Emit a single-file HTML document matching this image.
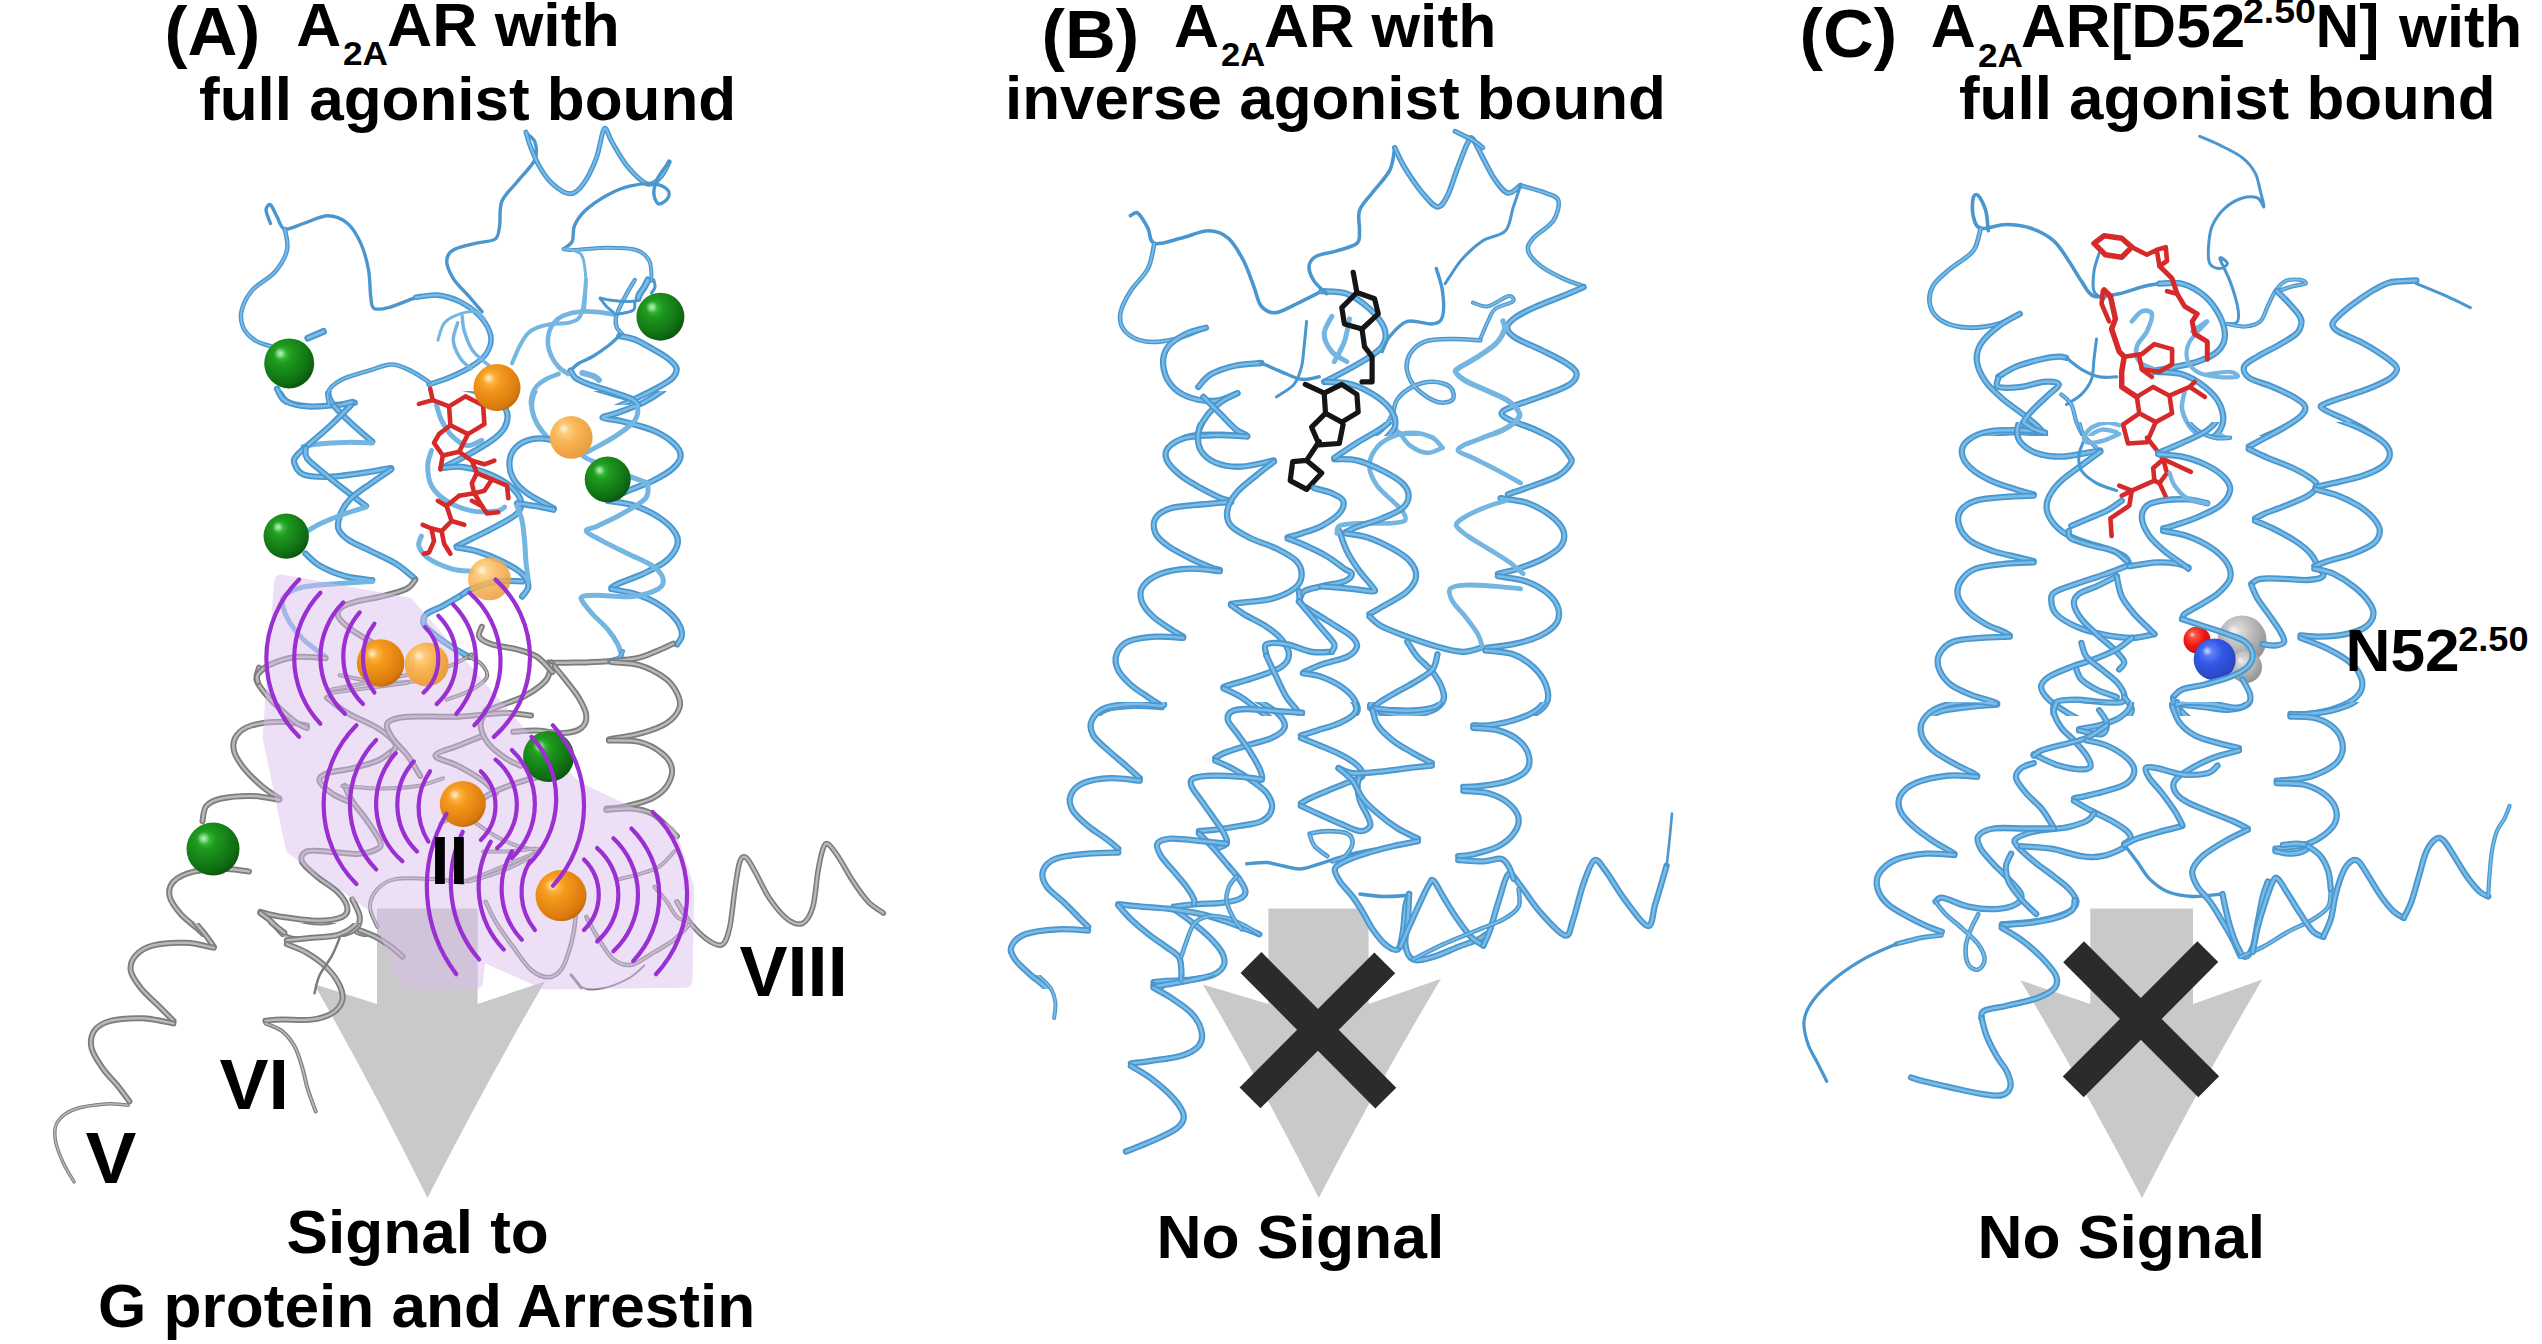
<!DOCTYPE html><html><head><meta charset="utf-8"><title>A2AAR signaling</title><style>html,body{margin:0;padding:0;background:#fff}svg{display:block}text{font-family:"Liberation Sans",sans-serif;font-weight:bold;fill:#000}.b{fill:none;stroke:#4a96cf;stroke-linecap:round;stroke-linejoin:round}.bl{fill:none;stroke:#74b5e1;stroke-linecap:round;stroke-linejoin:round}.bh{fill:none;stroke:#7abce6;stroke-linecap:round;stroke-linejoin:round}.g{fill:none;stroke:#7c7c7c;stroke-linecap:round;stroke-linejoin:round}.gh{fill:none;stroke:#b9b9b9;stroke-linecap:round;stroke-linejoin:round}.p{fill:none;stroke:#9a2fd2;stroke-width:4.2;stroke-linecap:round}.r{fill:none;stroke:#d62a2a;stroke-linecap:round;stroke-linejoin:round}.k{fill:none;stroke:#151515;stroke-linecap:round;stroke-linejoin:round}</style></head><body>
<svg width="2542" height="1344" viewBox="0 0 2542 1344">
<defs>
<radialGradient id="gg" cx="0.36" cy="0.32" r="0.75"><stop offset="0" stop-color="#3fd23f"/><stop offset="0.25" stop-color="#1f9a1f"/><stop offset="0.8" stop-color="#0e6b12"/><stop offset="1" stop-color="#0a4f0d"/></radialGradient>
<radialGradient id="og" cx="0.36" cy="0.32" r="0.75"><stop offset="0" stop-color="#ffc65c"/><stop offset="0.3" stop-color="#f59a1d"/><stop offset="0.85" stop-color="#d9780c"/><stop offset="1" stop-color="#b6600a"/></radialGradient>
<radialGradient id="ol" cx="0.36" cy="0.32" r="0.75"><stop offset="0" stop-color="#ffd98e"/><stop offset="0.4" stop-color="#f9b454"/><stop offset="1" stop-color="#e79a3c"/></radialGradient>
<radialGradient id="gy" cx="0.4" cy="0.32" r="0.75"><stop offset="0" stop-color="#e4e4e4"/><stop offset="0.5" stop-color="#b4b4b4"/><stop offset="1" stop-color="#8a8a8a"/></radialGradient>
<radialGradient id="bl" cx="0.38" cy="0.32" r="0.75"><stop offset="0" stop-color="#6b8cff"/><stop offset="0.4" stop-color="#3358e6"/><stop offset="1" stop-color="#2740b8"/></radialGradient>
<radialGradient id="rd" cx="0.38" cy="0.32" r="0.75"><stop offset="0" stop-color="#ff6a5a"/><stop offset="0.5" stop-color="#f01a10"/><stop offset="1" stop-color="#c40d08"/></radialGradient>
<radialGradient id="sp" cx="0.5" cy="0.5" r="0.5"><stop offset="0" stop-color="#fff" stop-opacity="0.7"/><stop offset="0.5" stop-color="#fff" stop-opacity="0.35"/><stop offset="1" stop-color="#fff" stop-opacity="0"/></radialGradient>
<clipPath id="ca1"><rect x="0" y="0" width="900" height="405"/></clipPath>
<clipPath id="ca2"><rect x="0" y="391" width="900" height="306"/></clipPath>
<clipPath id="ca3"><rect x="0" y="600" width="900" height="337"/></clipPath>
<clipPath id="ca5"><rect x="0" y="923" width="900" height="421"/></clipPath>
<clipPath id="cb1"><rect x="900" y="0" width="900" height="436"/></clipPath>
<clipPath id="cb2"><rect x="900" y="422" width="900" height="294"/></clipPath>
<clipPath id="cb3"><rect x="900" y="702" width="900" height="287"/></clipPath>
<clipPath id="cb4"><rect x="900" y="975" width="900" height="369"/></clipPath>
<clipPath id="cc1"><rect x="1750" y="0" width="800" height="436"/></clipPath>
<clipPath id="cc2"><rect x="1750" y="422" width="800" height="294"/></clipPath>
<clipPath id="cc3"><rect x="1750" y="702" width="800" height="642"/></clipPath>
</defs>
<rect width="2542" height="1344" fill="#fff"/>
<path d="M377 908.5L477.6 908.5L477.6 1004L545 981.5Q483.1 1088 427.5 1198Q373.9 1089.2 314 984L377 1004Z" fill="#c9c9c9"/>
<path d="M1268.4 908.5L1356.6 908.5Q1368.6 908.5 1368.6 927.7L1368.6 1004L1441 978.7Q1376.6 1086.5 1318.7 1198Q1264 1089.4 1202.8 984.4L1268.4 1004Z" fill="#c9c9c9"/>
<path d="M2090.3 908.5L2193 908.5L2193 1004L2262.3 979.5Q2199 1087 2142 1198Q2084.3 1087.3 2020.3 980.2L2090.3 1004Z" fill="#c9c9c9"/>
<circle cx="2242" cy="640" r="24.5" fill="url(#gy)" opacity="1"/>
<circle cx="2233.2" cy="630.2" r="5.9" fill="url(#sp)"/>
<circle cx="2246" cy="667" r="16" fill="url(#gy)" opacity="1"/>
<circle cx="2240.2" cy="660.6" r="3.8" fill="url(#sp)"/>
<circle cx="2197" cy="640" r="13.5" fill="url(#rd)" opacity="1"/>
<circle cx="2192.1" cy="634.6" r="3.2" fill="url(#sp)"/>
<circle cx="2214.7" cy="659.4" r="21" fill="url(#bl)" opacity="1"/>
<circle cx="2207.1" cy="651" r="5" fill="url(#sp)"/>
<path class="b" stroke-width="6.3" d="M276.6 386.3C278.3 388.8 281.5 398 286.7 401.4C292 404.8 300.4 405.8 308.1 406.4C315.9 407.1 325.5 405.8 333.3 405.2C341.1 404.5 351.1 403.1 354.7 402.7" clip-path="url(#ca2)"/>
<path class="bh" stroke-width="2.6" d="M276.6 386.3C278.3 388.8 281.5 398 286.7 401.4C292 404.8 300.4 405.8 308.1 406.4C315.9 407.1 325.5 405.8 333.3 405.2C341.1 404.5 351.1 403.1 354.7 402.7" clip-path="url(#ca2)"/>
<path class="b" stroke-width="6.3" d="M332 383.8C331.4 385.5 327.8 390.1 328.3 393.8C328.7 397.6 330.4 401.2 334.6 406.4C338.8 411.7 347.1 419.4 353.4 425.3C359.7 431.2 369.2 439 372.3 441.7" clip-path="url(#ca2)"/>
<path class="bh" stroke-width="2.6" d="M332 383.8C331.4 385.5 327.8 390.1 328.3 393.8C328.7 397.6 330.4 401.2 334.6 406.4C338.8 411.7 347.1 419.4 353.4 425.3C359.7 431.2 369.2 439 372.3 441.7" clip-path="url(#ca2)"/>
<path class="bl" stroke-width="5" d="M372.3 442.9C367.9 442.9 355.3 442.2 345.9 442.4C336.4 442.6 322.8 443.5 315.7 444.2C308.5 444.9 305.2 446.3 303.1 446.7" clip-path="url(#ca2)"/>
<path class="b" stroke-width="6.3" d="M350.9 405.2C347.6 408.5 337.5 419 330.8 425.3C324.1 431.6 316.3 437.9 310.6 442.9C305 448 299.5 452.2 296.8 455.5C294.1 458.9 293.2 459.9 294.3 463.1C295.3 466.2 297.4 472.1 303.1 474.4C308.7 476.7 318.6 477.1 328.3 476.9C337.9 476.7 350.5 474.6 361 473.2C371.5 471.7 386.2 469 391.2 468.1" clip-path="url(#ca2)"/>
<path class="bh" stroke-width="2.6" d="M350.9 405.2C347.6 408.5 337.5 419 330.8 425.3C324.1 431.6 316.3 437.9 310.6 442.9C305 448 299.5 452.2 296.8 455.5C294.1 458.9 293.2 459.9 294.3 463.1C295.3 466.2 297.4 472.1 303.1 474.4C308.7 476.7 318.6 477.1 328.3 476.9C337.9 476.7 350.5 474.6 361 473.2C371.5 471.7 386.2 469 391.2 468.1" clip-path="url(#ca2)"/>
<path class="b" stroke-width="6.3" d="M305.6 448C305.8 449.7 304.3 454.3 306.9 458C309.4 461.8 314.2 465.2 320.7 470.6C327.2 476.1 338.3 484.9 345.9 490.8C353.4 496.7 362.7 503.4 366 505.9" clip-path="url(#ca2)"/>
<path class="bh" stroke-width="2.6" d="M305.6 448C305.8 449.7 304.3 454.3 306.9 458C309.4 461.8 314.2 465.2 320.7 470.6C327.2 476.1 338.3 484.9 345.9 490.8C353.4 496.7 362.7 503.4 366 505.9" clip-path="url(#ca2)"/>
<path class="b" stroke-width="6.3" d="M391.2 469.4C387.8 471.7 377.8 478.4 371.1 483.2C364.3 488.1 356 493.3 350.9 498.3C345.9 503.4 342.9 508.4 340.8 513.4C338.8 518.5 337.1 524.1 338.3 528.5C339.6 533 342.9 536.1 348.4 539.9C353.9 543.7 363.1 547.2 371.1 551.2C379 555.2 388.9 559.2 396.2 563.8C403.6 568.4 412 576.4 415.1 578.9" clip-path="url(#ca2)"/>
<path class="bh" stroke-width="2.6" d="M391.2 469.4C387.8 471.7 377.8 478.4 371.1 483.2C364.3 488.1 356 493.3 350.9 498.3C345.9 503.4 342.9 508.4 340.8 513.4C338.8 518.5 337.1 524.1 338.3 528.5C339.6 533 342.9 536.1 348.4 539.9C353.9 543.7 363.1 547.2 371.1 551.2C379 555.2 388.9 559.2 396.2 563.8C403.6 568.4 412 576.4 415.1 578.9" clip-path="url(#ca2)"/>
<path class="bl" stroke-width="5" d="M366 507.1C362.7 508.2 353.4 510.7 345.9 513.4C338.3 516.2 327.4 520.4 320.7 523.5C314 526.7 308.1 530.9 305.6 532.3" clip-path="url(#ca2)"/>
<path class="b" stroke-width="6.3" d="M305.6 553.7C308.1 555.8 314 562.5 320.7 566.3C327.4 570.1 337.3 574.1 345.9 576.4C354.5 578.7 367.9 579.5 372.3 580.2" clip-path="url(#ca2)"/>
<path class="bh" stroke-width="2.6" d="M305.6 553.7C308.1 555.8 314 562.5 320.7 566.3C327.4 570.1 337.3 574.1 345.9 576.4C354.5 578.7 367.9 579.5 372.3 580.2" clip-path="url(#ca2)"/>
<path class="bl" stroke-width="5" d="M372.3 581.4C365.8 581.8 345.3 582.9 333.3 583.9C321.3 585 308.7 585.6 300.6 587.7C292.4 589.8 287.1 593.4 284.2 596.5C281.3 599.7 282.1 602.4 282.9 606.6C283.8 610.8 285.9 616.2 289.2 621.7C292.6 627.2 297 633.4 303.1 639.3C309.2 645.2 322 654 325.7 656.9" clip-path="url(#ca2)"/>
<path class="g" stroke-width="6" d="M415.1 580.2C413.7 581.6 412 586.2 406.3 589C400.6 591.7 389.5 594.4 381.1 596.5C372.7 598.6 362.7 599.7 356 601.6C349.2 603.4 343.8 605.3 340.8 607.9C337.9 610.4 336.7 613.1 338.3 616.7C340 620.2 345.5 625.1 350.9 629.3C356.4 633.4 367.7 639.7 371.1 641.8" clip-path="url(#ca2)"/>
<path class="gh" stroke-width="2.5" d="M415.1 580.2C413.7 581.6 412 586.2 406.3 589C400.6 591.7 389.5 594.4 381.1 596.5C372.7 598.6 362.7 599.7 356 601.6C349.2 603.4 343.8 605.3 340.8 607.9C337.9 610.4 336.7 613.1 338.3 616.7C340 620.2 345.5 625.1 350.9 629.3C356.4 633.4 367.7 639.7 371.1 641.8" clip-path="url(#ca2)"/>
<path class="b" stroke-width="6.3" d="M429 380C431.9 380.8 439.5 383.4 446.6 385C453.7 386.7 463.4 387.6 471.8 390.1C480.2 392.6 491.1 396.4 496.9 400.1C502.8 403.9 505.8 408.1 507 412.7C508.3 417.3 507 423.2 504.5 427.8C502 432.5 498.2 435.8 491.9 440.4C485.6 445 474.7 451.1 466.7 455.5C458.8 459.9 447.9 465 444.1 466.9" clip-path="url(#ca2)"/>
<path class="bh" stroke-width="2.6" d="M429 380C431.9 380.8 439.5 383.4 446.6 385C453.7 386.7 463.4 387.6 471.8 390.1C480.2 392.6 491.1 396.4 496.9 400.1C502.8 403.9 505.8 408.1 507 412.7C508.3 417.3 507 423.2 504.5 427.8C502 432.5 498.2 435.8 491.9 440.4C485.6 445 474.7 451.1 466.7 455.5C458.8 459.9 447.9 465 444.1 466.9" clip-path="url(#ca2)"/>
<path class="b" stroke-width="6.3" d="M441.6 468.1C444.9 467.9 454.1 466 461.7 466.9C469.3 467.7 478.9 470 486.9 473.2C494.8 476.3 503.9 481.1 509.5 485.7C515.2 490.4 519.6 496.2 520.9 500.8C522.1 505.5 521.1 509.2 517.1 513.4C513.1 517.6 504.5 521.8 496.9 526C489.4 530.2 478.5 535.3 471.8 538.6C465.1 542 459.2 544.9 456.7 546.2" clip-path="url(#ca2)"/>
<path class="bh" stroke-width="2.6" d="M441.6 468.1C444.9 467.9 454.1 466 461.7 466.9C469.3 467.7 478.9 470 486.9 473.2C494.8 476.3 503.9 481.1 509.5 485.7C515.2 490.4 519.6 496.2 520.9 500.8C522.1 505.5 521.1 509.2 517.1 513.4C513.1 517.6 504.5 521.8 496.9 526C489.4 530.2 478.5 535.3 471.8 538.6C465.1 542 459.2 544.9 456.7 546.2" clip-path="url(#ca2)"/>
<path class="b" stroke-width="6.3" d="M456.7 547.4C460 548.1 469.3 548.9 476.8 551.2C484.4 553.5 494.4 557.5 502 561.3C509.5 565.1 517.7 569.7 522.1 573.9C526.5 578.1 528.4 582.7 528.4 586.5C528.4 590.2 523.2 594.8 522.1 596.5" clip-path="url(#ca2)"/>
<path class="bh" stroke-width="2.6" d="M456.7 547.4C460 548.1 469.3 548.9 476.8 551.2C484.4 553.5 494.4 557.5 502 561.3C509.5 565.1 517.7 569.7 522.1 573.9C526.5 578.1 528.4 582.7 528.4 586.5C528.4 590.2 523.2 594.8 522.1 596.5" clip-path="url(#ca2)"/>
<path class="b" stroke-width="6.3" d="M522.1 581.4C517.9 581.4 505.3 580.2 496.9 581.4C488.6 582.7 478.1 586.5 471.8 589C465.5 591.5 461.3 595.3 459.2 596.5" clip-path="url(#ca2)"/>
<path class="bh" stroke-width="2.6" d="M522.1 581.4C517.9 581.4 505.3 580.2 496.9 581.4C488.6 582.7 478.1 586.5 471.8 589C465.5 591.5 461.3 595.3 459.2 596.5" clip-path="url(#ca2)"/>
<path class="b" stroke-width="6.3" d="M459.2 596.5C456.2 598.2 447 603.7 441.6 606.6C436.1 609.5 429.4 611.2 426.5 614.1C423.5 617.1 422.7 620.9 423.9 624.2C425.2 627.6 429.4 630.5 434 634.3C438.6 638.1 445.8 643.1 451.6 646.9C457.5 650.7 466.3 655.3 469.3 656.9" clip-path="url(#ca2)"/>
<path class="bh" stroke-width="2.6" d="M459.2 596.5C456.2 598.2 447 603.7 441.6 606.6C436.1 609.5 429.4 611.2 426.5 614.1C423.5 617.1 422.7 620.9 423.9 624.2C425.2 627.6 429.4 630.5 434 634.3C438.6 638.1 445.8 643.1 451.6 646.9C457.5 650.7 466.3 655.3 469.3 656.9" clip-path="url(#ca2)"/>
<path class="bl" stroke-width="5" d="M436.5 405.2C437.4 407.7 439 415.2 441.6 420.3C444.1 425.3 447.4 431.2 451.6 435.4C455.8 439.6 461.7 444.6 466.7 445.5C471.8 446.3 479.3 441.3 481.8 440.4" clip-path="url(#ca2)"/>
<path class="bl" stroke-width="5" d="M431.5 450.5C430.9 453 427.7 459.7 427.7 465.6C427.7 471.5 428.3 479.9 431.5 485.7C434.6 491.6 439.9 496.7 446.6 500.8C453.3 505 463.4 509.2 471.8 510.9C480.2 512.6 491.5 511.5 496.9 510.9C502.4 510.3 503.2 507.8 504.5 507.1" clip-path="url(#ca2)"/>
<path class="bl" stroke-width="5" d="M421.4 536.1C421 537.8 417.6 542.4 418.9 546.2C420.2 549.9 423.5 555 429 558.8C434.4 562.5 444.5 566.7 451.6 568.8C458.8 570.9 468.4 570.9 471.8 571.3" clip-path="url(#ca2)"/>
<path class="bl" stroke-width="5" d="M542.3 380C540.8 382.5 535.1 390.1 533.5 395.1C531.8 400.1 531.1 404.8 532.2 410.2C533.2 415.7 536 422.4 539.7 427.8C543.5 433.3 548.6 439.4 554.9 442.9C561.1 446.5 573.7 448.2 577.5 449.2" clip-path="url(#ca2)"/>
<path class="b" stroke-width="6.3" d="M577.5 449.2C572.5 447.6 555.7 440.6 547.3 439.2C538.9 437.7 532.8 438.5 527.2 440.4C521.5 442.3 516.2 446.3 513.3 450.5C510.4 454.7 509.3 460.6 509.5 465.6C509.7 470.6 511.6 476.1 514.6 480.7C517.5 485.3 522.1 489.5 527.2 493.3C532.2 497.1 540.4 500.8 544.8 503.4C549.2 505.9 552.1 507.6 553.6 508.4" clip-path="url(#ca2)"/>
<path class="bh" stroke-width="2.6" d="M577.5 449.2C572.5 447.6 555.7 440.6 547.3 439.2C538.9 437.7 532.8 438.5 527.2 440.4C521.5 442.3 516.2 446.3 513.3 450.5C510.4 454.7 509.3 460.6 509.5 465.6C509.7 470.6 511.6 476.1 514.6 480.7C517.5 485.3 522.1 489.5 527.2 493.3C532.2 497.1 540.4 500.8 544.8 503.4C549.2 505.9 552.1 507.6 553.6 508.4" clip-path="url(#ca2)"/>
<path class="b" stroke-width="6.3" d="M553.6 509.7C550.4 509 540.8 506.9 534.7 505.9C528.6 504.8 520 503.8 517.1 503.4" clip-path="url(#ca2)"/>
<path class="bh" stroke-width="2.6" d="M553.6 509.7C550.4 509 540.8 506.9 534.7 505.9C528.6 504.8 520 503.8 517.1 503.4" clip-path="url(#ca2)"/>
<path class="bl" stroke-width="5" d="M517.1 505.9C517.9 508.4 520.9 515.1 522.1 521C523.4 526.9 524 534.4 524.6 541.1C525.3 547.8 525.3 554.6 525.9 561.3C526.5 568 528 578.1 528.4 581.4" clip-path="url(#ca2)"/>
<path class="b" stroke-width="6.3" d="M572.5 380C575.8 381.3 585.1 385 592.6 387.6C600.2 390.1 611.1 393.2 617.8 395.1C624.5 397 630.4 398.3 632.9 398.9" clip-path="url(#ca2)"/>
<path class="bh" stroke-width="2.6" d="M572.5 380C575.8 381.3 585.1 385 592.6 387.6C600.2 390.1 611.1 393.2 617.8 395.1C624.5 397 630.4 398.3 632.9 398.9" clip-path="url(#ca2)"/>
<path class="b" stroke-width="6.3" d="M673.2 380C671.5 381.7 668.2 386.3 663.1 390.1C658.1 393.8 650.5 398.9 643 402.7C635.4 406.4 624.5 410.2 617.8 412.7C611.1 415.2 601.9 416.3 602.7 417.8C603.5 419.2 614.4 419.4 622.8 421.5C631.2 423.6 644.7 426.8 653 430.4C661.4 433.9 668.6 438.7 673.2 442.9C677.8 447.1 680.7 451.3 680.7 455.5C680.7 459.7 677.8 463.9 673.2 468.1C668.6 472.3 660.6 476.9 653 480.7C645.5 484.5 635.4 487.6 627.9 490.8C620.3 493.9 611.1 498.1 607.7 499.6" clip-path="url(#ca2)"/>
<path class="bh" stroke-width="2.6" d="M673.2 380C671.5 381.7 668.2 386.3 663.1 390.1C658.1 393.8 650.5 398.9 643 402.7C635.4 406.4 624.5 410.2 617.8 412.7C611.1 415.2 601.9 416.3 602.7 417.8C603.5 419.2 614.4 419.4 622.8 421.5C631.2 423.6 644.7 426.8 653 430.4C661.4 433.9 668.6 438.7 673.2 442.9C677.8 447.1 680.7 451.3 680.7 455.5C680.7 459.7 677.8 463.9 673.2 468.1C668.6 472.3 660.6 476.9 653 480.7C645.5 484.5 635.4 487.6 627.9 490.8C620.3 493.9 611.1 498.1 607.7 499.6" clip-path="url(#ca2)"/>
<path class="b" stroke-width="6.3" d="M607.7 500.8C612.3 501.7 626.6 502.9 635.4 505.9C644.2 508.8 653.9 513.9 660.6 518.5C667.3 523.1 673 529 675.7 533.6C678.4 538.2 678.6 541.6 677 546.2C675.3 550.8 671.3 556.7 665.6 561.3C660 565.9 650.9 570.1 643 573.9C635 577.6 623 581.6 617.8 583.9C612.6 586.2 612.6 587.1 611.5 587.7" clip-path="url(#ca2)"/>
<path class="bh" stroke-width="2.6" d="M607.7 500.8C612.3 501.7 626.6 502.9 635.4 505.9C644.2 508.8 653.9 513.9 660.6 518.5C667.3 523.1 673 529 675.7 533.6C678.4 538.2 678.6 541.6 677 546.2C675.3 550.8 671.3 556.7 665.6 561.3C660 565.9 650.9 570.1 643 573.9C635 577.6 623 581.6 617.8 583.9C612.6 586.2 612.6 587.1 611.5 587.7" clip-path="url(#ca2)"/>
<path class="b" stroke-width="6.3" d="M611.5 589C615.5 589.8 627.7 591.5 635.4 594C643.2 596.5 651.4 599.9 658.1 604.1C664.8 608.3 671.7 614.1 675.7 619.2C679.7 624.2 681.8 630.1 682 634.3C682.2 638.5 677.8 642.7 677 644.4" clip-path="url(#ca2)"/>
<path class="bh" stroke-width="2.6" d="M611.5 589C615.5 589.8 627.7 591.5 635.4 594C643.2 596.5 651.4 599.9 658.1 604.1C664.8 608.3 671.7 614.1 675.7 619.2C679.7 624.2 681.8 630.1 682 634.3C682.2 638.5 677.8 642.7 677 644.4" clip-path="url(#ca2)"/>
<path class="bl" stroke-width="5" d="M632.9 400.1C633.7 401.8 637.9 406.4 637.9 410.2C637.9 414 637.1 418.2 632.9 422.8C628.7 427.4 619.9 433.3 612.8 437.9C605.6 442.5 595.1 447.6 590.1 450.5C585.1 453.4 580.5 453 582.5 455.5C584.6 458 595.1 462.2 602.7 465.6C610.2 469 620.3 472.7 627.9 475.7C635.4 478.6 644.7 482 648 483.2" clip-path="url(#ca2)"/>
<path class="bl" stroke-width="5" d="M648 484.5C647.6 486.8 649.7 493.5 645.5 498.3C641.3 503.2 630.8 508.8 622.8 513.4C614.9 518.1 603.7 523.1 597.7 526C591.6 529 585.5 528.5 586.3 531.1C587.2 533.6 595.8 537.4 602.7 541.1C609.6 544.9 619.5 549.5 627.9 553.7C636.3 557.9 647.2 562.1 653 566.3C658.9 570.5 662.3 575.1 663.1 578.9C664 582.7 663.1 586 658.1 589C653 591.9 643 595.5 632.9 596.5C622.8 597.6 606 595.3 597.7 595.3C589.3 595.3 585.1 595.5 582.5 596.5C580 597.6 580.9 598.6 582.5 601.6C584.2 604.5 588.4 609.5 592.6 614.1C596.8 618.8 603.5 624.2 607.7 629.3C611.9 634.3 615.3 639.3 617.8 644.4C620.3 649.4 622 656.9 622.8 659.5" clip-path="url(#ca2)"/>
<path class="b" stroke-width="3.4" d="M270.5 223.5C269.8 221.3 266.1 213.4 266.1 210.3C266.1 207.2 268.7 203.7 270.5 204.8C272.3 205.9 274.7 212.9 277.1 216.9C279.5 221 280.4 227.9 284.8 229C289.2 230.1 296.4 225.7 303.5 223.5C310.7 221.3 320.4 215.8 327.8 215.8C335.1 215.8 342.1 219 347.6 223.5C353.1 228.1 357.3 235.7 360.8 243.4C364.3 251.1 366.9 261 368.5 269.8C370.2 278.6 369.8 289.8 370.7 296.2C371.6 302.7 370.9 306.5 374 308.4C377.2 310.2 382.5 309.1 389.5 307.3C396.4 305.4 411.5 299 415.9 297.3" clip-path="url(#ca1)"/>
<path class="b" stroke-width="5.6" d="M415.9 297.3C419.6 297 430.6 294.4 437.9 295.1C445.3 295.9 453 298.3 460 301.7C466.9 305.2 474.6 310.4 479.8 316.1C484.9 321.8 489.7 329.7 490.8 335.9C491.9 342.1 489.7 348.4 486.4 353.5C483.1 358.7 477.2 362.7 471 366.7C464.7 370.8 455.9 374.8 448.9 377.7C442 380.7 432.4 383.3 429.1 384.4" clip-path="url(#ca1)"/>
<path class="bh" stroke-width="2.4" d="M415.9 297.3C419.6 297 430.6 294.4 437.9 295.1C445.3 295.9 453 298.3 460 301.7C466.9 305.2 474.6 310.4 479.8 316.1C484.9 321.8 489.7 329.7 490.8 335.9C491.9 342.1 489.7 348.4 486.4 353.5C483.1 358.7 477.2 362.7 471 366.7C464.7 370.8 455.9 374.8 448.9 377.7C442 380.7 432.4 383.3 429.1 384.4" clip-path="url(#ca1)"/>
<path class="b" stroke-width="4.5" d="M284.8 229C285.2 232.5 288.7 242.8 287 250C285.4 257.1 280.6 265.4 274.9 272C269.2 278.6 258.4 283.4 252.9 289.6C247.4 295.9 243.5 303.2 241.9 309.5C240.2 315.7 240.8 321.9 243 327.1C245.2 332.2 250.1 337 255.1 340.3C260 343.6 269.8 345.8 272.7 346.9" clip-path="url(#ca1)"/>
<path class="bh" stroke-width="1.9" d="M284.8 229C285.2 232.5 288.7 242.8 287 250C285.4 257.1 280.6 265.4 274.9 272C269.2 278.6 258.4 283.4 252.9 289.6C247.4 295.9 243.5 303.2 241.9 309.5C240.2 315.7 240.8 321.9 243 327.1C245.2 332.2 250.1 337 255.1 340.3C260 343.6 269.8 345.8 272.7 346.9" clip-path="url(#ca1)"/>
<path class="b" stroke-width="7" d="M307.9 338.1L323.4 331.5" clip-path="url(#ca1)"/>
<path class="bh" stroke-width="2.9" d="M307.9 338.1L323.4 331.5" clip-path="url(#ca1)"/>
<path class="b" stroke-width="6.3" d="M277.1 388.8C278.2 390.6 280 396.8 283.7 399.8C287.4 402.7 292.5 404.9 299.1 406.4C305.7 407.9 314.6 409.3 323.4 408.6C332.2 407.9 347.2 403.1 352 402" clip-path="url(#ca1)"/>
<path class="bh" stroke-width="2.6" d="M277.1 388.8C278.2 390.6 280 396.8 283.7 399.8C287.4 402.7 292.5 404.9 299.1 406.4C305.7 407.9 314.6 409.3 323.4 408.6C332.2 407.9 347.2 403.1 352 402" clip-path="url(#ca1)"/>
<path class="b" stroke-width="4.5" d="M332.2 415.2C331.4 411.5 326.3 399 327.8 393.2C329.2 387.3 334.4 383.6 341 380C347.6 376.3 359 373.7 367.4 371.1C375.9 368.6 384.3 364.5 391.7 364.5C399 364.5 405.2 368.2 411.5 371.1C417.7 374.1 426.2 380.3 429.1 382.2" clip-path="url(#ca1)"/>
<path class="bh" stroke-width="1.9" d="M332.2 415.2C331.4 411.5 326.3 399 327.8 393.2C329.2 387.3 334.4 383.6 341 380C347.6 376.3 359 373.7 367.4 371.1C375.9 368.6 384.3 364.5 391.7 364.5C399 364.5 405.2 368.2 411.5 371.1C417.7 374.1 426.2 380.3 429.1 382.2" clip-path="url(#ca1)"/>
<path class="bl" stroke-width="3" d="M437.9 340.3C439 337.4 440.9 327.1 444.5 322.7C448.2 318.3 454.8 315.7 460 313.9C465.1 312 471.3 310.9 475.4 311.7C479.4 312.4 482.7 317.2 484.2 318.3" clip-path="url(#ca1)"/>
<path class="bl" stroke-width="3.5" d="M457.7 322.7C457 325.6 453 334.4 453.3 340.3C453.7 346.2 457 353.1 460 357.9C462.9 362.7 469.1 367.1 471 368.9" clip-path="url(#ca1)"/>
<path class="b" stroke-width="3.4" d="M526 133.2C527.5 134.7 533.4 137.6 534.9 142C536.3 146.4 537.8 153 534.9 159.7C531.9 166.3 522.7 174.7 517.2 181.7C511.7 188.7 504.7 194.2 501.8 201.5C498.9 208.9 500.7 219.5 499.6 225.7C498.5 232 499.2 236 495.2 239C491.2 241.9 482.3 241.5 475.4 243.4C468.4 245.2 458.1 247 453.3 250C448.6 252.9 446.7 256.2 446.7 261C446.7 265.8 449.7 272.7 453.3 278.6C457 284.5 464 290.7 468.8 296.2C473.5 301.7 479.8 309.1 482 311.7" clip-path="url(#ca1)"/>
<path class="b" stroke-width="5" d="M526 132.1C526.8 134.5 528.2 140.7 530.4 146.4C532.7 152.1 535.6 160 539.3 166.3C542.9 172.5 547.3 179.3 552.5 183.9C557.6 188.5 565 193.8 570.1 193.8C575.2 193.8 578.9 189.9 583.3 183.9C587.7 177.8 593.1 166.6 596.5 157.5C600 148.3 601.7 131.4 604.2 128.8C606.8 126.2 608.1 135.8 612 142C615.8 148.3 621.5 159.3 627.4 166.3C633.3 173.2 641.7 182.1 647.2 183.9C652.7 185.7 656.8 180.9 660.4 177.3C664.1 173.6 667.8 164.4 669.2 161.9" clip-path="url(#ca1)"/>
<path class="bh" stroke-width="2.1" d="M526 132.1C526.8 134.5 528.2 140.7 530.4 146.4C532.7 152.1 535.6 160 539.3 166.3C542.9 172.5 547.3 179.3 552.5 183.9C557.6 188.5 565 193.8 570.1 193.8C575.2 193.8 578.9 189.9 583.3 183.9C587.7 177.8 593.1 166.6 596.5 157.5C600 148.3 601.7 131.4 604.2 128.8C606.8 126.2 608.1 135.8 612 142C615.8 148.3 621.5 159.3 627.4 166.3C633.3 173.2 641.7 182.1 647.2 183.9C652.7 185.7 656.8 180.9 660.4 177.3C664.1 173.6 667.8 164.4 669.2 161.9" clip-path="url(#ca1)"/>
<path class="b" stroke-width="3.4" d="M669.2 161.9C667.4 164.4 660.8 172.1 658.2 177.3C655.7 182.4 653.8 188.3 653.8 192.7C653.8 197.1 656 202.6 658.2 203.7C660.4 204.8 665.4 201.5 667 199.3C668.7 197.1 670.3 193.1 668.1 190.5C665.9 187.9 660.2 184.6 653.8 183.9C647.4 183.2 637.3 184.3 629.6 186.1C621.9 187.9 614.9 190.9 607.6 194.9C600.2 198.9 591 205.2 585.5 210.3C580 215.5 576.7 220.6 574.5 225.7C572.3 230.9 574.1 237.3 572.3 241.2C570.5 245 565 247.6 563.5 248.9" clip-path="url(#ca1)"/>
<path class="b" stroke-width="4" d="M563.5 248.9C565.3 249.1 567.2 250.2 574.5 250C581.9 249.8 597.3 247.8 607.6 247.8C617.8 247.8 629.2 247.8 636.2 250C643.2 252.2 646.8 255.9 649.4 261C652 266.1 651.2 277.5 651.6 280.8" clip-path="url(#ca1)"/>
<path class="bh" stroke-width="1.7" d="M563.5 248.9C565.3 249.1 567.2 250.2 574.5 250C581.9 249.8 597.3 247.8 607.6 247.8C617.8 247.8 629.2 247.8 636.2 250C643.2 252.2 646.8 255.9 649.4 261C652 266.1 651.2 277.5 651.6 280.8" clip-path="url(#ca1)"/>
<path class="b" stroke-width="4.4" d="M634.8 280C633.4 282.4 629.2 289.1 626.4 294.3C623.7 299.4 619.9 306.8 618.1 311C616.3 315.1 615.9 316.5 615.7 319.3C615.5 322.1 615.7 325 616.9 327.6C618.1 330.2 621.9 333.6 622.9 334.8" clip-path="url(#ca1)"/>
<path class="bh" stroke-width="1.8" d="M634.8 280C633.4 282.4 629.2 289.1 626.4 294.3C623.7 299.4 619.9 306.8 618.1 311C616.3 315.1 615.9 316.5 615.7 319.3C615.5 322.1 615.7 325 616.9 327.6C618.1 330.2 621.9 333.6 622.9 334.8" clip-path="url(#ca1)"/>
<path class="b" stroke-width="6.3" d="M619.3 336C621.9 336.5 629.2 337.3 634.8 339.5C640.3 341.7 647.1 345.9 652.6 349C658.2 352.2 664.1 355.4 668.1 358.6C672.1 361.7 675.6 364.9 676.4 368.1C677.2 371.3 675.8 374.4 672.9 377.6C669.9 380.8 664.9 383.6 658.6 387.1C652.2 390.7 642.7 395.3 634.8 399C626.8 402.8 616.2 407 611 409.8C605.7 412.5 603.2 414.3 603.2 415.7C603.2 417.1 605.7 416.9 611 418.1C616.2 419.3 627.8 420.9 634.8 422.9C641.7 424.8 647.5 427.1 652.6 430C657.8 432.9 663.5 438.3 665.7 440" clip-path="url(#ca1)"/>
<path class="bh" stroke-width="2.6" d="M619.3 336C621.9 336.5 629.2 337.3 634.8 339.5C640.3 341.7 647.1 345.9 652.6 349C658.2 352.2 664.1 355.4 668.1 358.6C672.1 361.7 675.6 364.9 676.4 368.1C677.2 371.3 675.8 374.4 672.9 377.6C669.9 380.8 664.9 383.6 658.6 387.1C652.2 390.7 642.7 395.3 634.8 399C626.8 402.8 616.2 407 611 409.8C605.7 412.5 603.2 414.3 603.2 415.7C603.2 417.1 605.7 416.9 611 418.1C616.2 419.3 627.8 420.9 634.8 422.9C641.7 424.8 647.5 427.1 652.6 430C657.8 432.9 663.5 438.3 665.7 440" clip-path="url(#ca1)"/>
<path class="b" stroke-width="3.4" d="M620.5 334.8C618.5 336.5 613.1 341.9 608.6 345.5C604 349 598.1 353.2 593.1 356.2C588.1 359.2 582.4 361.2 578.8 363.3C575.2 365.5 572.9 368.3 571.7 369.3" clip-path="url(#ca1)"/>
<path class="b" stroke-width="6.3" d="M570.5 370.5C571.3 371.7 572.5 375.4 575.2 377.6C578 379.8 582.2 381.6 587.1 383.6C592.1 385.6 599 387.5 605 389.5C611 391.5 618.1 393.7 622.9 395.5C627.6 397.3 630.8 398.3 633.6 400.2C636.3 402.2 638.7 405 639.5 407.4C640.3 409.8 639.3 411.9 638.3 414.5C637.3 417.1 636.2 420.1 633.6 422.9C631 425.6 626.6 428.8 622.9 431.2C619.1 433.6 614.1 435.7 611 437.1C607.8 438.6 605 439.5 603.8 440" clip-path="url(#ca1)"/>
<path class="bh" stroke-width="2.6" d="M570.5 370.5C571.3 371.7 572.5 375.4 575.2 377.6C578 379.8 582.2 381.6 587.1 383.6C592.1 385.6 599 387.5 605 389.5C611 391.5 618.1 393.7 622.9 395.5C627.6 397.3 630.8 398.3 633.6 400.2C636.3 402.2 638.7 405 639.5 407.4C640.3 409.8 639.3 411.9 638.3 414.5C637.3 417.1 636.2 420.1 633.6 422.9C631 425.6 626.6 428.8 622.9 431.2C619.1 433.6 614.1 435.7 611 437.1C607.8 438.6 605 439.5 603.8 440" clip-path="url(#ca1)"/>
<path class="bl" stroke-width="6" d="M582.4 372.9C584.4 373.5 591.5 375.2 594.3 376.4C597.1 377.6 598.3 379.4 599 380" clip-path="url(#ca1)"/>
<path class="bl" stroke-width="4.6" d="M613.3 314.5C611 314.1 604.4 312.6 599 312.1C593.7 311.6 587.1 311 581.2 311.5C575.2 312.1 567.9 313.8 563.3 315.7C558.8 317.6 556.2 320.1 553.8 322.9C551.4 325.6 550 328.8 549 332.4C548.1 336 547.5 340.3 547.9 344.3C548.3 348.3 549.6 352.4 551.4 356.2C553.2 360 555.8 363.9 558.6 366.9C561.3 369.9 566.5 372.9 568.1 374" clip-path="url(#ca1)"/>
<path class="bl" stroke-width="4" d="M512.1 363.3C513.3 360.6 516.7 351.6 519.3 346.7C521.9 341.7 524.6 336.7 527.6 333.6C530.6 330.4 533.2 329.2 537.1 327.6C541.1 326 546.3 324.8 551.4 324C556.6 323.3 563.7 323.7 568.1 322.9C572.5 322.1 575.2 321.3 577.6 319.3C580 317.3 581.2 315.1 582.4 311C583.6 306.8 584.2 299.4 584.8 294.3C585.4 289.1 585.8 282.4 586 280" clip-path="url(#ca1)"/>
<path class="bl" stroke-width="4.6" d="M558.6 374C556.6 374.8 550.4 376.6 546.7 378.8C542.9 381 538.5 383.8 536 387.1C533.4 390.5 531.8 395.1 531.2 399C530.6 403 531 407 532.4 411C533.8 414.9 536.7 419.1 539.5 422.9C542.3 426.6 546.7 430.7 549 433.6C551.4 436.4 553 438.9 553.8 440" clip-path="url(#ca1)"/>
<path class="b" stroke-width="3" d="M600.2 297.9C602 298.3 606.2 299.6 611 300.2C615.7 300.8 624 301.4 628.8 301.4C633.6 301.4 637.7 300.4 639.5 300.2" clip-path="url(#ca1)"/>
<path class="b" stroke-width="3" d="M600.2 298.5C601.2 299.7 604 303.9 606.2 306.2C608.4 308.5 612.1 311.2 613.3 312.1" clip-path="url(#ca1)"/>
<path class="b" stroke-width="3" d="M634.8 301.4C634.6 302.8 635.6 307.8 633.6 309.8C631.6 311.7 626 312.5 622.9 313.3C619.7 314.1 615.9 314.3 614.5 314.5" clip-path="url(#ca1)"/>
<path class="b" stroke-width="3" d="M653.8 280C654 281.2 655.4 285 655 287.1C654.6 289.3 652 292.1 651.4 293.1" clip-path="url(#ca1)"/>
<path class="b" stroke-width="7" d="M647.9 280C647.3 281.2 645.7 284.8 644.3 287.1C642.9 289.5 640.5 292.5 639.5 294.3C638.5 296.1 638.5 297.3 638.3 297.9" clip-path="url(#ca1)"/>
<path class="bh" stroke-width="2.9" d="M647.9 280C647.3 281.2 645.7 284.8 644.3 287.1C642.9 289.5 640.5 292.5 639.5 294.3C638.5 296.1 638.5 297.3 638.3 297.9" clip-path="url(#ca1)"/>
<path class="bl" stroke-width="3" d="M565.7 248.9C568.3 249.8 577.8 250.2 581.1 254.4C584.4 258.6 584.8 267.2 585.5 274.2C586.3 281.2 585.7 290.2 585.5 296.2C585.3 302.3 584.6 308.2 584.4 310.6" clip-path="url(#ca1)"/>
<path class="bl" stroke-width="3.5" d="M462.2 316.1C462.5 318.6 462.5 325.6 464.4 331.5C466.2 337.4 468.4 345.1 473.2 351.3C477.9 357.6 489.7 366 493 368.9" clip-path="url(#ca1)"/>
<path class="g" stroke-width="6" d="M306.9 725.5C302.8 724.9 291 721.8 281.8 721.8C272.5 721.8 259.1 723.2 251.6 725.5C244 727.8 239.4 731.4 236.5 735.6C233.5 739.8 232.7 745.3 233.9 750.7C235.2 756.2 239.4 762.5 244 768.3C248.6 774.2 255.8 780.9 261.6 786C267.5 791 276.3 796.4 279.3 798.5" clip-path="url(#ca3)"/>
<path class="gh" stroke-width="2.5" d="M306.9 725.5C302.8 724.9 291 721.8 281.8 721.8C272.5 721.8 259.1 723.2 251.6 725.5C244 727.8 239.4 731.4 236.5 735.6C233.5 739.8 232.7 745.3 233.9 750.7C235.2 756.2 239.4 762.5 244 768.3C248.6 774.2 255.8 780.9 261.6 786C267.5 791 276.3 796.4 279.3 798.5" clip-path="url(#ca3)"/>
<path class="g" stroke-width="6" d="M279.3 799.8C274.6 799.2 261.2 796.2 251.6 796C241.9 795.8 228.9 796.9 221.3 798.5C213.8 800.2 209.4 802.3 206.2 806.1C203.1 809.9 203.1 818.7 202.5 821.2" clip-path="url(#ca3)"/>
<path class="gh" stroke-width="2.5" d="M279.3 799.8C274.6 799.2 261.2 796.2 251.6 796C241.9 795.8 228.9 796.9 221.3 798.5C213.8 800.2 209.4 802.3 206.2 806.1C203.1 809.9 203.1 818.7 202.5 821.2" clip-path="url(#ca3)"/>
<path class="g" stroke-width="6" d="M249 871.6C245.3 871.1 235.6 869 226.4 869C217.1 869 202.5 869.5 193.7 871.6C184.8 873.7 177.5 877.4 173.5 881.6C169.5 885.8 168.5 891.3 169.7 896.7C171 902.2 175.8 908.5 181.1 914.4C186.3 920.2 195.5 926.5 201.2 932C206.9 937.4 212.7 944.6 215.1 947.1" clip-path="url(#ca3)"/>
<path class="gh" stroke-width="2.5" d="M249 871.6C245.3 871.1 235.6 869 226.4 869C217.1 869 202.5 869.5 193.7 871.6C184.8 873.7 177.5 877.4 173.5 881.6C169.5 885.8 168.5 891.3 169.7 896.7C171 902.2 175.8 908.5 181.1 914.4C186.3 920.2 195.5 926.5 201.2 932C206.9 937.4 212.7 944.6 215.1 947.1" clip-path="url(#ca3)"/>
<path class="g" stroke-width="6" d="M215.1 948.3C210.2 947.7 196.8 944.6 186.1 944.6C175.4 944.6 159.7 945.8 150.8 948.3C142 950.9 136.6 955.3 133.2 959.7C129.9 964.1 129.9 970.1 130.7 974.8C131.5 979.5 137 985.7 138.3 987.9" clip-path="url(#ca3)"/>
<path class="gh" stroke-width="2.5" d="M215.1 948.3C210.2 947.7 196.8 944.6 186.1 944.6C175.4 944.6 159.7 945.8 150.8 948.3C142 950.9 136.6 955.3 133.2 959.7C129.9 964.1 129.9 970.1 130.7 974.8C131.5 979.5 137 985.7 138.3 987.9" clip-path="url(#ca3)"/>
<path class="g" stroke-width="6" d="M259.1 667.6C258.7 669.7 255.3 675.6 256.6 680.2C257.9 684.8 262.5 690.3 266.7 695.3C270.9 700.4 276.7 705.8 281.8 710.4C286.8 715 292.7 720.1 296.9 723C301.1 726 305.3 727.2 306.9 728" clip-path="url(#ca3)"/>
<path class="gh" stroke-width="2.5" d="M259.1 667.6C258.7 669.7 255.3 675.6 256.6 680.2C257.9 684.8 262.5 690.3 266.7 695.3C270.9 700.4 276.7 705.8 281.8 710.4C286.8 715 292.7 720.1 296.9 723C301.1 726 305.3 727.2 306.9 728" clip-path="url(#ca3)"/>
<path class="g" stroke-width="6" d="M392.5 750.7C390 752.4 384.2 757.8 377.4 760.8C370.7 763.7 360.7 766.2 352.3 768.3C343.9 770.4 332.5 771.3 327.1 773.4C321.6 775.5 318.7 777.6 319.5 780.9C320.4 784.3 327.5 790.2 332.1 793.5C336.7 796.9 344.7 799.8 347.2 801.1" clip-path="url(#ca3)"/>
<path class="gh" stroke-width="2.5" d="M392.5 750.7C390 752.4 384.2 757.8 377.4 760.8C370.7 763.7 360.7 766.2 352.3 768.3C343.9 770.4 332.5 771.3 327.1 773.4C321.6 775.5 318.7 777.6 319.5 780.9C320.4 784.3 327.5 790.2 332.1 793.5C336.7 796.9 344.7 799.8 347.2 801.1" clip-path="url(#ca3)"/>
<path class="g" stroke-width="6" d="M344.7 786C346 788.5 348.5 795.2 352.3 801.1C356 806.9 362.8 814.5 367.4 821.2C372 827.9 378.3 836.7 380 841.3C381.6 846 381.2 846.8 377.4 848.9C373.7 851 365.7 853.5 357.3 853.9C348.9 854.4 335.5 851.8 327.1 851.4C318.7 851 311.1 849.7 306.9 851.4C302.8 853.1 300.2 857.3 301.9 861.5C303.6 865.7 311.1 871.6 317 876.6C322.9 881.6 332.1 886.7 337.2 891.7C342.2 896.7 346.4 902.6 347.2 906.8C348.1 911 347.2 914.6 342.2 916.9C337.2 919.2 327.1 920.7 317 920.7C306.9 920.7 291.2 918.3 281.8 916.9C272.3 915.4 263.9 912.7 260.4 911.8" clip-path="url(#ca3)"/>
<path class="gh" stroke-width="2.5" d="M344.7 786C346 788.5 348.5 795.2 352.3 801.1C356 806.9 362.8 814.5 367.4 821.2C372 827.9 378.3 836.7 380 841.3C381.6 846 381.2 846.8 377.4 848.9C373.7 851 365.7 853.5 357.3 853.9C348.9 854.4 335.5 851.8 327.1 851.4C318.7 851 311.1 849.7 306.9 851.4C302.8 853.1 300.2 857.3 301.9 861.5C303.6 865.7 311.1 871.6 317 876.6C322.9 881.6 332.1 886.7 337.2 891.7C342.2 896.7 346.4 902.6 347.2 906.8C348.1 911 347.2 914.6 342.2 916.9C337.2 919.2 327.1 920.7 317 920.7C306.9 920.7 291.2 918.3 281.8 916.9C272.3 915.4 263.9 912.7 260.4 911.8" clip-path="url(#ca3)"/>
<path class="g" stroke-width="6" d="M260.4 913.1C262.3 914.6 267.3 917.9 271.7 921.9C276.1 925.9 280.9 934.1 286.8 937C292.7 940 299.4 939.5 306.9 939.5C314.5 939.5 324.2 938.7 332.1 937C340.1 935.3 350.2 932.8 354.8 929.5C359.4 926.1 360.2 921.9 359.8 916.9C359.4 911.8 353.5 902.2 352.3 899.3" clip-path="url(#ca3)"/>
<path class="gh" stroke-width="2.5" d="M260.4 913.1C262.3 914.6 267.3 917.9 271.7 921.9C276.1 925.9 280.9 934.1 286.8 937C292.7 940 299.4 939.5 306.9 939.5C314.5 939.5 324.2 938.7 332.1 937C340.1 935.3 350.2 932.8 354.8 929.5C359.4 926.1 360.2 921.9 359.8 916.9C359.4 911.8 353.5 902.2 352.3 899.3" clip-path="url(#ca3)"/>
<path class="g" stroke-width="6" d="M286.8 944.6C290.2 945.8 300.2 948.3 306.9 952.1C313.7 955.9 321.6 961.3 327.1 967.2C332.5 973.2 337.6 984.4 339.7 987.9" clip-path="url(#ca3)"/>
<path class="gh" stroke-width="2.5" d="M286.8 944.6C290.2 945.8 300.2 948.3 306.9 952.1C313.7 955.9 321.6 961.3 327.1 967.2C332.5 973.2 337.6 984.4 339.7 987.9" clip-path="url(#ca3)"/>
<path class="g" stroke-width="6" d="M357.3 932C360.7 933.2 370.3 935.5 377.4 939.5C384.6 943.5 396.3 953.2 400.1 955.9" clip-path="url(#ca3)"/>
<path class="gh" stroke-width="2.5" d="M357.3 932C360.7 933.2 370.3 935.5 377.4 939.5C384.6 943.5 396.3 953.2 400.1 955.9" clip-path="url(#ca3)"/>
<path class="g" stroke-width="3" d="M339.7 942.1C338.4 945.4 335.5 954.6 332.1 962.2C328.8 969.8 321.6 983.6 319.5 987.9" clip-path="url(#ca3)"/>
<path class="g" stroke-width="6" d="M327.1 697.8C330.4 700.4 338.8 707.9 347.2 712.9C355.6 718 369.5 723 377.4 728C385.4 733.1 392.5 739 395.1 743.2C397.6 747.4 393 751.5 392.5 753.2" clip-path="url(#ca3)"/>
<path class="gh" stroke-width="2.5" d="M327.1 697.8C330.4 700.4 338.8 707.9 347.2 712.9C355.6 718 369.5 723 377.4 728C385.4 733.1 392.5 739 395.1 743.2C397.6 747.4 393 751.5 392.5 753.2" clip-path="url(#ca3)"/>
<path class="g" stroke-width="6" d="M531 715.5C526.4 715 515.5 712.7 503.3 712.9C491.2 713.2 474 716.1 458 716.7C442.1 717.3 419.4 715.7 407.7 716.7C395.9 717.8 390 719.4 387.5 723C385 726.6 389.2 732.7 392.5 738.1C395.9 743.6 403 749.4 407.7 755.7C412.3 762 418.1 772.5 420.2 775.9" clip-path="url(#ca3)"/>
<path class="gh" stroke-width="2.5" d="M531 715.5C526.4 715 515.5 712.7 503.3 712.9C491.2 713.2 474 716.1 458 716.7C442.1 717.3 419.4 715.7 407.7 716.7C395.9 717.8 390 719.4 387.5 723C385 726.6 389.2 732.7 392.5 738.1C395.9 743.6 403 749.4 407.7 755.7C412.3 762 418.1 772.5 420.2 775.9" clip-path="url(#ca3)"/>
<path class="g" stroke-width="4" d="M342.2 786C348.9 786.4 369.9 788.5 382.5 788.5C395.1 788.5 407.7 787.6 417.7 786C427.8 784.3 438.7 779.7 442.9 778.4" clip-path="url(#ca3)"/>
<path class="gh" stroke-width="1.7" d="M342.2 786C348.9 786.4 369.9 788.5 382.5 788.5C395.1 788.5 407.7 787.6 417.7 786C427.8 784.3 438.7 779.7 442.9 778.4" clip-path="url(#ca3)"/>
<path class="g" stroke-width="6" d="M483.2 735.6C479 737.3 466 742.3 458 745.7C450 749 435.4 752.4 435.4 755.7C435.4 759.1 450 761.6 458 765.8C466 770 476.9 776.3 483.2 780.9C489.5 785.5 493.7 791.4 495.8 793.5" clip-path="url(#ca3)"/>
<path class="gh" stroke-width="2.5" d="M483.2 735.6C479 737.3 466 742.3 458 745.7C450 749 435.4 752.4 435.4 755.7C435.4 759.1 450 761.6 458 765.8C466 770 476.9 776.3 483.2 780.9C489.5 785.5 493.7 791.4 495.8 793.5" clip-path="url(#ca3)"/>
<path class="g" stroke-width="6" d="M470.6 806.1C474.8 803.6 487 795.2 495.8 791C504.6 786.8 515.5 783.4 523.5 780.9C531.4 778.4 540.3 776.7 543.6 775.9" clip-path="url(#ca3)"/>
<path class="gh" stroke-width="2.5" d="M470.6 806.1C474.8 803.6 487 795.2 495.8 791C504.6 786.8 515.5 783.4 523.5 780.9C531.4 778.4 540.3 776.7 543.6 775.9" clip-path="url(#ca3)"/>
<path class="g" stroke-width="4" d="M440.4 823.7C444.2 821.6 456.3 815.3 463 811.1C469.8 806.9 477.7 800.6 480.7 798.5" clip-path="url(#ca3)"/>
<path class="gh" stroke-width="1.7" d="M440.4 823.7C444.2 821.6 456.3 815.3 463 811.1C469.8 806.9 477.7 800.6 480.7 798.5" clip-path="url(#ca3)"/>
<path class="g" stroke-width="4" d="M473.1 821.2C476.9 823.7 488.2 832.1 495.8 836.3C503.3 840.5 511.7 843.9 518.4 846.4C525.1 848.9 537.7 848.5 536.1 851.4C534.4 854.4 518 859.8 508.4 864C498.7 868.2 485.7 873.7 478.2 876.6C470.6 879.5 465.6 880.8 463 881.6" clip-path="url(#ca3)"/>
<path class="gh" stroke-width="1.7" d="M473.1 821.2C476.9 823.7 488.2 832.1 495.8 836.3C503.3 840.5 511.7 843.9 518.4 846.4C525.1 848.9 537.7 848.5 536.1 851.4C534.4 854.4 518 859.8 508.4 864C498.7 868.2 485.7 873.7 478.2 876.6C470.6 879.5 465.6 880.8 463 881.6" clip-path="url(#ca3)"/>
<path class="g" stroke-width="4" d="M463 882.9C458 882.3 444.2 879.7 432.8 879.1C421.5 878.5 404.3 877.4 395.1 879.1C385.8 880.8 381.6 884.6 377.4 889.2C373.2 893.8 369.9 900.5 369.9 906.8C369.9 913.1 376.2 923.6 377.4 926.9" clip-path="url(#ca3)"/>
<path class="gh" stroke-width="1.7" d="M463 882.9C458 882.3 444.2 879.7 432.8 879.1C421.5 878.5 404.3 877.4 395.1 879.1C385.8 880.8 381.6 884.6 377.4 889.2C373.2 893.8 369.9 900.5 369.9 906.8C369.9 913.1 376.2 923.6 377.4 926.9" clip-path="url(#ca3)"/>
<path class="g" stroke-width="4" d="M339.7 675.2C346.8 676.4 368.6 681.9 382.5 682.7C396.3 683.6 412.7 681.5 422.8 680.2C432.8 679 439.5 676 442.9 675.2" clip-path="url(#ca3)"/>
<path class="gh" stroke-width="1.7" d="M339.7 675.2C346.8 676.4 368.6 681.9 382.5 682.7C396.3 683.6 412.7 681.5 422.8 680.2C432.8 679 439.5 676 442.9 675.2" clip-path="url(#ca3)"/>
<path class="g" stroke-width="4" d="M332.1 692.8C338.4 692 357.3 689.4 369.9 687.8C382.5 686.1 401.4 683.6 407.7 682.7" clip-path="url(#ca3)"/>
<path class="gh" stroke-width="1.7" d="M332.1 692.8C338.4 692 357.3 689.4 369.9 687.8C382.5 686.1 401.4 683.6 407.7 682.7" clip-path="url(#ca3)"/>
<path class="g" stroke-width="6" d="M548.5 662.6C553.2 662.6 566.2 662.8 576.2 662.6C586.3 662.4 603.5 661.5 609 661.3"/>
<path class="gh" stroke-width="2.5" d="M548.5 662.6C553.2 662.6 566.2 662.8 576.2 662.6C586.3 662.4 603.5 661.5 609 661.3"/>
<path class="b" stroke-width="4.5" d="M609 660.6C610.6 660.1 616.7 659.1 619 657.6C621.3 656 622.2 652.3 622.8 651.3"/>
<path class="bh" stroke-width="1.9" d="M609 660.6C610.6 660.1 616.7 659.1 619 657.6C621.3 656 622.2 652.3 622.8 651.3"/>
<path class="g" stroke-width="6" d="M611.5 661.3C616.1 660.7 631.2 659.4 639.2 657.6C647.2 655.7 653.7 652.3 659.3 650C665 647.7 670.9 644.8 673.2 643.7"/>
<path class="gh" stroke-width="2.5" d="M611.5 661.3C616.1 660.7 631.2 659.4 639.2 657.6C647.2 655.7 653.7 652.3 659.3 650C665 647.7 670.9 644.8 673.2 643.7"/>
<path class="g" stroke-width="6" d="M611.5 662.1C616.1 662.6 630.4 662.5 639.2 665.1C648 667.7 658.1 673.1 664.4 677.7C670.7 682.3 674.4 687.8 676.9 692.8C679.5 697.8 681.1 702.9 679.5 707.9C677.8 712.9 673.2 718.8 666.9 723C660.6 727.2 651.4 730.4 641.7 733.1C632 735.8 614.4 738.3 609 739.4"/>
<path class="gh" stroke-width="2.5" d="M611.5 662.1C616.1 662.6 630.4 662.5 639.2 665.1C648 667.7 658.1 673.1 664.4 677.7C670.7 682.3 674.4 687.8 676.9 692.8C679.5 697.8 681.1 702.9 679.5 707.9C677.8 712.9 673.2 718.8 666.9 723C660.6 727.2 651.4 730.4 641.7 733.1C632 735.8 614.4 738.3 609 739.4"/>
<path class="g" stroke-width="6" d="M609 740.6C614 740.8 630.4 739.8 639.2 741.9C648 744 656.4 748.8 661.8 753.2C667.3 757.6 671.1 762.9 671.9 768.3C672.8 773.8 670.2 780.9 666.9 786C663.5 791 658.5 795.2 651.8 798.5C645.1 801.9 634.1 804.4 626.6 806.1C619 807.8 609.8 808.2 606.5 808.6"/>
<path class="gh" stroke-width="2.5" d="M609 740.6C614 740.8 630.4 739.8 639.2 741.9C648 744 656.4 748.8 661.8 753.2C667.3 757.6 671.1 762.9 671.9 768.3C672.8 773.8 670.2 780.9 666.9 786C663.5 791 658.5 795.2 651.8 798.5C645.1 801.9 634.1 804.4 626.6 806.1C619 807.8 609.8 808.2 606.5 808.6"/>
<path class="g" stroke-width="6" d="M606.5 809.9C610.6 809.7 624.1 808 631.6 808.6C639.2 809.2 645.9 810.7 651.8 813.7C657.6 816.6 662.7 822.5 666.9 826.2C671.1 830 675.3 834.6 676.9 836.3"/>
<path class="gh" stroke-width="2.5" d="M606.5 809.9C610.6 809.7 624.1 808 631.6 808.6C639.2 809.2 645.9 810.7 651.8 813.7C657.6 816.6 662.7 822.5 666.9 826.2C671.1 830 675.3 834.6 676.9 836.3"/>
<path class="g" stroke-width="6" d="M551.1 662.6C553.2 665.1 559 671.8 563.7 677.7C568.3 683.6 575 691.5 578.8 697.8C582.5 704.1 585.9 710.4 586.3 715.5C586.7 720.5 585.1 725.1 581.3 728C577.5 731 571.2 732.7 563.7 733.1C556.1 733.5 544.3 730.8 536 730.6C527.6 730.4 517.1 731.6 513.3 731.8"/>
<path class="gh" stroke-width="2.5" d="M551.1 662.6C553.2 665.1 559 671.8 563.7 677.7C568.3 683.6 575 691.5 578.8 697.8C582.5 704.1 585.9 710.4 586.3 715.5C586.7 720.5 585.1 725.1 581.3 728C577.5 731 571.2 732.7 563.7 733.1C556.1 733.5 544.3 730.8 536 730.6C527.6 730.4 517.1 731.6 513.3 731.8"/>
<path class="g" stroke-width="6" d="M551.1 665.1C550.2 667.6 550.2 675.2 546 680.2C541.8 685.2 533.4 691.1 525.9 695.3C518.3 699.5 507 702.9 500.7 705.4C494.4 707.9 490.2 709.6 488.1 710.4"/>
<path class="gh" stroke-width="2.5" d="M551.1 665.1C550.2 667.6 550.2 675.2 546 680.2C541.8 685.2 533.4 691.1 525.9 695.3C518.3 699.5 507 702.9 500.7 705.4C494.4 707.9 490.2 709.6 488.1 710.4"/>
<path class="g" stroke-width="6" d="M485.6 710.4C484.8 712.9 480.1 720.1 480.6 725.5C481 731 483.9 737.7 488.1 743.2C492.3 748.6 500.3 754.5 505.7 758.3C511.2 762 518.3 764.6 520.8 765.8"/>
<path class="gh" stroke-width="2.5" d="M485.6 710.4C484.8 712.9 480.1 720.1 480.6 725.5C481 731 483.9 737.7 488.1 743.2C492.3 748.6 500.3 754.5 505.7 758.3C511.2 762 518.3 764.6 520.8 765.8"/>
<path class="g" stroke-width="5.5" d="M676.9 901.8C679 905.1 684.5 915.6 689.5 921.9C694.6 928.2 701.7 935.8 707.2 939.5C712.6 943.3 718.5 946.7 722.3 944.6C726 942.5 727.7 936.2 729.8 926.9C731.9 917.7 733.2 900.1 734.9 889.2C736.5 878.3 738 866.7 739.9 861.5C741.8 856.2 743.7 856 746.2 857.7C748.7 859.4 751 864.6 755 871.6C759 878.5 764.6 891.3 770.1 899.3C775.6 907.2 782.3 915.4 787.7 919.4C793.2 923.4 798.6 925.3 802.8 923.2C807 921.1 810.4 915.4 812.9 906.8C815.4 898.2 816.3 881.2 817.9 871.6C819.6 861.9 821.3 853.5 823 848.9C824.7 844.3 825.5 842.6 828 843.9C830.5 845.1 833.9 850.2 838.1 856.5C842.3 862.7 848.2 874.1 853.2 881.6C858.2 889.2 863.3 896.5 868.3 901.8C873.3 907 880.9 911.2 883.4 913.1"/>
<path class="gh" stroke-width="2.3" d="M676.9 901.8C679 905.1 684.5 915.6 689.5 921.9C694.6 928.2 701.7 935.8 707.2 939.5C712.6 943.3 718.5 946.7 722.3 944.6C726 942.5 727.7 936.2 729.8 926.9C731.9 917.7 733.2 900.1 734.9 889.2C736.5 878.3 738 866.7 739.9 861.5C741.8 856.2 743.7 856 746.2 857.7C748.7 859.4 751 864.6 755 871.6C759 878.5 764.6 891.3 770.1 899.3C775.6 907.2 782.3 915.4 787.7 919.4C793.2 923.4 798.6 925.3 802.8 923.2C807 921.1 810.4 915.4 812.9 906.8C815.4 898.2 816.3 881.2 817.9 871.6C819.6 861.9 821.3 853.5 823 848.9C824.7 844.3 825.5 842.6 828 843.9C830.5 845.1 833.9 850.2 838.1 856.5C842.3 862.7 848.2 874.1 853.2 881.6C858.2 889.2 863.3 896.5 868.3 901.8C873.3 907 880.9 911.2 883.4 913.1"/>
<path class="g" stroke-width="4" d="M619 879.1C622.4 878.3 632.5 876.2 639.2 874.1C645.9 872 653.4 870.3 659.3 866.5C665.2 862.7 671.9 853.9 674.4 851.4"/>
<path class="gh" stroke-width="1.7" d="M619 879.1C622.4 878.3 632.5 876.2 639.2 874.1C645.9 872 653.4 870.3 659.3 866.5C665.2 862.7 671.9 853.9 674.4 851.4"/>
<path class="g" stroke-width="4" d="M654.3 886.7C656.4 889.2 663.1 896.7 666.9 901.8C670.7 906.8 673.2 913.5 676.9 916.9C680.7 920.2 687.4 921.1 689.5 921.9"/>
<path class="gh" stroke-width="1.7" d="M654.3 886.7C656.4 889.2 663.1 896.7 666.9 901.8C670.7 906.8 673.2 913.5 676.9 916.9C680.7 920.2 687.4 921.1 689.5 921.9"/>
<path class="g" stroke-width="4.5" d="M576.2 911.8C575.8 915.2 575 925.3 573.7 932C572.5 938.7 570.8 945.8 568.7 952.1C566.6 958.4 564.5 965.6 561.1 969.7C557.8 973.9 553.6 977.3 548.5 977.3C543.5 977.3 536.8 974.8 530.9 969.7C525 964.7 519.2 955.1 513.3 947.1C507.4 939.1 500.3 929.5 495.7 921.9C491.1 914.4 487.3 905.1 485.6 901.8"/>
<path class="gh" stroke-width="1.9" d="M576.2 911.8C575.8 915.2 575 925.3 573.7 932C572.5 938.7 570.8 945.8 568.7 952.1C566.6 958.4 564.5 965.6 561.1 969.7C557.8 973.9 553.6 977.3 548.5 977.3C543.5 977.3 536.8 974.8 530.9 969.7C525 964.7 519.2 955.1 513.3 947.1C507.4 939.1 500.3 929.5 495.7 921.9C491.1 914.4 487.3 905.1 485.6 901.8"/>
<path class="g" stroke-width="4.5" d="M586.3 916.9C588.4 920.7 594.3 932.4 598.9 939.5C603.5 946.7 608.5 955.5 614 959.7C619.5 963.9 624.9 966 631.6 964.7C638.3 963.5 647.2 956.3 654.3 952.1C661.4 947.9 668.6 944.2 674.4 939.5C680.3 934.9 687 926.9 689.5 924.4"/>
<path class="gh" stroke-width="1.9" d="M586.3 916.9C588.4 920.7 594.3 932.4 598.9 939.5C603.5 946.7 608.5 955.5 614 959.7C619.5 963.9 624.9 966 631.6 964.7C638.3 963.5 647.2 956.3 654.3 952.1C661.4 947.9 668.6 944.2 674.4 939.5C680.3 934.9 687 926.9 689.5 924.4"/>
<path class="g" stroke-width="4" d="M468 881.6C473.4 880 489.4 876.2 500.7 871.6C512 866.9 530.1 857.7 536 853.9C541.8 850.2 540.6 849.3 536 848.9C531.3 848.5 517.1 851 508.3 851.4C499.4 851.8 487.3 851.4 483.1 851.4"/>
<path class="gh" stroke-width="1.7" d="M468 881.6C473.4 880 489.4 876.2 500.7 871.6C512 866.9 530.1 857.7 536 853.9C541.8 850.2 540.6 849.3 536 848.9C531.3 848.5 517.1 851 508.3 851.4C499.4 851.8 487.3 851.4 483.1 851.4"/>
<path class="g" stroke-width="3" d="M571.2 974.8L581.3 987.9"/>
<path class="g" stroke-width="6" d="M171 900C173.5 902.1 180.6 907.1 186.1 912.6C191.6 918 199.1 927.1 203.7 932.7C208.3 938.4 212.1 944.3 213.8 946.6" clip-path="url(#ca5)"/>
<path class="gh" stroke-width="2.5" d="M171 900C173.5 902.1 180.6 907.1 186.1 912.6C191.6 918 199.1 927.1 203.7 932.7C208.3 938.4 212.1 944.3 213.8 946.6" clip-path="url(#ca5)"/>
<path class="g" stroke-width="6" d="M213.8 947.8C209.2 947 196.2 943.2 186.1 942.8C176 942.4 161.8 943.2 153.4 945.3C145 947.4 139.5 951.2 135.7 955.4C132 959.6 129.9 965 130.7 970.5C131.5 976 136.2 982.2 140.8 988.1C145.4 994 152.9 1000.3 158.4 1005.7C163.9 1011.2 171 1018.3 173.5 1020.8" clip-path="url(#ca5)"/>
<path class="gh" stroke-width="2.5" d="M213.8 947.8C209.2 947 196.2 943.2 186.1 942.8C176 942.4 161.8 943.2 153.4 945.3C145 947.4 139.5 951.2 135.7 955.4C132 959.6 129.9 965 130.7 970.5C131.5 976 136.2 982.2 140.8 988.1C145.4 994 152.9 1000.3 158.4 1005.7C163.9 1011.2 171 1018.3 173.5 1020.8" clip-path="url(#ca5)"/>
<path class="g" stroke-width="6" d="M173.5 1023.4C168.5 1022.5 153.8 1018.8 143.3 1018.3C132.8 1017.9 118.7 1018.8 110.6 1020.8C102.4 1022.9 97.3 1026.3 94.2 1030.9C91.1 1035.5 90.2 1042.3 91.7 1048.5C93.2 1054.8 98.6 1062.4 103 1068.7C107.4 1075 113.7 1080.9 118.1 1086.3C122.5 1091.8 127.6 1098.9 129.4 1101.4" clip-path="url(#ca5)"/>
<path class="gh" stroke-width="2.5" d="M173.5 1023.4C168.5 1022.5 153.8 1018.8 143.3 1018.3C132.8 1017.9 118.7 1018.8 110.6 1020.8C102.4 1022.9 97.3 1026.3 94.2 1030.9C91.1 1035.5 90.2 1042.3 91.7 1048.5C93.2 1054.8 98.6 1062.4 103 1068.7C107.4 1075 113.7 1080.9 118.1 1086.3C122.5 1091.8 127.6 1098.9 129.4 1101.4" clip-path="url(#ca5)"/>
<path class="g" stroke-width="3.5" d="M128.2 1105.2C124.4 1105 114.3 1103.3 105.5 1103.9C96.7 1104.6 83.3 1106 75.3 1109C67.3 1111.9 61.1 1116.5 57.7 1121.6C54.3 1126.6 54.3 1132.5 55.2 1139.2C56 1145.9 59.6 1154.7 62.7 1161.8C65.9 1169 72.2 1178.6 74.1 1182" clip-path="url(#ca5)"/>
<path class="gh" stroke-width="1.5" d="M128.2 1105.2C124.4 1105 114.3 1103.3 105.5 1103.9C96.7 1104.6 83.3 1106 75.3 1109C67.3 1111.9 61.1 1116.5 57.7 1121.6C54.3 1126.6 54.3 1132.5 55.2 1139.2C56 1145.9 59.6 1154.7 62.7 1161.8C65.9 1169 72.2 1178.6 74.1 1182" clip-path="url(#ca5)"/>
<path class="g" stroke-width="6" d="M260.4 910.1C263.9 910.7 274 912 281.8 913.8C289.5 915.7 298.6 920.1 306.9 921.4C315.3 922.7 325.4 922.9 332.1 921.4C338.8 919.9 343.9 916.2 347.2 912.6C350.6 909 351.4 902.1 352.3 900" clip-path="url(#ca5)"/>
<path class="gh" stroke-width="2.5" d="M260.4 910.1C263.9 910.7 274 912 281.8 913.8C289.5 915.7 298.6 920.1 306.9 921.4C315.3 922.7 325.4 922.9 332.1 921.4C338.8 919.9 343.9 916.2 347.2 912.6C350.6 909 351.4 902.1 352.3 900" clip-path="url(#ca5)"/>
<path class="g" stroke-width="6" d="M261.6 911.3C263.3 913.2 267.9 919.1 271.7 922.7C275.5 926.2 282.2 931.1 284.3 932.7" clip-path="url(#ca5)"/>
<path class="gh" stroke-width="2.5" d="M261.6 911.3C263.3 913.2 267.9 919.1 271.7 922.7C275.5 926.2 282.2 931.1 284.3 932.7" clip-path="url(#ca5)"/>
<path class="g" stroke-width="6" d="M357.3 900C357.7 902.1 360.2 908.4 359.8 912.6C359.4 916.8 358.6 921.4 354.8 925.2C351 929 344.3 933.1 337.2 935.2C330 937.3 320.4 936.9 312 937.8C303.6 938.6 291 939.9 286.8 940.3" clip-path="url(#ca5)"/>
<path class="gh" stroke-width="2.5" d="M357.3 900C357.7 902.1 360.2 908.4 359.8 912.6C359.4 916.8 358.6 921.4 354.8 925.2C351 929 344.3 933.1 337.2 935.2C330 937.3 320.4 936.9 312 937.8C303.6 938.6 291 939.9 286.8 940.3" clip-path="url(#ca5)"/>
<path class="g" stroke-width="6" d="M286.8 944.1C290.2 945.5 300.2 948.9 306.9 952.9C313.7 956.9 321.6 962.5 327.1 968C332.5 973.4 337.2 980.1 339.7 985.6C342.2 991.1 343.5 996.1 342.2 1000.7C340.9 1005.3 337.2 1010.1 332.1 1013.3C327.1 1016.4 320.4 1018.5 312 1019.6C303.6 1020.6 289.5 1019.4 281.8 1019.6C274 1019.8 268.1 1020.6 265.4 1020.8" clip-path="url(#ca5)"/>
<path class="gh" stroke-width="2.5" d="M286.8 944.1C290.2 945.5 300.2 948.9 306.9 952.9C313.7 956.9 321.6 962.5 327.1 968C332.5 973.4 337.2 980.1 339.7 985.6C342.2 991.1 343.5 996.1 342.2 1000.7C340.9 1005.3 337.2 1010.1 332.1 1013.3C327.1 1016.4 320.4 1018.5 312 1019.6C303.6 1020.6 289.5 1019.4 281.8 1019.6C274 1019.8 268.1 1020.6 265.4 1020.8" clip-path="url(#ca5)"/>
<path class="g" stroke-width="4" d="M265.4 1023.4C268.1 1024.6 276.9 1027.1 281.8 1030.9C286.6 1034.7 291 1040.2 294.4 1046C297.7 1051.9 299.8 1059.5 301.9 1066.2C304 1072.9 305.3 1080.4 306.9 1086.3C308.6 1092.2 310.5 1097.2 312 1101.4C313.5 1105.6 315.1 1109.8 315.8 1111.5" clip-path="url(#ca5)"/>
<path class="gh" stroke-width="1.7" d="M265.4 1023.4C268.1 1024.6 276.9 1027.1 281.8 1030.9C286.6 1034.7 291 1040.2 294.4 1046C297.7 1051.9 299.8 1059.5 301.9 1066.2C304 1072.9 305.3 1080.4 306.9 1086.3C308.6 1092.2 310.5 1097.2 312 1101.4C313.5 1105.6 315.1 1109.8 315.8 1111.5" clip-path="url(#ca5)"/>
<path class="g" stroke-width="2.5" d="M339.7 937.8C338.4 940.7 335.5 949.1 332.1 955.4C328.8 961.7 322.5 969.2 319.5 975.5C316.6 981.8 315.3 990.2 314.5 993.2" clip-path="url(#ca5)"/>
<path class="g" stroke-width="6" d="M359.8 930.2C362.8 931.5 372 934.8 377.4 937.8C382.9 940.7 388.4 944.7 392.5 947.8C396.7 951 400.9 955.2 402.6 956.6" clip-path="url(#ca5)"/>
<path class="gh" stroke-width="2.5" d="M359.8 930.2C362.8 931.5 372 934.8 377.4 937.8C382.9 940.7 388.4 944.7 392.5 947.8C396.7 951 400.9 955.2 402.6 956.6" clip-path="url(#ca5)"/>
<path class="g" stroke-width="2" d="M571.3 975.5C573.4 977.6 578.4 986 583.9 988.1C589.3 990.2 596.5 989.8 604 988.1C611.6 986.4 622.5 981.8 629.2 978C635.9 974.3 641.8 967.6 644.3 965.5" clip-path="url(#ca5)"/>
<path class="b" stroke-width="3.6" d="M1130.4 215.7C1131.6 215.3 1135 211.1 1137.9 213.2C1140.8 215.3 1145.3 223.2 1148 228.3C1150.7 233.3 1148.8 241.7 1154.3 243.4C1159.7 245 1171.7 240.4 1180.7 238.3C1189.7 236.2 1200.4 230.8 1208.4 230.8C1216.4 230.8 1222.7 233.3 1228.5 238.3C1234.4 243.4 1239.5 253 1243.7 261C1247.8 269 1250.8 278.6 1253.7 286.2C1256.7 293.7 1257.5 301.9 1261.3 306.3C1265.1 310.7 1269.7 313.4 1276.4 312.6C1283.1 311.8 1294 304.8 1301.6 301.3C1309.1 297.7 1318.3 292.9 1321.7 291.2" clip-path="url(#cb1)"/>
<path class="b" stroke-width="6.3" d="M1321.7 291.2C1325.9 291.6 1338.9 290.8 1346.9 293.7C1354.8 296.7 1363.2 303 1369.5 308.8C1375.8 314.7 1382.5 322.7 1384.6 329C1386.7 335.3 1385.9 341.1 1382.1 346.6C1378.3 352 1370 356.7 1362 361.7C1354 366.7 1340.6 373.4 1334.3 376.8C1328 380.2 1325.9 381 1324.2 381.8" clip-path="url(#cb1)"/>
<path class="bh" stroke-width="2.6" d="M1321.7 291.2C1325.9 291.6 1338.9 290.8 1346.9 293.7C1354.8 296.7 1363.2 303 1369.5 308.8C1375.8 314.7 1382.5 322.7 1384.6 329C1386.7 335.3 1385.9 341.1 1382.1 346.6C1378.3 352 1370 356.7 1362 361.7C1354 366.7 1340.6 373.4 1334.3 376.8C1328 380.2 1325.9 381 1324.2 381.8" clip-path="url(#cb1)"/>
<path class="b" stroke-width="4.6" d="M1154.3 243.4C1153.2 247.6 1152 260.6 1148 268.5C1144 276.5 1135 283.7 1130.4 291.2C1125.7 298.8 1121.1 307.1 1120.3 313.9C1119.4 320.6 1121.1 326.9 1125.3 331.5C1129.5 336.1 1137.1 340.3 1145.5 341.6C1153.9 342.8 1165.6 341.3 1175.7 339C1185.7 336.7 1200.8 329.6 1205.9 327.7" clip-path="url(#cb1)"/>
<path class="bh" stroke-width="1.9" d="M1154.3 243.4C1153.2 247.6 1152 260.6 1148 268.5C1144 276.5 1135 283.7 1130.4 291.2C1125.7 298.8 1121.1 307.1 1120.3 313.9C1119.4 320.6 1121.1 326.9 1125.3 331.5C1129.5 336.1 1137.1 340.3 1145.5 341.6C1153.9 342.8 1165.6 341.3 1175.7 339C1185.7 336.7 1200.8 329.6 1205.9 327.7" clip-path="url(#cb1)"/>
<path class="b" stroke-width="6.3" d="M1205.9 327.7C1202.5 328.8 1192 330.9 1185.7 334C1179.4 337.2 1171.9 341.6 1168.1 346.6C1164.3 351.6 1162.7 357.9 1163.1 364.2C1163.5 370.5 1166.4 378.9 1170.6 384.4C1174.8 389.8 1180.7 394.2 1188.3 396.9C1195.8 399.7 1207.8 401.4 1216 400.7C1224.1 400.1 1233.8 394.4 1237.4 393.2" clip-path="url(#cb1)"/>
<path class="bh" stroke-width="2.6" d="M1205.9 327.7C1202.5 328.8 1192 330.9 1185.7 334C1179.4 337.2 1171.9 341.6 1168.1 346.6C1164.3 351.6 1162.7 357.9 1163.1 364.2C1163.5 370.5 1166.4 378.9 1170.6 384.4C1174.8 389.8 1180.7 394.2 1188.3 396.9C1195.8 399.7 1207.8 401.4 1216 400.7C1224.1 400.1 1233.8 394.4 1237.4 393.2" clip-path="url(#cb1)"/>
<path class="b" stroke-width="6.3" d="M1237.4 393.2C1234.6 394.6 1226.2 398 1221 402C1215.7 406 1209.7 411.6 1205.9 417.1C1202.1 422.5 1198.3 428.8 1198.3 434.7C1198.3 440.6 1203.8 448.5 1205.9 452.3C1208 456.2 1210.1 457 1210.9 457.9" clip-path="url(#cb1)"/>
<path class="bh" stroke-width="2.6" d="M1237.4 393.2C1234.6 394.6 1226.2 398 1221 402C1215.7 406 1209.7 411.6 1205.9 417.1C1202.1 422.5 1198.3 428.8 1198.3 434.7C1198.3 440.6 1203.8 448.5 1205.9 452.3C1208 456.2 1210.1 457 1210.9 457.9" clip-path="url(#cb1)"/>
<path class="b" stroke-width="6.3" d="M1198.3 386.9C1200.4 384.8 1204.6 377.9 1210.9 374.3C1217.2 370.7 1227.7 367.4 1236.1 365.5C1244.5 363.6 1257.1 363.4 1261.3 363" clip-path="url(#cb1)"/>
<path class="bh" stroke-width="2.6" d="M1198.3 386.9C1200.4 384.8 1204.6 377.9 1210.9 374.3C1217.2 370.7 1227.7 367.4 1236.1 365.5C1244.5 363.6 1257.1 363.4 1261.3 363" clip-path="url(#cb1)"/>
<path class="b" stroke-width="3.5" d="M1261.3 363C1264.6 364.4 1274.7 369 1281.4 371.8C1288.1 374.5 1295.3 378.5 1301.6 379.3C1307.9 380.2 1316.2 377.2 1319.2 376.8" clip-path="url(#cb1)"/>
<path class="b" stroke-width="6.3" d="M1203.4 396.9C1206.3 399.9 1215.5 409.1 1221 414.6C1226.4 420 1231.9 426.1 1236.1 429.7C1240.3 433.2 1248.7 435.1 1246.2 436C1243.7 436.8 1230.2 434.7 1221 434.7C1211.8 434.7 1198.8 434.3 1190.8 436C1182.8 437.7 1176.9 441.1 1173.2 444.8C1169.4 448.4 1169 455.7 1168.1 457.9" clip-path="url(#cb1)"/>
<path class="bh" stroke-width="2.6" d="M1203.4 396.9C1206.3 399.9 1215.5 409.1 1221 414.6C1226.4 420 1231.9 426.1 1236.1 429.7C1240.3 433.2 1248.7 435.1 1246.2 436C1243.7 436.8 1230.2 434.7 1221 434.7C1211.8 434.7 1198.8 434.3 1190.8 436C1182.8 437.7 1176.9 441.1 1173.2 444.8C1169.4 448.4 1169 455.7 1168.1 457.9" clip-path="url(#cb1)"/>
<path class="b" stroke-width="3.6" d="M1394.7 147.7C1393.9 151.5 1393.5 162.8 1389.7 170.4C1385.9 177.9 1377.1 186.3 1372.1 193C1367 199.7 1361.6 204.3 1359.5 210.6C1357.4 216.9 1359.9 225.3 1359.5 230.8C1359 236.2 1360.7 240 1356.9 243.4C1353.2 246.7 1343.5 248.8 1336.8 250.9C1330.1 253 1321.3 253.4 1316.7 256C1312 258.5 1309.5 261.8 1309.1 266C1308.7 270.2 1311.2 276.5 1314.1 281.1C1317.1 285.7 1324.6 291.6 1326.7 293.7" clip-path="url(#cb1)"/>
<path class="b" stroke-width="5.5" d="M1394.7 147.7C1396.4 151.1 1400.2 160.3 1404.8 167.8C1409.4 175.4 1417 186.5 1422.4 193C1427.9 199.5 1433.3 206.4 1437.5 206.9C1441.7 207.3 1444.2 202 1447.6 195.5C1450.9 189 1454.3 176.6 1457.7 167.8C1461 159 1465.2 147.5 1467.7 142.7C1470.2 137.8 1470.2 136.4 1472.8 138.9C1475.3 141.4 1479.1 150.8 1482.8 157.8C1486.6 164.7 1491.2 174.6 1495.4 180.4C1499.6 186.3 1503.8 192.2 1508 193C1512.2 193.9 1518.5 186.7 1520.6 185.5" clip-path="url(#cb1)"/>
<path class="bh" stroke-width="2.3" d="M1394.7 147.7C1396.4 151.1 1400.2 160.3 1404.8 167.8C1409.4 175.4 1417 186.5 1422.4 193C1427.9 199.5 1433.3 206.4 1437.5 206.9C1441.7 207.3 1444.2 202 1447.6 195.5C1450.9 189 1454.3 176.6 1457.7 167.8C1461 159 1465.2 147.5 1467.7 142.7C1470.2 137.8 1470.2 136.4 1472.8 138.9C1475.3 141.4 1479.1 150.8 1482.8 157.8C1486.6 164.7 1491.2 174.6 1495.4 180.4C1499.6 186.3 1503.8 192.2 1508 193C1512.2 193.9 1518.5 186.7 1520.6 185.5" clip-path="url(#cb1)"/>
<path class="b" stroke-width="5" d="M1455.1 131.3C1458.1 132.8 1468.1 137.4 1472.8 140.1C1477.4 142.9 1481.2 146.4 1482.8 147.7" clip-path="url(#cb1)"/>
<path class="bh" stroke-width="2.1" d="M1455.1 131.3C1458.1 132.8 1468.1 137.4 1472.8 140.1C1477.4 142.9 1481.2 146.4 1482.8 147.7" clip-path="url(#cb1)"/>
<path class="b" stroke-width="4.6" d="M1520.6 185.5C1524.8 186.7 1539.5 190.5 1545.8 193C1552.1 195.5 1557.1 196 1558.4 200.6C1559.6 205.2 1557.5 214.4 1553.3 220.7C1549.1 227 1537.4 233.3 1533.2 238.3C1529 243.4 1526.9 246.3 1528.2 250.9C1529.4 255.5 1534.9 261.4 1540.7 266C1546.6 270.6 1556.3 275.3 1563.4 278.6C1570.5 282 1580.2 284.9 1583.5 286.2" clip-path="url(#cb1)"/>
<path class="bh" stroke-width="1.9" d="M1520.6 185.5C1524.8 186.7 1539.5 190.5 1545.8 193C1552.1 195.5 1557.1 196 1558.4 200.6C1559.6 205.2 1557.5 214.4 1553.3 220.7C1549.1 227 1537.4 233.3 1533.2 238.3C1529 243.4 1526.9 246.3 1528.2 250.9C1529.4 255.5 1534.9 261.4 1540.7 266C1546.6 270.6 1556.3 275.3 1563.4 278.6C1570.5 282 1580.2 284.9 1583.5 286.2" clip-path="url(#cb1)"/>
<path class="b" stroke-width="6.3" d="M1583.6 287.1C1580.3 288.5 1571.8 292.3 1563.8 295.6C1555.8 298.8 1543.8 303.1 1535.5 306.9C1527.3 310.6 1519 314.6 1514.3 318.2C1509.6 321.7 1507 324.8 1507.2 328.1C1507.5 331.4 1509.8 334.2 1515.7 338C1521.6 341.7 1534.1 346.4 1542.6 350.7C1551.1 354.9 1561 359.6 1566.6 363.4C1572.3 367.2 1576 369.8 1576.5 373.3C1577 376.8 1575.1 380.8 1569.4 384.6C1563.8 388.4 1551.8 392.4 1542.6 395.9C1533.4 399.5 1521.1 403 1514.3 405.8C1507.5 408.6 1502.3 410.5 1501.6 412.9C1500.9 415.2 1504.4 417.1 1510.1 420C1515.7 422.8 1527.5 426.1 1535.5 429.9C1543.5 433.6 1552.2 437.9 1558.1 442.6C1564 447.3 1568.7 453.6 1570.9 458.1C1573 462.7 1570.9 468 1570.9 470" clip-path="url(#cb1)"/>
<path class="bh" stroke-width="2.6" d="M1583.6 287.1C1580.3 288.5 1571.8 292.3 1563.8 295.6C1555.8 298.8 1543.8 303.1 1535.5 306.9C1527.3 310.6 1519 314.6 1514.3 318.2C1509.6 321.7 1507 324.8 1507.2 328.1C1507.5 331.4 1509.8 334.2 1515.7 338C1521.6 341.7 1534.1 346.4 1542.6 350.7C1551.1 354.9 1561 359.6 1566.6 363.4C1572.3 367.2 1576 369.8 1576.5 373.3C1577 376.8 1575.1 380.8 1569.4 384.6C1563.8 388.4 1551.8 392.4 1542.6 395.9C1533.4 399.5 1521.1 403 1514.3 405.8C1507.5 408.6 1502.3 410.5 1501.6 412.9C1500.9 415.2 1504.4 417.1 1510.1 420C1515.7 422.8 1527.5 426.1 1535.5 429.9C1543.5 433.6 1552.2 437.9 1558.1 442.6C1564 447.3 1568.7 453.6 1570.9 458.1C1573 462.7 1570.9 468 1570.9 470" clip-path="url(#cb1)"/>
<path class="bl" stroke-width="5.4" d="M1503 321C1503.2 322.4 1505.6 325.7 1504.4 329.5C1503.2 333.3 1500.6 338.9 1495.9 343.6C1491.2 348.3 1482.3 353.7 1476.1 357.8C1470 361.8 1462.6 365.3 1459.2 367.7C1455.8 370 1454.7 369.8 1455.6 371.9C1456.6 374 1459.8 377.3 1464.8 380.4C1469.9 383.4 1479 387 1486 390.3C1493.1 393.6 1501.7 396.4 1507.2 400.2C1512.8 403.9 1517.8 409.4 1519.3 412.9C1520.7 416.4 1518.4 418.5 1515.7 421.4C1513 424.2 1508.6 427 1503 429.9C1497.3 432.7 1488.4 435.7 1481.8 438.3C1475.2 440.9 1467.3 443.3 1463.4 445.4C1459.5 447.5 1457.8 448.9 1458.5 451.1C1459.2 453.2 1461.9 455.8 1467.7 458.1C1473.4 460.5 1486.5 463.2 1493.1 465.2C1499.7 467.2 1504.9 469.2 1507.2 470" clip-path="url(#cb1)"/>
<path class="bl" stroke-width="4.6" d="M1442.2 445.4C1442 446.8 1443.4 452.2 1440.8 453.9C1438.2 455.5 1431.6 456 1426.7 455.3C1421.7 454.6 1415.1 452.2 1411.1 449.6C1407.1 447.1 1405.2 443.3 1402.6 439.8C1400 436.2 1396.7 430.3 1395.6 428.4" clip-path="url(#cb1)"/>
<path class="b" stroke-width="3" d="M1520.6 185.5C1519.3 189.2 1515.6 200.6 1513 208.1C1510.5 215.7 1510.5 225.3 1505.5 230.8C1500.5 236.2 1490 236.2 1482.8 240.8C1475.7 245.5 1468.1 252.6 1462.7 258.5C1457.2 264.3 1453 271.9 1450.1 276.1C1447.2 280.3 1445.9 282.4 1445.1 283.7" clip-path="url(#cb1)"/>
<path class="b" stroke-width="3.4" d="M1436.3 268.5C1437.3 272.3 1441.5 283.2 1442.5 291.2C1443.6 299.2 1444.2 310.9 1442.5 316.4C1440.9 321.8 1438.4 323.1 1432.5 323.9C1426.6 324.8 1414.4 319.3 1407.3 321.4C1400.2 323.5 1393.9 331.5 1389.7 336.5C1385.5 341.6 1383.4 349.1 1382.1 351.6" clip-path="url(#cb1)"/>
<path class="b" stroke-width="4" d="M1472.8 302.5C1475.3 303.2 1482 307.4 1487.9 306.3C1493.7 305.3 1503.8 297.1 1508 296.2C1512.2 295.4 1515.1 299.2 1513 301.3C1510.9 303.4 1499.6 305.5 1495.4 308.8C1491.2 312.2 1490.4 316.4 1487.9 321.4C1485.4 326.5 1481.6 336.1 1480.3 339" clip-path="url(#cb1)"/>
<path class="bh" stroke-width="1.7" d="M1472.8 302.5C1475.3 303.2 1482 307.4 1487.9 306.3C1493.7 305.3 1503.8 297.1 1508 296.2C1512.2 295.4 1515.1 299.2 1513 301.3C1510.9 303.4 1499.6 305.5 1495.4 308.8C1491.2 312.2 1490.4 316.4 1487.9 321.4C1485.4 326.5 1481.6 336.1 1480.3 339" clip-path="url(#cb1)"/>
<path class="b" stroke-width="4.6" d="M1480.3 340.3C1475.7 340.1 1461.9 338.8 1452.6 339C1443.4 339.2 1432.1 339 1424.9 341.6C1417.8 344.1 1412.8 349.1 1409.8 354.1C1406.9 359.2 1406 365.9 1407.3 371.8C1408.6 377.6 1412.3 384.4 1417.4 389.4C1422.4 394.4 1431.6 400.3 1437.5 402C1443.4 403.7 1450.5 402 1452.6 399.5C1454.7 396.9 1453.5 389.8 1450.1 386.9C1446.7 383.9 1438.8 381.8 1432.5 381.8C1426.2 381.8 1418.2 383.9 1412.3 386.9C1406.5 389.8 1400.6 394.8 1397.2 399.5C1393.9 404.1 1394.7 409.5 1392.2 414.6C1389.7 419.6 1387.2 425.1 1382.1 429.7C1377.1 434.3 1370 438.1 1362 442.3C1354 446.5 1338.9 452.8 1334.3 454.9" clip-path="url(#cb1)"/>
<path class="bh" stroke-width="1.9" d="M1480.3 340.3C1475.7 340.1 1461.9 338.8 1452.6 339C1443.4 339.2 1432.1 339 1424.9 341.6C1417.8 344.1 1412.8 349.1 1409.8 354.1C1406.9 359.2 1406 365.9 1407.3 371.8C1408.6 377.6 1412.3 384.4 1417.4 389.4C1422.4 394.4 1431.6 400.3 1437.5 402C1443.4 403.7 1450.5 402 1452.6 399.5C1454.7 396.9 1453.5 389.8 1450.1 386.9C1446.7 383.9 1438.8 381.8 1432.5 381.8C1426.2 381.8 1418.2 383.9 1412.3 386.9C1406.5 389.8 1400.6 394.8 1397.2 399.5C1393.9 404.1 1394.7 409.5 1392.2 414.6C1389.7 419.6 1387.2 425.1 1382.1 429.7C1377.1 434.3 1370 438.1 1362 442.3C1354 446.5 1338.9 452.8 1334.3 454.9" clip-path="url(#cb1)"/>
<path class="b" stroke-width="6.3" d="M1325.5 381.8C1329.9 382.3 1343.3 381.8 1351.9 384.4C1360.5 386.9 1370.4 392.3 1377.1 396.9C1383.8 401.6 1389.3 407 1392.2 412.1C1395.1 417.1 1396.4 422.1 1394.7 427.2C1393 432.2 1384.2 439.7 1382.1 442.3" clip-path="url(#cb1)"/>
<path class="bh" stroke-width="2.6" d="M1325.5 381.8C1329.9 382.3 1343.3 381.8 1351.9 384.4C1360.5 386.9 1370.4 392.3 1377.1 396.9C1383.8 401.6 1389.3 407 1392.2 412.1C1395.1 417.1 1396.4 422.1 1394.7 427.2C1393 432.2 1384.2 439.7 1382.1 442.3" clip-path="url(#cb1)"/>
<path class="bl" stroke-width="5" d="M1331.8 316.4C1330.5 319.3 1324.2 328.1 1324.2 334C1324.2 339.9 1328 347 1331.8 351.6C1335.5 356.2 1344.4 360 1346.9 361.7" clip-path="url(#cb1)"/>
<path class="bl" stroke-width="5" d="M1349.4 318.9C1348.6 322.7 1346.9 334.4 1344.4 341.6C1341.8 348.7 1336 358.3 1334.3 361.7" clip-path="url(#cb1)"/>
<path class="b" stroke-width="3" d="M1306.6 321.4C1306.2 325.6 1304.9 339 1304.1 346.6C1303.2 354.1 1303.2 360.4 1301.6 366.7C1299.9 373 1298.2 379.3 1294 384.4C1289.8 389.4 1279.3 394.8 1276.4 396.9" clip-path="url(#cb1)"/>
<path class="bl" stroke-width="5" d="M1394.7 439.7C1398.1 438.9 1407.7 434.7 1414.9 434.7C1422 434.7 1432.5 436.8 1437.5 439.7C1442.5 442.7 1443.8 450.2 1445.1 452.3" clip-path="url(#cb1)"/>
<path class="k" stroke-width="5.2" d="M1353.2 272.3L1356.9 292.5L1374.6 298.8L1378.3 313.9L1362 329L1344.4 323.9L1341.8 307.6L1356.9 292.5"/>
<path class="k" stroke-width="5.2" d="M1362 329L1364.5 346.6L1372.1 356.7L1372.1 381.8L1362 381.8"/>
<path class="k" stroke-width="5.2" d="M1305.3 384.4L1324.2 393.2L1341.8 384.4L1356.9 394.4L1358.2 412.1L1341.8 422.1L1325.5 413.3L1324.2 393.2"/>
<path class="k" stroke-width="5.2" d="M1325.5 413.3L1311.6 427.2L1319.2 444.8L1339.3 443.5L1343.1 424.6L1341.8 422.1"/>
<path class="k" stroke-width="5.2" d="M1319.2 441.5L1306.6 460.4L1321.7 473L1306.6 489.4L1290.2 480.6L1292.7 461.7L1306.6 460.4"/>
<path class="b" stroke-width="6.3" d="M1247.4 436.5C1242.2 436.3 1226.2 435 1216 435.2C1205.7 435.5 1193.7 435.7 1185.7 437.8C1177.8 439.9 1171.3 444.1 1168.1 447.8C1165 451.6 1164.8 455.8 1166.9 460.4C1169 465 1175 470.9 1180.7 475.5C1186.4 480.1 1194.1 484.3 1200.8 488.1C1207.6 491.9 1216 496.1 1221 498.2C1226 500.3 1229.4 500.3 1231.1 500.7" clip-path="url(#cb2)"/>
<path class="bh" stroke-width="2.6" d="M1247.4 436.5C1242.2 436.3 1226.2 435 1216 435.2C1205.7 435.5 1193.7 435.7 1185.7 437.8C1177.8 439.9 1171.3 444.1 1168.1 447.8C1165 451.6 1164.8 455.8 1166.9 460.4C1169 465 1175 470.9 1180.7 475.5C1186.4 480.1 1194.1 484.3 1200.8 488.1C1207.6 491.9 1216 496.1 1221 498.2C1226 500.3 1229.4 500.3 1231.1 500.7" clip-path="url(#cb2)"/>
<path class="b" stroke-width="6.3" d="M1231.1 502C1226 502.4 1210.9 503.4 1200.8 504.5C1190.8 505.5 1178.2 506 1170.6 508.3C1163.1 510.6 1158 514.1 1155.5 518.3C1153 522.5 1153.4 528.8 1155.5 533.4C1157.6 538.1 1162.2 541.8 1168.1 546C1174 550.2 1183.6 555 1190.8 558.6C1197.9 562.2 1206.1 565.5 1210.9 567.4C1215.7 569.3 1218.3 569.5 1219.7 569.9" clip-path="url(#cb2)"/>
<path class="bh" stroke-width="2.6" d="M1231.1 502C1226 502.4 1210.9 503.4 1200.8 504.5C1190.8 505.5 1178.2 506 1170.6 508.3C1163.1 510.6 1158 514.1 1155.5 518.3C1153 522.5 1153.4 528.8 1155.5 533.4C1157.6 538.1 1162.2 541.8 1168.1 546C1174 550.2 1183.6 555 1190.8 558.6C1197.9 562.2 1206.1 565.5 1210.9 567.4C1215.7 569.3 1218.3 569.5 1219.7 569.9" clip-path="url(#cb2)"/>
<path class="b" stroke-width="6.3" d="M1219.7 571.2C1214.9 570.8 1200.6 568.3 1190.8 568.7C1180.9 569.1 1168.5 570.8 1160.6 573.7C1152.6 576.7 1146.1 581.7 1142.9 586.3C1139.8 590.9 1140 596.4 1141.7 601.4C1143.4 606.5 1148.2 611.9 1153 616.5C1157.8 621.1 1165.6 625.8 1170.6 629.1C1175.7 632.5 1181.1 635.4 1183.2 636.7" clip-path="url(#cb2)"/>
<path class="bh" stroke-width="2.6" d="M1219.7 571.2C1214.9 570.8 1200.6 568.3 1190.8 568.7C1180.9 569.1 1168.5 570.8 1160.6 573.7C1152.6 576.7 1146.1 581.7 1142.9 586.3C1139.8 590.9 1140 596.4 1141.7 601.4C1143.4 606.5 1148.2 611.9 1153 616.5C1157.8 621.1 1165.6 625.8 1170.6 629.1C1175.7 632.5 1181.1 635.4 1183.2 636.7" clip-path="url(#cb2)"/>
<path class="b" stroke-width="6.3" d="M1183.2 637.9C1178.6 637.7 1164.8 636 1155.5 636.7C1146.3 637.3 1134.3 638.8 1127.8 641.7C1121.3 644.6 1118.2 649.7 1116.5 654.3C1114.8 658.9 1115.5 664.4 1117.8 669.4C1120.1 674.4 1125.3 679.9 1130.4 684.5C1135.4 689.1 1142.7 693.5 1148 697.1C1153.2 700.7 1159.5 704.4 1161.8 705.9" clip-path="url(#cb2)"/>
<path class="bh" stroke-width="2.6" d="M1183.2 637.9C1178.6 637.7 1164.8 636 1155.5 636.7C1146.3 637.3 1134.3 638.8 1127.8 641.7C1121.3 644.6 1118.2 649.7 1116.5 654.3C1114.8 658.9 1115.5 664.4 1117.8 669.4C1120.1 674.4 1125.3 679.9 1130.4 684.5C1135.4 689.1 1142.7 693.5 1148 697.1C1153.2 700.7 1159.5 704.4 1161.8 705.9" clip-path="url(#cb2)"/>
<path class="b" stroke-width="6.3" d="M1161.8 707.2C1157.4 706.9 1144.8 705.5 1135.4 705.9C1125.9 706.3 1112.3 706.9 1105.2 709.7C1098 712.4 1095.1 717.6 1092.6 722.3C1090.1 727 1090.5 735.3 1090.1 737.9" clip-path="url(#cb2)"/>
<path class="bh" stroke-width="2.6" d="M1161.8 707.2C1157.4 706.9 1144.8 705.5 1135.4 705.9C1125.9 706.3 1112.3 706.9 1105.2 709.7C1098 712.4 1095.1 717.6 1092.6 722.3C1090.1 727 1090.5 735.3 1090.1 737.9" clip-path="url(#cb2)"/>
<path class="b" stroke-width="6.3" d="M1221 400C1218.5 402.5 1209.7 409.7 1205.9 415.1C1202.1 420.6 1199.2 426.9 1198.3 432.7C1197.5 438.6 1197.9 445.3 1200.8 450.4C1203.8 455.4 1209.2 460.2 1216 462.9C1222.7 465.7 1231.5 467.1 1241.1 466.7C1250.8 466.3 1268.4 461.5 1273.9 460.4" clip-path="url(#cb2)"/>
<path class="bh" stroke-width="2.6" d="M1221 400C1218.5 402.5 1209.7 409.7 1205.9 415.1C1202.1 420.6 1199.2 426.9 1198.3 432.7C1197.5 438.6 1197.9 445.3 1200.8 450.4C1203.8 455.4 1209.2 460.2 1216 462.9C1222.7 465.7 1231.5 467.1 1241.1 466.7C1250.8 466.3 1268.4 461.5 1273.9 460.4" clip-path="url(#cb2)"/>
<path class="b" stroke-width="6.3" d="M1273.9 461.7C1270.9 464 1262.5 470.3 1256.2 475.5C1249.9 480.8 1240.9 487.3 1236.1 493.2C1231.3 499 1228.1 505.3 1227.3 510.8C1226.4 516.2 1227.1 521.3 1231.1 525.9C1235 530.5 1243.7 534.7 1251.2 538.5C1258.8 542.3 1268.8 544.8 1276.4 548.5C1283.9 552.3 1292.3 556.5 1296.5 561.1C1300.7 565.7 1302 571.6 1301.6 576.2C1301.1 580.9 1299 585.1 1294 588.8C1289 592.6 1280.2 596.6 1271.3 598.9C1262.5 601.2 1247.8 601.8 1241.1 602.7C1234.4 603.5 1232.7 603.7 1231.1 603.9" clip-path="url(#cb2)"/>
<path class="bh" stroke-width="2.6" d="M1273.9 461.7C1270.9 464 1262.5 470.3 1256.2 475.5C1249.9 480.8 1240.9 487.3 1236.1 493.2C1231.3 499 1228.1 505.3 1227.3 510.8C1226.4 516.2 1227.1 521.3 1231.1 525.9C1235 530.5 1243.7 534.7 1251.2 538.5C1258.8 542.3 1268.8 544.8 1276.4 548.5C1283.9 552.3 1292.3 556.5 1296.5 561.1C1300.7 565.7 1302 571.6 1301.6 576.2C1301.1 580.9 1299 585.1 1294 588.8C1289 592.6 1280.2 596.6 1271.3 598.9C1262.5 601.2 1247.8 601.8 1241.1 602.7C1234.4 603.5 1232.7 603.7 1231.1 603.9" clip-path="url(#cb2)"/>
<path class="b" stroke-width="6.3" d="M1231.1 605.2C1233.2 606.7 1237.8 610.4 1243.7 614C1249.5 617.6 1260 622.4 1266.3 626.6C1272.6 630.8 1277.6 634.6 1281.4 639.2C1285.2 643.8 1289 649.7 1289 654.3C1289 658.9 1286.9 663.1 1281.4 666.9C1276 670.7 1264.6 674 1256.2 676.9C1247.8 679.9 1236.5 682.8 1231.1 684.5C1225.6 686.2 1224.8 686.6 1223.5 687" clip-path="url(#cb2)"/>
<path class="bh" stroke-width="2.6" d="M1231.1 605.2C1233.2 606.7 1237.8 610.4 1243.7 614C1249.5 617.6 1260 622.4 1266.3 626.6C1272.6 630.8 1277.6 634.6 1281.4 639.2C1285.2 643.8 1289 649.7 1289 654.3C1289 658.9 1286.9 663.1 1281.4 666.9C1276 670.7 1264.6 674 1256.2 676.9C1247.8 679.9 1236.5 682.8 1231.1 684.5C1225.6 686.2 1224.8 686.6 1223.5 687" clip-path="url(#cb2)"/>
<path class="b" stroke-width="6.3" d="M1223.5 688.3C1226.4 689.7 1234.8 693.1 1241.1 697.1C1247.4 701.1 1255 707.6 1261.3 712.2C1267.6 716.8 1275.1 720.5 1278.9 724.8C1282.7 729.1 1283.1 735.7 1283.9 737.9" clip-path="url(#cb2)"/>
<path class="bh" stroke-width="2.6" d="M1223.5 688.3C1226.4 689.7 1234.8 693.1 1241.1 697.1C1247.4 701.1 1255 707.6 1261.3 712.2C1267.6 716.8 1275.1 720.5 1278.9 724.8C1282.7 729.1 1283.1 735.7 1283.9 737.9" clip-path="url(#cb2)"/>
<path class="b" stroke-width="6.3" d="M1266.3 654.3C1266.3 652.6 1263 645.9 1266.3 644.2C1269.7 642.5 1278.9 643 1286.5 644.2C1294 645.5 1304.1 650.5 1311.6 651.8C1319.2 653 1328.4 651.8 1331.8 651.8" clip-path="url(#cb2)"/>
<path class="bh" stroke-width="2.6" d="M1266.3 654.3C1266.3 652.6 1263 645.9 1266.3 644.2C1269.7 642.5 1278.9 643 1286.5 644.2C1294 645.5 1304.1 650.5 1311.6 651.8C1319.2 653 1328.4 651.8 1331.8 651.8" clip-path="url(#cb2)"/>
<path class="b" stroke-width="6.3" d="M1266.3 655.5C1268 659.1 1273 670 1276.4 676.9C1279.7 683.9 1283.1 691.6 1286.5 697.1C1289.8 702.5 1294 705.9 1296.5 709.7C1299 713.5 1304.1 717.7 1301.6 719.7C1299 721.8 1289.4 722.3 1281.4 722.3C1273.4 722.3 1261.7 719.7 1253.7 719.7C1245.7 719.7 1237.8 720.2 1233.6 722.3C1229.4 724.4 1229.4 730.7 1228.5 732.3" clip-path="url(#cb2)"/>
<path class="bh" stroke-width="2.6" d="M1266.3 655.5C1268 659.1 1273 670 1276.4 676.9C1279.7 683.9 1283.1 691.6 1286.5 697.1C1289.8 702.5 1294 705.9 1296.5 709.7C1299 713.5 1304.1 717.7 1301.6 719.7C1299 721.8 1289.4 722.3 1281.4 722.3C1273.4 722.3 1261.7 719.7 1253.7 719.7C1245.7 719.7 1237.8 720.2 1233.6 722.3C1229.4 724.4 1229.4 730.7 1228.5 732.3" clip-path="url(#cb2)"/>
<path class="b" stroke-width="6.3" d="M1314.1 488.1C1317.1 489 1326.9 491.1 1331.8 493.2C1336.6 495.3 1341.8 497.4 1343.1 500.7C1344.4 504.1 1342.9 509.1 1339.3 513.3C1335.8 517.5 1328 522.5 1321.7 525.9C1315.4 529.2 1307.2 531.5 1301.6 533.4C1295.9 535.3 1290 536.6 1287.7 537.2" clip-path="url(#cb2)"/>
<path class="bh" stroke-width="2.6" d="M1314.1 488.1C1317.1 489 1326.9 491.1 1331.8 493.2C1336.6 495.3 1341.8 497.4 1343.1 500.7C1344.4 504.1 1342.9 509.1 1339.3 513.3C1335.8 517.5 1328 522.5 1321.7 525.9C1315.4 529.2 1307.2 531.5 1301.6 533.4C1295.9 535.3 1290 536.6 1287.7 537.2" clip-path="url(#cb2)"/>
<path class="b" stroke-width="6.3" d="M1287.7 538.5C1290.9 539.7 1300.1 543.1 1306.6 546C1313.1 549 1320.4 552.3 1326.7 556.1C1333 559.9 1340.2 565.7 1344.4 568.7C1348.6 571.6 1351.9 571.6 1351.9 573.7C1351.9 575.8 1349.4 579.2 1344.4 581.3C1339.3 583.4 1328.4 584.6 1321.7 586.3C1315 588 1307.9 588.8 1304.1 591.3C1300.3 593.9 1299.9 599.7 1299 601.4" clip-path="url(#cb2)"/>
<path class="bh" stroke-width="2.6" d="M1287.7 538.5C1290.9 539.7 1300.1 543.1 1306.6 546C1313.1 549 1320.4 552.3 1326.7 556.1C1333 559.9 1340.2 565.7 1344.4 568.7C1348.6 571.6 1351.9 571.6 1351.9 573.7C1351.9 575.8 1349.4 579.2 1344.4 581.3C1339.3 583.4 1328.4 584.6 1321.7 586.3C1315 588 1307.9 588.8 1304.1 591.3C1300.3 593.9 1299.9 599.7 1299 601.4" clip-path="url(#cb2)"/>
<path class="b" stroke-width="6.3" d="M1339.3 530.9C1340.6 534.3 1343.5 544.3 1346.9 551.1C1350.2 557.8 1355.3 565.3 1359.5 571.2C1363.7 577.1 1369.7 583 1372.1 586.3C1374.4 589.7 1376.7 590.9 1373.3 591.3C1370 591.8 1360.5 589.7 1351.9 588.8C1343.3 588 1326.7 586.7 1321.7 586.3" clip-path="url(#cb2)"/>
<path class="bh" stroke-width="2.6" d="M1339.3 530.9C1340.6 534.3 1343.5 544.3 1346.9 551.1C1350.2 557.8 1355.3 565.3 1359.5 571.2C1363.7 577.1 1369.7 583 1372.1 586.3C1374.4 589.7 1376.7 590.9 1373.3 591.3C1370 591.8 1360.5 589.7 1351.9 588.8C1343.3 588 1326.7 586.7 1321.7 586.3" clip-path="url(#cb2)"/>
<path class="b" stroke-width="6.3" d="M1299 591.3C1299.5 593.4 1298.6 600.2 1301.6 603.9C1304.5 607.7 1310.8 610.2 1316.7 614C1322.5 617.8 1330.9 622.8 1336.8 626.6C1342.7 630.4 1348.6 633.3 1351.9 636.7C1355.3 640 1357.8 643.4 1356.9 646.7C1356.1 650.1 1352.8 653.9 1346.9 656.8C1341 659.7 1328.8 661.8 1321.7 664.4C1314.6 666.9 1307 670.7 1304.1 671.9" clip-path="url(#cb2)"/>
<path class="bh" stroke-width="2.6" d="M1299 591.3C1299.5 593.4 1298.6 600.2 1301.6 603.9C1304.5 607.7 1310.8 610.2 1316.7 614C1322.5 617.8 1330.9 622.8 1336.8 626.6C1342.7 630.4 1348.6 633.3 1351.9 636.7C1355.3 640 1357.8 643.4 1356.9 646.7C1356.1 650.1 1352.8 653.9 1346.9 656.8C1341 659.7 1328.8 661.8 1321.7 664.4C1314.6 666.9 1307 670.7 1304.1 671.9" clip-path="url(#cb2)"/>
<path class="b" stroke-width="6.3" d="M1299 601.4C1301.1 603.9 1307.4 611.5 1311.6 616.5C1315.8 621.6 1320.4 627 1324.2 631.6C1328 636.2 1333 640.9 1334.3 644.2C1335.5 647.6 1332.2 650.5 1331.8 651.8" clip-path="url(#cb2)"/>
<path class="bh" stroke-width="2.6" d="M1299 601.4C1301.1 603.9 1307.4 611.5 1311.6 616.5C1315.8 621.6 1320.4 627 1324.2 631.6C1328 636.2 1333 640.9 1334.3 644.2C1335.5 647.6 1332.2 650.5 1331.8 651.8" clip-path="url(#cb2)"/>
<path class="b" stroke-width="6.3" d="M1302.8 673.2C1306 673.8 1315.2 674.6 1321.7 676.9C1328.2 679.3 1336.4 683.2 1341.8 687C1347.3 690.8 1351.9 695.4 1354.4 699.6C1356.9 703.8 1359 708.4 1356.9 712.2C1354.8 716 1348.6 719.3 1341.8 722.3C1335.1 725.2 1323.4 727.3 1316.7 729.8C1310 732.3 1304.1 736.1 1301.6 737.4" clip-path="url(#cb2)"/>
<path class="bh" stroke-width="2.6" d="M1302.8 673.2C1306 673.8 1315.2 674.6 1321.7 676.9C1328.2 679.3 1336.4 683.2 1341.8 687C1347.3 690.8 1351.9 695.4 1354.4 699.6C1356.9 703.8 1359 708.4 1356.9 712.2C1354.8 716 1348.6 719.3 1341.8 722.3C1335.1 725.2 1323.4 727.3 1316.7 729.8C1310 732.3 1304.1 736.1 1301.6 737.4" clip-path="url(#cb2)"/>
<path class="bl" stroke-width="4.6" d="M1442.5 447.8C1440.9 446.2 1437.5 440.3 1432.5 437.8C1427.4 435.2 1419.5 432.7 1412.3 432.7C1405.2 432.7 1396 434.8 1389.7 437.8C1383.4 440.7 1377.9 445.3 1374.6 450.4C1371.2 455.4 1369.1 462.1 1369.5 468C1370 473.9 1373.3 480.1 1377.1 485.6C1380.9 491.1 1388 496.5 1392.2 500.7C1396.4 504.9 1400.2 507.4 1402.3 510.8C1404.4 514.1 1407.3 518.8 1404.8 520.8C1402.3 522.9 1395.1 522.9 1387.2 523.4C1379.2 523.8 1364.9 522.9 1356.9 523.4C1349 523.8 1342.7 524.2 1339.3 525.9C1336 527.6 1337.2 532.2 1336.8 533.4" clip-path="url(#cb2)"/>
<path class="b" stroke-width="6.3" d="M1334.3 459.2C1338.1 459.4 1349 458.5 1356.9 460.4C1364.9 462.3 1374.6 466.7 1382.1 470.5C1389.7 474.3 1397.9 478.9 1402.3 483.1C1406.7 487.3 1408.6 491.5 1408.6 495.7C1408.6 499.9 1406.7 504.5 1402.3 508.3C1397.9 512 1389.3 515.4 1382.1 518.3C1375 521.3 1365.5 523.6 1359.5 525.9C1353.4 528.2 1347.9 531.1 1345.6 532.2" clip-path="url(#cb2)"/>
<path class="bh" stroke-width="2.6" d="M1334.3 459.2C1338.1 459.4 1349 458.5 1356.9 460.4C1364.9 462.3 1374.6 466.7 1382.1 470.5C1389.7 474.3 1397.9 478.9 1402.3 483.1C1406.7 487.3 1408.6 491.5 1408.6 495.7C1408.6 499.9 1406.7 504.5 1402.3 508.3C1397.9 512 1389.3 515.4 1382.1 518.3C1375 521.3 1365.5 523.6 1359.5 525.9C1353.4 528.2 1347.9 531.1 1345.6 532.2" clip-path="url(#cb2)"/>
<path class="b" stroke-width="6.3" d="M1345.6 533.4C1349.2 534.1 1359.3 534.7 1367 537.2C1374.8 539.7 1385.1 544.6 1392.2 548.5C1399.3 552.5 1405.8 556.5 1409.8 561.1C1413.8 565.7 1416.5 571.2 1416.1 576.2C1415.7 581.3 1412.1 586.7 1407.3 591.3C1402.5 596 1393.5 600.2 1387.2 603.9C1380.9 607.7 1372.5 612.3 1369.5 614" clip-path="url(#cb2)"/>
<path class="bh" stroke-width="2.6" d="M1345.6 533.4C1349.2 534.1 1359.3 534.7 1367 537.2C1374.8 539.7 1385.1 544.6 1392.2 548.5C1399.3 552.5 1405.8 556.5 1409.8 561.1C1413.8 565.7 1416.5 571.2 1416.1 576.2C1415.7 581.3 1412.1 586.7 1407.3 591.3C1402.5 596 1393.5 600.2 1387.2 603.9C1380.9 607.7 1372.5 612.3 1369.5 614" clip-path="url(#cb2)"/>
<path class="b" stroke-width="6.3" d="M1369.5 616.5C1371.6 618.2 1375.8 623.2 1382.1 626.6C1388.4 630 1398.1 633.3 1407.3 636.7C1416.5 640 1428.3 644.2 1437.5 646.7C1446.7 649.3 1455.6 651.6 1462.7 651.8C1469.8 652 1477.4 648.6 1480.3 648" clip-path="url(#cb2)"/>
<path class="bh" stroke-width="2.6" d="M1369.5 616.5C1371.6 618.2 1375.8 623.2 1382.1 626.6C1388.4 630 1398.1 633.3 1407.3 636.7C1416.5 640 1428.3 644.2 1437.5 646.7C1446.7 649.3 1455.6 651.6 1462.7 651.8C1469.8 652 1477.4 648.6 1480.3 648" clip-path="url(#cb2)"/>
<path class="b" stroke-width="6.3" d="M1407.3 641.7C1409 644.2 1413.2 651.8 1417.4 656.8C1421.6 661.8 1428.3 666.5 1432.5 671.9C1436.7 677.4 1440.9 684.5 1442.5 689.5C1444.2 694.6 1445.1 698.3 1442.5 702.1C1440 705.9 1435 710.1 1427.4 712.2C1419.9 714.3 1406.5 715.1 1397.2 714.7C1388 714.3 1376.2 710.5 1372.1 709.7" clip-path="url(#cb2)"/>
<path class="bh" stroke-width="2.6" d="M1407.3 641.7C1409 644.2 1413.2 651.8 1417.4 656.8C1421.6 661.8 1428.3 666.5 1432.5 671.9C1436.7 677.4 1440.9 684.5 1442.5 689.5C1444.2 694.6 1445.1 698.3 1442.5 702.1C1440 705.9 1435 710.1 1427.4 712.2C1419.9 714.3 1406.5 715.1 1397.2 714.7C1388 714.3 1376.2 710.5 1372.1 709.7" clip-path="url(#cb2)"/>
<path class="b" stroke-width="6.3" d="M1437.5 654.3C1436.7 656.8 1436.3 664.8 1432.5 669.4C1428.7 674 1421.6 677.8 1414.9 682C1408.1 686.2 1398.9 690.4 1392.2 694.6C1385.5 698.8 1376.2 703 1374.6 707.2C1372.9 711.4 1379.2 715.6 1382.1 719.7C1385.1 723.9 1390.1 729.3 1392.2 732.3C1394.3 735.4 1394.3 737 1394.7 737.9" clip-path="url(#cb2)"/>
<path class="bh" stroke-width="2.6" d="M1437.5 654.3C1436.7 656.8 1436.3 664.8 1432.5 669.4C1428.7 674 1421.6 677.8 1414.9 682C1408.1 686.2 1398.9 690.4 1392.2 694.6C1385.5 698.8 1376.2 703 1374.6 707.2C1372.9 711.4 1379.2 715.6 1382.1 719.7C1385.1 723.9 1390.1 729.3 1392.2 732.3C1394.3 735.4 1394.3 737 1394.7 737.9" clip-path="url(#cb2)"/>
<path class="b" stroke-width="6.3" d="M1392.2 400C1392.6 402.5 1396.4 410.5 1394.7 415.1C1393 419.7 1388.4 423.1 1382.1 427.7C1375.8 432.3 1364.9 437.8 1356.9 442.8C1349 447.8 1338.1 455.4 1334.3 457.9" clip-path="url(#cb2)"/>
<path class="bh" stroke-width="2.6" d="M1392.2 400C1392.6 402.5 1396.4 410.5 1394.7 415.1C1393 419.7 1388.4 423.1 1382.1 427.7C1375.8 432.3 1364.9 437.8 1356.9 442.8C1349 447.8 1338.1 455.4 1334.3 457.9" clip-path="url(#cb2)"/>
<path class="bl" stroke-width="4.6" d="M1442.5 447.8C1440 448.7 1432.9 453.3 1427.4 452.9C1422 452.5 1414.4 448.7 1409.8 445.3C1405.2 442 1401.4 434.8 1399.7 432.7" clip-path="url(#cb2)"/>
<path class="b" stroke-width="6.3" d="M1528.2 401.3C1525.8 402 1518.7 403.9 1514.3 405.8C1509.9 407.7 1502.4 410.5 1501.7 412.8C1501 415.2 1504.4 417 1510 419.9C1515.6 422.7 1527.4 426.2 1535.5 430C1543.5 433.7 1552.4 438.1 1558.1 442.5C1563.8 447 1567.6 453.2 1569.7 456.6C1571.8 460 1572.8 459.8 1571 462.9C1569.1 466.1 1564.7 471.8 1558.4 475.5C1552.1 479.3 1541.6 482.5 1533.2 485.6C1524.8 488.7 1512.2 492.9 1508 494.4" clip-path="url(#cb2)"/>
<path class="bh" stroke-width="2.6" d="M1528.2 401.3C1525.8 402 1518.7 403.9 1514.3 405.8C1509.9 407.7 1502.4 410.5 1501.7 412.8C1501 415.2 1504.4 417 1510 419.9C1515.6 422.7 1527.4 426.2 1535.5 430C1543.5 433.7 1552.4 438.1 1558.1 442.5C1563.8 447 1567.6 453.2 1569.7 456.6C1571.8 460 1572.8 459.8 1571 462.9C1569.1 466.1 1564.7 471.8 1558.4 475.5C1552.1 479.3 1541.6 482.5 1533.2 485.6C1524.8 488.7 1512.2 492.9 1508 494.4" clip-path="url(#cb2)"/>
<path class="bl" stroke-width="4.8" d="M1519.1 412.8C1518.5 414.3 1518.2 418.5 1515.6 421.4C1512.9 424.3 1508.6 427.1 1503 430C1497.4 432.8 1488.4 435.7 1481.8 438.3C1475.2 440.8 1467.3 443.2 1463.4 445.3C1459.5 447.5 1456.9 449 1458.4 451.1C1460 453.2 1466.2 454.7 1472.8 457.9C1479.3 461.1 1490 466.3 1497.9 470.5C1505.9 474.7 1516.8 481 1520.6 483.1" clip-path="url(#cb2)"/>
<path class="b" stroke-width="6.3" d="M1500.5 498.2C1505.1 499 1519.8 500.3 1528.2 503.2C1536.5 506.2 1544.9 511.2 1550.8 515.8C1556.7 520.4 1561.7 525.9 1563.4 530.9C1565.1 536 1564.2 541.4 1560.9 546C1557.5 550.6 1550.4 554.8 1543.3 558.6C1536.1 562.4 1525.6 566.2 1518.1 568.7C1510.5 571.2 1501.3 572.9 1497.9 573.7" clip-path="url(#cb2)"/>
<path class="bh" stroke-width="2.6" d="M1500.5 498.2C1505.1 499 1519.8 500.3 1528.2 503.2C1536.5 506.2 1544.9 511.2 1550.8 515.8C1556.7 520.4 1561.7 525.9 1563.4 530.9C1565.1 536 1564.2 541.4 1560.9 546C1557.5 550.6 1550.4 554.8 1543.3 558.6C1536.1 562.4 1525.6 566.2 1518.1 568.7C1510.5 571.2 1501.3 572.9 1497.9 573.7" clip-path="url(#cb2)"/>
<path class="bl" stroke-width="4.8" d="M1505.5 500.7C1501.7 502 1490 505.3 1482.8 508.3C1475.7 511.2 1467.1 515.4 1462.7 518.3C1458.3 521.3 1455.6 522.9 1456.4 525.9C1457.2 528.8 1462.5 532.2 1467.7 536C1473 539.7 1481.2 544.3 1487.9 548.5C1494.6 552.7 1502.1 556.9 1508 561.1C1513.9 565.3 1520.6 571.6 1523.1 573.7" clip-path="url(#cb2)"/>
<path class="b" stroke-width="6.3" d="M1497.9 576.2C1502.6 577.1 1517.2 578.3 1525.6 581.3C1534 584.2 1542.8 589.2 1548.3 593.9C1553.7 598.5 1557.1 603.9 1558.4 609C1559.6 614 1559.2 619.5 1555.8 624.1C1552.5 628.7 1545.4 633.3 1538.2 636.7C1531.1 640 1521.9 642.3 1513 644.2C1504.2 646.1 1490 647.4 1485.4 648" clip-path="url(#cb2)"/>
<path class="bh" stroke-width="2.6" d="M1497.9 576.2C1502.6 577.1 1517.2 578.3 1525.6 581.3C1534 584.2 1542.8 589.2 1548.3 593.9C1553.7 598.5 1557.1 603.9 1558.4 609C1559.6 614 1559.2 619.5 1555.8 624.1C1552.5 628.7 1545.4 633.3 1538.2 636.7C1531.1 640 1521.9 642.3 1513 644.2C1504.2 646.1 1490 647.4 1485.4 648" clip-path="url(#cb2)"/>
<path class="bl" stroke-width="4.8" d="M1520.6 588.8C1516.4 588.4 1504.7 586.9 1495.4 586.3C1486.2 585.7 1472.8 584.6 1465.2 585.1C1457.7 585.5 1452.2 586.1 1450.1 588.8C1448 591.6 1450.1 596.8 1452.6 601.4C1455.1 606 1461 611.1 1465.2 616.5C1469.4 622 1474.9 628.9 1477.8 634.1C1480.7 639.4 1482 645.7 1482.8 648" clip-path="url(#cb2)"/>
<path class="b" stroke-width="6.3" d="M1485.4 650.5C1490 651.1 1505.1 651.6 1513 654.3C1521 657 1527.7 661.8 1533.2 666.9C1538.6 671.9 1543.5 678.6 1545.8 684.5C1548.1 690.4 1549.1 697.1 1547 702.1C1544.9 707.2 1539.7 711.4 1533.2 714.7C1526.7 718.1 1517.7 720.6 1508 722.3C1498.4 723.9 1480.7 724.4 1475.3 724.8" clip-path="url(#cb2)"/>
<path class="bh" stroke-width="2.6" d="M1485.4 650.5C1490 651.1 1505.1 651.6 1513 654.3C1521 657 1527.7 661.8 1533.2 666.9C1538.6 671.9 1543.5 678.6 1545.8 684.5C1548.1 690.4 1549.1 697.1 1547 702.1C1544.9 707.2 1539.7 711.4 1533.2 714.7C1526.7 718.1 1517.7 720.6 1508 722.3C1498.4 723.9 1480.7 724.4 1475.3 724.8" clip-path="url(#cb2)"/>
<path class="b" stroke-width="6.3" d="M1475.3 727.3C1478.2 728.1 1487.4 730.6 1492.9 732.3C1498.4 734.1 1505.5 737 1508 737.9" clip-path="url(#cb2)"/>
<path class="bh" stroke-width="2.6" d="M1475.3 727.3C1478.2 728.1 1487.4 730.6 1492.9 732.3C1498.4 734.1 1505.5 737 1508 737.9" clip-path="url(#cb2)"/>
<path class="b" stroke-width="6.3" d="M1136 680C1138.5 682.1 1146.4 688.4 1151.1 692.6C1155.7 696.8 1166.2 703.3 1163.7 705.2C1161.1 707.1 1145.6 703.5 1136 703.9C1126.3 704.3 1113.1 705 1105.7 707.7C1098.4 710.4 1094 715.7 1091.9 720.3C1089.8 724.9 1090.4 730.4 1093.2 735.4C1095.9 740.4 1102.8 745.5 1108.3 750.5C1113.7 755.5 1120.6 761 1125.9 765.6C1131.1 770.2 1137.4 776.1 1139.7 778.2" clip-path="url(#cb3)"/>
<path class="bh" stroke-width="2.6" d="M1136 680C1138.5 682.1 1146.4 688.4 1151.1 692.6C1155.7 696.8 1166.2 703.3 1163.7 705.2C1161.1 707.1 1145.6 703.5 1136 703.9C1126.3 704.3 1113.1 705 1105.7 707.7C1098.4 710.4 1094 715.7 1091.9 720.3C1089.8 724.9 1090.4 730.4 1093.2 735.4C1095.9 740.4 1102.8 745.5 1108.3 750.5C1113.7 755.5 1120.6 761 1125.9 765.6C1131.1 770.2 1137.4 776.1 1139.7 778.2" clip-path="url(#cb3)"/>
<path class="b" stroke-width="6.3" d="M1139.7 780.7C1134.9 780.3 1120.2 777.8 1110.8 778.2C1101.3 778.6 1089.8 780.3 1083.1 783.2C1076.4 786.2 1072.2 791.2 1070.5 795.8C1068.8 800.4 1070.1 805.9 1073 810.9C1076 816 1082.7 821.4 1088.1 826C1093.6 830.6 1100.7 834.8 1105.7 838.6C1110.8 842.4 1116.2 847 1118.3 848.7" clip-path="url(#cb3)"/>
<path class="bh" stroke-width="2.6" d="M1139.7 780.7C1134.9 780.3 1120.2 777.8 1110.8 778.2C1101.3 778.6 1089.8 780.3 1083.1 783.2C1076.4 786.2 1072.2 791.2 1070.5 795.8C1068.8 800.4 1070.1 805.9 1073 810.9C1076 816 1082.7 821.4 1088.1 826C1093.6 830.6 1100.7 834.8 1105.7 838.6C1110.8 842.4 1116.2 847 1118.3 848.7" clip-path="url(#cb3)"/>
<path class="b" stroke-width="6.3" d="M1118.3 852.5C1113.3 852.7 1098.6 852.7 1088.1 853.7C1077.6 854.8 1062.9 855.8 1055.4 858.8C1047.8 861.7 1044.3 866.7 1042.8 871.3C1041.3 876 1043.2 881.4 1046.6 886.5C1049.9 891.5 1057.7 896.5 1062.9 901.6C1068.2 906.6 1073.9 912.5 1078 916.7C1082.2 920.9 1086.4 925.1 1088.1 926.7" clip-path="url(#cb3)"/>
<path class="bh" stroke-width="2.6" d="M1118.3 852.5C1113.3 852.7 1098.6 852.7 1088.1 853.7C1077.6 854.8 1062.9 855.8 1055.4 858.8C1047.8 861.7 1044.3 866.7 1042.8 871.3C1041.3 876 1043.2 881.4 1046.6 886.5C1049.9 891.5 1057.7 896.5 1062.9 901.6C1068.2 906.6 1073.9 912.5 1078 916.7C1082.2 920.9 1086.4 925.1 1088.1 926.7" clip-path="url(#cb3)"/>
<path class="b" stroke-width="6.3" d="M1088.1 930.5C1083.1 930.3 1068.4 928.6 1057.9 929.3C1047.4 929.9 1032.9 931.4 1025.2 934.3C1017.4 937.2 1013 942.7 1011.3 946.9C1009.7 951.1 1012 954.8 1015.1 959.5C1018.3 964.1 1024.8 969.5 1030.2 974.6C1035.7 979.6 1043.6 984.6 1047.8 989.7C1052 994.7 1054.3 1000.1 1055.4 1004.8C1056.4 1009.5 1054.3 1015.7 1054.1 1017.9" clip-path="url(#cb3)"/>
<path class="bh" stroke-width="2.6" d="M1088.1 930.5C1083.1 930.3 1068.4 928.6 1057.9 929.3C1047.4 929.9 1032.9 931.4 1025.2 934.3C1017.4 937.2 1013 942.7 1011.3 946.9C1009.7 951.1 1012 954.8 1015.1 959.5C1018.3 964.1 1024.8 969.5 1030.2 974.6C1035.7 979.6 1043.6 984.6 1047.8 989.7C1052 994.7 1054.3 1000.1 1055.4 1004.8C1056.4 1009.5 1054.3 1015.7 1054.1 1017.9" clip-path="url(#cb3)"/>
<path class="b" stroke-width="6.3" d="M1236.7 690.1C1240.9 692.2 1254.7 698.5 1261.8 702.7C1269 706.9 1275.7 711.1 1279.5 715.2C1283.2 719.4 1285.8 724.1 1284.5 727.8C1283.2 731.6 1278.2 735 1271.9 737.9C1265.6 740.8 1254.7 742.9 1246.7 745.5C1238.8 748 1229.3 750.9 1224.1 753C1218.8 755.1 1216.7 757.2 1215.3 758" clip-path="url(#cb3)"/>
<path class="bh" stroke-width="2.6" d="M1236.7 690.1C1240.9 692.2 1254.7 698.5 1261.8 702.7C1269 706.9 1275.7 711.1 1279.5 715.2C1283.2 719.4 1285.8 724.1 1284.5 727.8C1283.2 731.6 1278.2 735 1271.9 737.9C1265.6 740.8 1254.7 742.9 1246.7 745.5C1238.8 748 1229.3 750.9 1224.1 753C1218.8 755.1 1216.7 757.2 1215.3 758" clip-path="url(#cb3)"/>
<path class="b" stroke-width="6.3" d="M1302.1 712.7C1298.8 712.5 1291.2 712.1 1282 711.5C1272.8 710.8 1255.1 709 1246.7 709C1238.3 709 1234.8 709.6 1231.6 711.5C1228.5 713.4 1227 716.7 1227.9 720.3C1228.7 723.8 1233.1 727.8 1236.7 732.9C1240.2 737.9 1245.5 744.6 1249.3 750.5C1253 756.4 1257.2 763.3 1259.3 768.1C1261.4 772.9 1263.1 777.4 1261.8 779.4C1260.6 781.5 1253.4 780.5 1251.8 780.7" clip-path="url(#cb3)"/>
<path class="bh" stroke-width="2.6" d="M1302.1 712.7C1298.8 712.5 1291.2 712.1 1282 711.5C1272.8 710.8 1255.1 709 1246.7 709C1238.3 709 1234.8 709.6 1231.6 711.5C1228.5 713.4 1227 716.7 1227.9 720.3C1228.7 723.8 1233.1 727.8 1236.7 732.9C1240.2 737.9 1245.5 744.6 1249.3 750.5C1253 756.4 1257.2 763.3 1259.3 768.1C1261.4 772.9 1263.1 777.4 1261.8 779.4C1260.6 781.5 1253.4 780.5 1251.8 780.7" clip-path="url(#cb3)"/>
<path class="b" stroke-width="6.3" d="M1215.3 760.6C1218 761.8 1225.5 764.8 1231.6 768.1C1237.7 771.5 1245.9 776.5 1251.8 780.7C1257.6 784.9 1263.5 788.7 1266.9 793.3C1270.2 797.9 1272.8 803.8 1271.9 808.4C1271.1 813 1267.3 818.1 1261.8 821C1256.4 823.9 1247.2 824.6 1239.2 826C1231.2 827.5 1220.7 829 1214 829.8C1207.3 830.6 1201.4 830.9 1198.9 831.1" clip-path="url(#cb3)"/>
<path class="bh" stroke-width="2.6" d="M1215.3 760.6C1218 761.8 1225.5 764.8 1231.6 768.1C1237.7 771.5 1245.9 776.5 1251.8 780.7C1257.6 784.9 1263.5 788.7 1266.9 793.3C1270.2 797.9 1272.8 803.8 1271.9 808.4C1271.1 813 1267.3 818.1 1261.8 821C1256.4 823.9 1247.2 824.6 1239.2 826C1231.2 827.5 1220.7 829 1214 829.8C1207.3 830.6 1201.4 830.9 1198.9 831.1" clip-path="url(#cb3)"/>
<path class="b" stroke-width="6.3" d="M1261.8 779.4C1258.5 779 1249.7 777.6 1241.7 776.9C1233.7 776.3 1222 775.5 1214 775.7C1206 775.9 1197.6 776.5 1193.9 778.2C1190.1 779.9 1190.1 782 1191.3 785.7C1192.6 789.5 1197.6 795.4 1201.4 800.8C1205.2 806.3 1210.2 813 1214 818.5C1217.8 823.9 1222 829.4 1224.1 833.6C1226.2 837.8 1227.9 841.1 1226.6 843.7C1225.3 846.2 1218.2 847.8 1216.5 848.7" clip-path="url(#cb3)"/>
<path class="bh" stroke-width="2.6" d="M1261.8 779.4C1258.5 779 1249.7 777.6 1241.7 776.9C1233.7 776.3 1222 775.5 1214 775.7C1206 775.9 1197.6 776.5 1193.9 778.2C1190.1 779.9 1190.1 782 1191.3 785.7C1192.6 789.5 1197.6 795.4 1201.4 800.8C1205.2 806.3 1210.2 813 1214 818.5C1217.8 823.9 1222 829.4 1224.1 833.6C1226.2 837.8 1227.9 841.1 1226.6 843.7C1225.3 846.2 1218.2 847.8 1216.5 848.7" clip-path="url(#cb3)"/>
<path class="b" stroke-width="6.3" d="M1198.9 833.6C1201 835.7 1206.9 841.1 1211.5 846.2C1216.1 851.2 1222 858.3 1226.6 863.8C1231.2 869.2 1236 874.3 1239.2 878.9C1242.3 883.5 1245.5 888.1 1245.5 891.5C1245.5 894.8 1243.2 897.2 1239.2 899C1235.2 900.9 1228.7 902 1221.6 902.8C1214.4 903.7 1204.4 903.4 1196.4 904.1C1188.4 904.7 1177.5 906.2 1173.7 906.6" clip-path="url(#cb3)"/>
<path class="bh" stroke-width="2.6" d="M1198.9 833.6C1201 835.7 1206.9 841.1 1211.5 846.2C1216.1 851.2 1222 858.3 1226.6 863.8C1231.2 869.2 1236 874.3 1239.2 878.9C1242.3 883.5 1245.5 888.1 1245.5 891.5C1245.5 894.8 1243.2 897.2 1239.2 899C1235.2 900.9 1228.7 902 1221.6 902.8C1214.4 903.7 1204.4 903.4 1196.4 904.1C1188.4 904.7 1177.5 906.2 1173.7 906.6" clip-path="url(#cb3)"/>
<path class="b" stroke-width="6.3" d="M1226.6 843.7C1222.4 843.2 1210.6 842 1201.4 841.1C1192.2 840.3 1178.5 838.2 1171.2 838.6C1163.9 839 1159 840.7 1157.4 843.7C1155.7 846.6 1158.4 851.6 1161.1 856.2C1163.9 860.9 1169.5 866.3 1173.7 871.3C1177.9 876.4 1183 881.8 1186.3 886.5C1189.7 891.1 1192.6 896.1 1193.9 899C1195.1 902 1193.9 903.2 1193.9 904.1" clip-path="url(#cb3)"/>
<path class="bh" stroke-width="2.6" d="M1226.6 843.7C1222.4 843.2 1210.6 842 1201.4 841.1C1192.2 840.3 1178.5 838.2 1171.2 838.6C1163.9 839 1159 840.7 1157.4 843.7C1155.7 846.6 1158.4 851.6 1161.1 856.2C1163.9 860.9 1169.5 866.3 1173.7 871.3C1177.9 876.4 1183 881.8 1186.3 886.5C1189.7 891.1 1192.6 896.1 1193.9 899C1195.1 902 1193.9 903.2 1193.9 904.1" clip-path="url(#cb3)"/>
<path class="b" stroke-width="6.3" d="M1173.7 909.1C1176.7 911.2 1185.5 917.1 1191.3 921.7C1197.2 926.3 1203.9 931.8 1209 936.8C1214 941.8 1219 947.3 1221.6 951.9C1224.1 956.5 1225.3 960.7 1224.1 964.5C1222.8 968.3 1219.5 972.1 1214 974.6C1208.5 977.1 1199.3 978.6 1191.3 979.6C1183.4 980.7 1172.5 980.4 1166.2 980.9C1159.9 981.3 1155.7 981.9 1153.6 982.1" clip-path="url(#cb3)"/>
<path class="bh" stroke-width="2.6" d="M1173.7 909.1C1176.7 911.2 1185.5 917.1 1191.3 921.7C1197.2 926.3 1203.9 931.8 1209 936.8C1214 941.8 1219 947.3 1221.6 951.9C1224.1 956.5 1225.3 960.7 1224.1 964.5C1222.8 968.3 1219.5 972.1 1214 974.6C1208.5 977.1 1199.3 978.6 1191.3 979.6C1183.4 980.7 1172.5 980.4 1166.2 980.9C1159.9 981.3 1155.7 981.9 1153.6 982.1" clip-path="url(#cb3)"/>
<path class="b" stroke-width="6.3" d="M1118.3 904.1C1122.1 904.5 1132.2 905.8 1141 906.6C1149.8 907.4 1161.1 907.9 1171.2 909.1C1181.3 910.4 1192.2 912 1201.4 914.1C1210.6 916.2 1219 919.2 1226.6 921.7C1234.1 924.2 1241.3 927.2 1246.7 929.3C1252.2 931.4 1257.2 933.4 1259.3 934.3" clip-path="url(#cb3)"/>
<path class="bh" stroke-width="2.6" d="M1118.3 904.1C1122.1 904.5 1132.2 905.8 1141 906.6C1149.8 907.4 1161.1 907.9 1171.2 909.1C1181.3 910.4 1192.2 912 1201.4 914.1C1210.6 916.2 1219 919.2 1226.6 921.7C1234.1 924.2 1241.3 927.2 1246.7 929.3C1252.2 931.4 1257.2 933.4 1259.3 934.3" clip-path="url(#cb3)"/>
<path class="b" stroke-width="6.3" d="M1118.3 905.3C1120.4 907.6 1125.9 914.4 1130.9 919.2C1136 924 1142.7 929.7 1148.5 934.3C1154.4 938.9 1161.1 943.1 1166.2 946.9C1171.2 950.7 1176.2 953.2 1178.8 956.9C1181.3 960.7 1180.9 965.8 1181.3 969.5C1181.7 973.3 1181.3 977.9 1181.3 979.6" clip-path="url(#cb3)"/>
<path class="bh" stroke-width="2.6" d="M1118.3 905.3C1120.4 907.6 1125.9 914.4 1130.9 919.2C1136 924 1142.7 929.7 1148.5 934.3C1154.4 938.9 1161.1 943.1 1166.2 946.9C1171.2 950.7 1176.2 953.2 1178.8 956.9C1181.3 960.7 1180.9 965.8 1181.3 969.5C1181.7 973.3 1181.3 977.9 1181.3 979.6" clip-path="url(#cb3)"/>
<path class="b" stroke-width="6.3" d="M1153.6 984.6C1156.5 986.7 1165.3 993 1171.2 997.2C1177.1 1001.4 1184.6 1006.4 1188.8 1009.8C1193 1013.3 1195.1 1016.5 1196.4 1017.9" clip-path="url(#cb3)"/>
<path class="bh" stroke-width="2.6" d="M1153.6 984.6C1156.5 986.7 1165.3 993 1171.2 997.2C1177.1 1001.4 1184.6 1006.4 1188.8 1009.8C1193 1013.3 1195.1 1016.5 1196.4 1017.9" clip-path="url(#cb3)"/>
<path class="b" stroke-width="4.6" d="M1259.3 934.3C1257.2 933 1252.2 929.5 1246.7 926.7C1241.3 924 1233.3 919.6 1226.6 917.9C1219.9 916.2 1211.9 915.6 1206.5 916.7C1201 917.7 1197.2 920 1193.9 924.2C1190.5 928.4 1188.4 936.4 1186.3 941.8C1184.2 947.3 1182.1 954.4 1181.3 956.9" clip-path="url(#cb3)"/>
<path class="bh" stroke-width="1.9" d="M1259.3 934.3C1257.2 933 1252.2 929.5 1246.7 926.7C1241.3 924 1233.3 919.6 1226.6 917.9C1219.9 916.2 1211.9 915.6 1206.5 916.7C1201 917.7 1197.2 920 1193.9 924.2C1190.5 928.4 1188.4 936.4 1186.3 941.8C1184.2 947.3 1182.1 954.4 1181.3 956.9" clip-path="url(#cb3)"/>
<path class="b" stroke-width="4.6" d="M1236.7 876.4C1235.4 878.1 1230.8 882.3 1229.1 886.5C1227.4 890.6 1225.8 896.1 1226.6 901.6C1227.4 907 1231.6 914.6 1234.1 919.2C1236.7 923.8 1240.4 927.6 1241.7 929.3" clip-path="url(#cb3)"/>
<path class="bh" stroke-width="1.9" d="M1236.7 876.4C1235.4 878.1 1230.8 882.3 1229.1 886.5C1227.4 890.6 1225.8 896.1 1226.6 901.6C1227.4 907 1231.6 914.6 1234.1 919.2C1236.7 923.8 1240.4 927.6 1241.7 929.3" clip-path="url(#cb3)"/>
<path class="b" stroke-width="3.4" d="M1246.7 863.8C1250.1 863.6 1260.6 862.1 1266.9 862.5C1273.2 863 1278.6 865.3 1284.5 866.3C1290.4 867.4 1295 869.7 1302.1 868.8C1309.3 868 1318.9 863.8 1327.3 861.3C1335.7 858.8 1344.1 855.8 1352.5 853.7C1360.9 851.6 1369.3 850.2 1377.7 848.7C1386 847.2 1396.1 846.2 1402.8 844.9C1409.5 843.7 1415.4 841.8 1417.9 841.1" clip-path="url(#cb3)"/>
<path class="b" stroke-width="6.3" d="M1309.7 680C1313.5 681.3 1325.2 684.2 1332.3 687.6C1339.5 690.9 1348.7 695.9 1352.5 700.1C1356.3 704.3 1357.1 709 1355 712.7C1352.9 716.5 1346.2 719.9 1339.9 722.8C1333.6 725.7 1323.7 728.3 1317.2 730.4C1310.7 732.5 1303.6 734.6 1300.9 735.4" clip-path="url(#cb3)"/>
<path class="bh" stroke-width="2.6" d="M1309.7 680C1313.5 681.3 1325.2 684.2 1332.3 687.6C1339.5 690.9 1348.7 695.9 1352.5 700.1C1356.3 704.3 1357.1 709 1355 712.7C1352.9 716.5 1346.2 719.9 1339.9 722.8C1333.6 725.7 1323.7 728.3 1317.2 730.4C1310.7 732.5 1303.6 734.6 1300.9 735.4" clip-path="url(#cb3)"/>
<path class="b" stroke-width="6.3" d="M1300.9 737.9C1304 739.2 1312.8 742.5 1319.7 745.5C1326.7 748.4 1336.1 752.2 1342.4 755.5C1348.7 758.9 1354.2 762.2 1357.5 765.6C1360.9 769 1363.4 773.2 1362.5 775.7C1361.7 778.2 1358.4 778.2 1352.5 780.7C1346.6 783.2 1334.4 787.8 1327.3 790.8C1320.2 793.7 1314.1 796.2 1309.7 798.3C1305.3 800.4 1302.3 802.5 1300.9 803.4" clip-path="url(#cb3)"/>
<path class="bh" stroke-width="2.6" d="M1300.9 737.9C1304 739.2 1312.8 742.5 1319.7 745.5C1326.7 748.4 1336.1 752.2 1342.4 755.5C1348.7 758.9 1354.2 762.2 1357.5 765.6C1360.9 769 1363.4 773.2 1362.5 775.7C1361.7 778.2 1358.4 778.2 1352.5 780.7C1346.6 783.2 1334.4 787.8 1327.3 790.8C1320.2 793.7 1314.1 796.2 1309.7 798.3C1305.3 800.4 1302.3 802.5 1300.9 803.4" clip-path="url(#cb3)"/>
<path class="b" stroke-width="6.3" d="M1300.9 805.9C1303.6 807.1 1310.7 810.5 1317.2 813.4C1323.7 816.4 1332.8 820.6 1339.9 823.5C1347 826.4 1355 830.6 1360 831.1C1365.1 831.5 1368.8 828.5 1370.1 826C1371.4 823.5 1369.3 820.2 1367.6 816C1365.9 811.8 1361.7 805.9 1360 800.8C1358.4 795.8 1357.5 789.9 1357.5 785.7C1357.5 781.5 1359.6 777.4 1360 775.7" clip-path="url(#cb3)"/>
<path class="bh" stroke-width="2.6" d="M1300.9 805.9C1303.6 807.1 1310.7 810.5 1317.2 813.4C1323.7 816.4 1332.8 820.6 1339.9 823.5C1347 826.4 1355 830.6 1360 831.1C1365.1 831.5 1368.8 828.5 1370.1 826C1371.4 823.5 1369.3 820.2 1367.6 816C1365.9 811.8 1361.7 805.9 1360 800.8C1358.4 795.8 1357.5 789.9 1357.5 785.7C1357.5 781.5 1359.6 777.4 1360 775.7" clip-path="url(#cb3)"/>
<path class="b" stroke-width="6.3" d="M1370.1 707.7C1373.9 708.1 1384.8 709.8 1392.8 710.2C1400.7 710.6 1410.4 711.1 1417.9 710.2C1425.5 709.4 1434.3 708.1 1438.1 705.2C1441.9 702.2 1441 696.8 1440.6 692.6C1440.2 688.4 1436.4 682.1 1435.6 680" clip-path="url(#cb3)"/>
<path class="bh" stroke-width="2.6" d="M1370.1 707.7C1373.9 708.1 1384.8 709.8 1392.8 710.2C1400.7 710.6 1410.4 711.1 1417.9 710.2C1425.5 709.4 1434.3 708.1 1438.1 705.2C1441.9 702.2 1441 696.8 1440.6 692.6C1440.2 688.4 1436.4 682.1 1435.6 680" clip-path="url(#cb3)"/>
<path class="b" stroke-width="6.3" d="M1370.1 705.2C1371.4 703.5 1373.5 698.5 1377.7 695.1C1381.9 691.7 1390.2 687.6 1395.3 685C1400.3 682.5 1405.8 680.8 1407.9 680" clip-path="url(#cb3)"/>
<path class="bh" stroke-width="2.6" d="M1370.1 705.2C1371.4 703.5 1373.5 698.5 1377.7 695.1C1381.9 691.7 1390.2 687.6 1395.3 685C1400.3 682.5 1405.8 680.8 1407.9 680" clip-path="url(#cb3)"/>
<path class="b" stroke-width="6.3" d="M1372.6 710.2C1373.5 712.7 1374.3 720.3 1377.7 725.3C1381 730.4 1386.9 735.8 1392.8 740.4C1398.6 745 1406.4 749.2 1412.9 753C1419.4 756.8 1428.6 761.4 1431.8 763.1" clip-path="url(#cb3)"/>
<path class="bh" stroke-width="2.6" d="M1372.6 710.2C1373.5 712.7 1374.3 720.3 1377.7 725.3C1381 730.4 1386.9 735.8 1392.8 740.4C1398.6 745 1406.4 749.2 1412.9 753C1419.4 756.8 1428.6 761.4 1431.8 763.1" clip-path="url(#cb3)"/>
<path class="b" stroke-width="6.3" d="M1431.8 765.6C1427.8 766 1416.9 767.1 1407.9 768.1C1398.8 769.2 1386.9 771.1 1377.7 771.9C1368.4 772.7 1359 773.8 1352.5 773.2C1346 772.5 1340.9 769 1338.6 768.1" clip-path="url(#cb3)"/>
<path class="bh" stroke-width="2.6" d="M1431.8 765.6C1427.8 766 1416.9 767.1 1407.9 768.1C1398.8 769.2 1386.9 771.1 1377.7 771.9C1368.4 772.7 1359 773.8 1352.5 773.2C1346 772.5 1340.9 769 1338.6 768.1" clip-path="url(#cb3)"/>
<path class="b" stroke-width="6.3" d="M1338.6 768.1C1340.9 770.2 1348.5 775.7 1352.5 780.7C1356.5 785.7 1358.4 792.9 1362.5 798.3C1366.7 803.8 1371.8 808.4 1377.7 813.4C1383.5 818.5 1391.1 824.3 1397.8 828.5C1404.5 832.7 1414.6 836.9 1417.9 838.6" clip-path="url(#cb3)"/>
<path class="bh" stroke-width="2.6" d="M1338.6 768.1C1340.9 770.2 1348.5 775.7 1352.5 780.7C1356.5 785.7 1358.4 792.9 1362.5 798.3C1366.7 803.8 1371.8 808.4 1377.7 813.4C1383.5 818.5 1391.1 824.3 1397.8 828.5C1404.5 832.7 1414.6 836.9 1417.9 838.6" clip-path="url(#cb3)"/>
<path class="b" stroke-width="6.3" d="M1417.9 841.1C1413.7 842 1401.6 844.1 1392.8 846.2C1383.9 848.3 1373 851.2 1365.1 853.7C1357.1 856.2 1350 858.8 1344.9 861.3C1339.9 863.8 1335.7 865.5 1334.9 868.8C1334 872.2 1337 876.8 1339.9 881.4C1342.8 886 1348.7 891.5 1352.5 896.5C1356.3 901.6 1359.2 906.2 1362.5 911.6C1365.9 917.1 1368.8 923.8 1372.6 929.3C1376.4 934.7 1381 941 1385.2 944.4C1389.4 947.7 1394.9 951.5 1397.8 949.4C1400.7 947.3 1401.6 938.9 1402.8 931.8C1404.1 924.6 1404.3 912.9 1405.4 906.6C1406.4 900.3 1408.5 896.1 1409.1 894" clip-path="url(#cb3)"/>
<path class="bh" stroke-width="2.6" d="M1417.9 841.1C1413.7 842 1401.6 844.1 1392.8 846.2C1383.9 848.3 1373 851.2 1365.1 853.7C1357.1 856.2 1350 858.8 1344.9 861.3C1339.9 863.8 1335.7 865.5 1334.9 868.8C1334 872.2 1337 876.8 1339.9 881.4C1342.8 886 1348.7 891.5 1352.5 896.5C1356.3 901.6 1359.2 906.2 1362.5 911.6C1365.9 917.1 1368.8 923.8 1372.6 929.3C1376.4 934.7 1381 941 1385.2 944.4C1389.4 947.7 1394.9 951.5 1397.8 949.4C1400.7 947.3 1401.6 938.9 1402.8 931.8C1404.1 924.6 1404.3 912.9 1405.4 906.6C1406.4 900.3 1408.5 896.1 1409.1 894" clip-path="url(#cb3)"/>
<path class="b" stroke-width="4.6" d="M1309.7 833.6C1312.6 833.2 1321 831.1 1327.3 831.1C1333.6 831.1 1343.2 831.5 1347.4 833.6C1351.6 835.7 1352.9 839.9 1352.5 843.7C1352.1 847.4 1348.3 853.3 1344.9 856.2C1341.6 859.2 1334.4 860.4 1332.3 861.3" clip-path="url(#cb3)"/>
<path class="bh" stroke-width="1.9" d="M1309.7 833.6C1312.6 833.2 1321 831.1 1327.3 831.1C1333.6 831.1 1343.2 831.5 1347.4 833.6C1351.6 835.7 1352.9 839.9 1352.5 843.7C1352.1 847.4 1348.3 853.3 1344.9 856.2C1341.6 859.2 1334.4 860.4 1332.3 861.3" clip-path="url(#cb3)"/>
<path class="b" stroke-width="4.6" d="M1309.7 834.8C1310.5 836.7 1311.8 842.6 1314.7 846.2C1317.7 849.7 1325.2 854.6 1327.3 856.2" clip-path="url(#cb3)"/>
<path class="bh" stroke-width="1.9" d="M1309.7 834.8C1310.5 836.7 1311.8 842.6 1314.7 846.2C1317.7 849.7 1325.2 854.6 1327.3 856.2" clip-path="url(#cb3)"/>
<path class="b" stroke-width="3.6" d="M1360 894C1363.8 894.4 1374.5 896.3 1382.7 896.5C1390.9 896.7 1404.7 895.5 1409.1 895.3" clip-path="url(#cb3)"/>
<path class="b" stroke-width="6.3" d="M1409.1 894C1408.9 898.2 1408.5 910.8 1407.9 919.2C1407.2 927.6 1404.5 937.6 1405.4 944.4C1406.2 951.1 1408.3 957.4 1412.9 959.5C1417.5 961.6 1425.5 959 1433 956.9C1440.6 954.8 1450.7 949.8 1458.2 946.9C1465.8 943.9 1473.7 941.4 1478.4 939.3C1483 937.2 1484.7 935.1 1485.9 934.3" clip-path="url(#cb3)"/>
<path class="bh" stroke-width="2.6" d="M1409.1 894C1408.9 898.2 1408.5 910.8 1407.9 919.2C1407.2 927.6 1404.5 937.6 1405.4 944.4C1406.2 951.1 1408.3 957.4 1412.9 959.5C1417.5 961.6 1425.5 959 1433 956.9C1440.6 954.8 1450.7 949.8 1458.2 946.9C1465.8 943.9 1473.7 941.4 1478.4 939.3C1483 937.2 1484.7 935.1 1485.9 934.3" clip-path="url(#cb3)"/>
<path class="b" stroke-width="6.3" d="M1400.3 946.9C1401.8 943.5 1405.8 934.3 1409.1 926.7C1412.5 919.2 1417.1 908.7 1420.5 901.6C1423.8 894.4 1427.1 887.4 1429.3 883.9C1431.5 880.5 1431.2 878.6 1433.5 880.7C1435.9 882.8 1439.4 890.5 1443.1 896.5C1446.8 902.5 1451.1 910 1455.7 916.7C1460.3 923.4 1466.2 932 1470.8 936.8C1475.4 941.6 1481.3 944.1 1483.4 945.6" clip-path="url(#cb3)"/>
<path class="bh" stroke-width="2.6" d="M1400.3 946.9C1401.8 943.5 1405.8 934.3 1409.1 926.7C1412.5 919.2 1417.1 908.7 1420.5 901.6C1423.8 894.4 1427.1 887.4 1429.3 883.9C1431.5 880.5 1431.2 878.6 1433.5 880.7C1435.9 882.8 1439.4 890.5 1443.1 896.5C1446.8 902.5 1451.1 910 1455.7 916.7C1460.3 923.4 1466.2 932 1470.8 936.8C1475.4 941.6 1481.3 944.1 1483.4 945.6" clip-path="url(#cb3)"/>
<path class="b" stroke-width="6.3" d="M1483.4 945.6C1484.5 943 1487.4 937.6 1490 930C1492.6 922.4 1495.9 909.3 1499 900C1502.1 890.7 1505 876.5 1508.5 874C1512 871.5 1514.8 878.7 1520 885C1525.2 891.3 1532.5 903.6 1540 912C1547.5 920.4 1559.3 934.1 1564.8 935.4C1570.3 936.7 1570 928.4 1573 920C1576 911.6 1579.5 894.9 1583 885C1586.5 875.1 1590.3 863 1594 860.5C1597.7 858 1599.8 863.4 1605 870C1610.2 876.6 1617.9 890.7 1625 900C1632.1 909.3 1642.8 925.2 1647.8 926C1652.8 926.8 1652.8 911.8 1655 905C1657.2 898.2 1659.1 891.5 1661 885C1662.9 878.5 1665.7 868.9 1666.6 865.7"/>
<path class="bh" stroke-width="2.6" d="M1483.4 945.6C1484.5 943 1487.4 937.6 1490 930C1492.6 922.4 1495.9 909.3 1499 900C1502.1 890.7 1505 876.5 1508.5 874C1512 871.5 1514.8 878.7 1520 885C1525.2 891.3 1532.5 903.6 1540 912C1547.5 920.4 1559.3 934.1 1564.8 935.4C1570.3 936.7 1570 928.4 1573 920C1576 911.6 1579.5 894.9 1583 885C1586.5 875.1 1590.3 863 1594 860.5C1597.7 858 1599.8 863.4 1605 870C1610.2 876.6 1617.9 890.7 1625 900C1632.1 909.3 1642.8 925.2 1647.8 926C1652.8 926.8 1652.8 911.8 1655 905C1657.2 898.2 1659.1 891.5 1661 885C1662.9 878.5 1665.7 868.9 1666.6 865.7"/>
<path class="b" stroke-width="2.6" d="M1666.6 865.7C1667.1 861.4 1668.6 848.7 1669.5 840C1670.4 831.3 1671.6 817.9 1672 813.5"/>
<path class="b" stroke-width="4.6" d="M1412.9 959.5C1417.9 956.9 1433 949 1443.1 944.4C1453.2 939.7 1463.3 936 1473.3 931.8C1483.4 927.6 1496 923.4 1503.5 919.2C1511.1 915 1516.1 911.6 1518.6 906.6C1521.2 901.6 1518.6 891.9 1518.6 889" clip-path="url(#cb3)"/>
<path class="bh" stroke-width="1.9" d="M1412.9 959.5C1417.9 956.9 1433 949 1443.1 944.4C1453.2 939.7 1463.3 936 1473.3 931.8C1483.4 927.6 1496 923.4 1503.5 919.2C1511.1 915 1516.1 911.6 1518.6 906.6C1521.2 901.6 1518.6 891.9 1518.6 889" clip-path="url(#cb3)"/>
<path class="b" stroke-width="6.3" d="M1546.3 680C1546.6 682.5 1549.3 690.1 1547.6 695.1C1545.9 700.1 1541.9 706 1536.3 710.2C1530.6 714.4 1521.6 717.8 1513.6 720.3C1505.6 722.8 1495.1 724.5 1488.4 725.3C1481.7 726.2 1475.8 725.3 1473.3 725.3" clip-path="url(#cb3)"/>
<path class="bh" stroke-width="2.6" d="M1546.3 680C1546.6 682.5 1549.3 690.1 1547.6 695.1C1545.9 700.1 1541.9 706 1536.3 710.2C1530.6 714.4 1521.6 717.8 1513.6 720.3C1505.6 722.8 1495.1 724.5 1488.4 725.3C1481.7 726.2 1475.8 725.3 1473.3 725.3" clip-path="url(#cb3)"/>
<path class="b" stroke-width="6.3" d="M1473.3 727.8C1477.5 728.3 1491 728.3 1498.5 730.4C1506.1 732.5 1513.6 736.2 1518.6 740.4C1523.7 744.6 1527.5 750.5 1528.7 755.5C1530 760.6 1529.6 766.4 1526.2 770.6C1522.8 774.8 1515.7 778.2 1508.6 780.7C1501.4 783.2 1491 784.7 1483.4 785.7C1475.8 786.8 1466.6 786.8 1463.3 787" clip-path="url(#cb3)"/>
<path class="bh" stroke-width="2.6" d="M1473.3 727.8C1477.5 728.3 1491 728.3 1498.5 730.4C1506.1 732.5 1513.6 736.2 1518.6 740.4C1523.7 744.6 1527.5 750.5 1528.7 755.5C1530 760.6 1529.6 766.4 1526.2 770.6C1522.8 774.8 1515.7 778.2 1508.6 780.7C1501.4 783.2 1491 784.7 1483.4 785.7C1475.8 786.8 1466.6 786.8 1463.3 787" clip-path="url(#cb3)"/>
<path class="b" stroke-width="6.3" d="M1463.3 790.8C1467.5 791.2 1480.9 791.2 1488.4 793.3C1496 795.4 1503.5 799.2 1508.6 803.4C1513.6 807.6 1517.8 813.4 1518.6 818.5C1519.5 823.5 1517 829 1513.6 833.6C1510.3 838.2 1504.8 842.8 1498.5 846.2C1492.2 849.5 1482.6 852 1475.8 853.7C1469.1 855.4 1461.2 855.8 1458.2 856.2" clip-path="url(#cb3)"/>
<path class="bh" stroke-width="2.6" d="M1463.3 790.8C1467.5 791.2 1480.9 791.2 1488.4 793.3C1496 795.4 1503.5 799.2 1508.6 803.4C1513.6 807.6 1517.8 813.4 1518.6 818.5C1519.5 823.5 1517 829 1513.6 833.6C1510.3 838.2 1504.8 842.8 1498.5 846.2C1492.2 849.5 1482.6 852 1475.8 853.7C1469.1 855.4 1461.2 855.8 1458.2 856.2" clip-path="url(#cb3)"/>
<path class="b" stroke-width="6.3" d="M1458.2 860C1462.4 860.2 1476.3 861.5 1483.4 861.3C1490.5 861.1 1496.8 857.9 1501 858.8C1505.2 859.6 1506.5 863 1508.6 866.3C1510.7 869.7 1512.8 876.8 1513.6 878.9" clip-path="url(#cb3)"/>
<path class="bh" stroke-width="2.6" d="M1458.2 860C1462.4 860.2 1476.3 861.5 1483.4 861.3C1490.5 861.1 1496.8 857.9 1501 858.8C1505.2 859.6 1506.5 863 1508.6 866.3C1510.7 869.7 1512.8 876.8 1513.6 878.9" clip-path="url(#cb3)"/>
<path class="b" stroke-width="4" d="M1010.1 947.6C1011.3 949.2 1013.4 953.4 1017.6 957.6C1021.8 961.8 1029.8 967.7 1035.2 972.7C1040.7 977.8 1047 982.8 1050.4 987.8C1053.7 992.9 1054.8 997.9 1055.4 1002.9C1056 1008 1054.3 1015.5 1054.1 1018" clip-path="url(#cb4)"/>
<path class="bh" stroke-width="1.7" d="M1010.1 947.6C1011.3 949.2 1013.4 953.4 1017.6 957.6C1021.8 961.8 1029.8 967.7 1035.2 972.7C1040.7 977.8 1047 982.8 1050.4 987.8C1053.7 992.9 1054.8 997.9 1055.4 1002.9C1056 1008 1054.3 1015.5 1054.1 1018" clip-path="url(#cb4)"/>
<path class="b" stroke-width="6.3" d="M1153.6 986.6C1157.4 985.9 1168.3 984.3 1176.2 982.8C1184.2 981.3 1194.3 979.9 1201.4 977.8C1208.5 975.7 1215.3 973.6 1219 970.2C1222.8 966.9 1224.1 961.8 1224.1 957.6C1224.1 953.4 1220.7 948 1219 945C1217.4 942.1 1214.8 940.8 1214 940" clip-path="url(#cb4)"/>
<path class="bh" stroke-width="2.6" d="M1153.6 986.6C1157.4 985.9 1168.3 984.3 1176.2 982.8C1184.2 981.3 1194.3 979.9 1201.4 977.8C1208.5 975.7 1215.3 973.6 1219 970.2C1222.8 966.9 1224.1 961.8 1224.1 957.6C1224.1 953.4 1220.7 948 1219 945C1217.4 942.1 1214.8 940.8 1214 940" clip-path="url(#cb4)"/>
<path class="b" stroke-width="4.6" d="M1181.3 980.3C1181.1 976.9 1179.6 966.9 1180 960.1C1180.4 953.4 1183.2 943.4 1183.8 940" clip-path="url(#cb4)"/>
<path class="bh" stroke-width="1.9" d="M1181.3 980.3C1181.1 976.9 1179.6 966.9 1180 960.1C1180.4 953.4 1183.2 943.4 1183.8 940" clip-path="url(#cb4)"/>
<path class="b" stroke-width="6.3" d="M1153.6 987.8C1156.5 989.5 1164.9 993.7 1171.2 997.9C1177.5 1002.1 1186.3 1007.6 1191.3 1013C1196.4 1018.5 1200.2 1025.2 1201.4 1030.6C1202.7 1036.1 1202.3 1041.5 1198.9 1045.7C1195.5 1049.9 1189.2 1053.3 1181.3 1055.8C1173.3 1058.3 1159.5 1059.6 1151.1 1060.8C1142.7 1062.1 1134.3 1062.9 1130.9 1063.4" clip-path="url(#cb4)"/>
<path class="bh" stroke-width="2.6" d="M1153.6 987.8C1156.5 989.5 1164.9 993.7 1171.2 997.9C1177.5 1002.1 1186.3 1007.6 1191.3 1013C1196.4 1018.5 1200.2 1025.2 1201.4 1030.6C1202.7 1036.1 1202.3 1041.5 1198.9 1045.7C1195.5 1049.9 1189.2 1053.3 1181.3 1055.8C1173.3 1058.3 1159.5 1059.6 1151.1 1060.8C1142.7 1062.1 1134.3 1062.9 1130.9 1063.4" clip-path="url(#cb4)"/>
<path class="b" stroke-width="6.3" d="M1130.9 1065.9C1134.3 1068 1143.9 1073 1151.1 1078.5C1158.2 1083.9 1168.3 1092.3 1173.7 1098.6C1179.2 1104.9 1183.4 1111.2 1183.8 1116.2C1184.2 1121.3 1181.7 1124.6 1176.2 1128.8C1170.8 1133 1159.5 1137.6 1151.1 1141.4C1142.7 1145.2 1130.1 1149.8 1125.9 1151.5" clip-path="url(#cb4)"/>
<path class="bh" stroke-width="2.6" d="M1130.9 1065.9C1134.3 1068 1143.9 1073 1151.1 1078.5C1158.2 1083.9 1168.3 1092.3 1173.7 1098.6C1179.2 1104.9 1183.4 1111.2 1183.8 1116.2C1184.2 1121.3 1181.7 1124.6 1176.2 1128.8C1170.8 1133 1159.5 1137.6 1151.1 1141.4C1142.7 1145.2 1130.1 1149.8 1125.9 1151.5" clip-path="url(#cb4)"/>
<path class="b" stroke-width="3.6" d="M1988.3 230.8C1987.8 227.4 1987.4 216.5 1985.7 210.6C1984.1 204.8 1980.3 197.6 1978.2 195.5C1976.1 193.4 1974 194.7 1973.2 198C1972.3 201.4 1971.9 210.6 1973.2 215.7C1974.4 220.7 1975.3 226.8 1980.7 228.3C1986.2 229.7 1997.5 224.5 2005.9 224.5C2014.3 224.5 2023.1 225.5 2031.1 228.3C2039 231 2047.4 235.4 2053.7 240.8C2060 246.3 2064.2 254.3 2068.8 261C2073.4 267.7 2077.2 275.3 2081.4 281.1C2085.6 287 2087.7 294.1 2094 296.2C2100.3 298.3 2110.8 295.4 2119.2 293.7C2127.6 292 2137.6 287.8 2144.4 286.2C2151.1 284.5 2156.9 284.1 2159.5 283.7" clip-path="url(#cc1)"/>
<path class="b" stroke-width="6.3" d="M2159.5 283.7C2163.2 283.7 2174.6 281.6 2182.1 283.7C2189.7 285.7 2198.5 290.8 2204.8 296.2C2211.1 301.7 2216.5 309.7 2219.9 316.4C2223.2 323.1 2225.3 330.6 2224.9 336.5C2224.5 342.4 2222 347.4 2217.4 351.6C2212.8 355.8 2205.2 359 2197.2 361.7C2189.3 364.4 2176.7 366.5 2169.5 368C2162.4 369.5 2156.9 370.1 2154.4 370.5" clip-path="url(#cc1)"/>
<path class="bh" stroke-width="2.6" d="M2159.5 283.7C2163.2 283.7 2174.6 281.6 2182.1 283.7C2189.7 285.7 2198.5 290.8 2204.8 296.2C2211.1 301.7 2216.5 309.7 2219.9 316.4C2223.2 323.1 2225.3 330.6 2224.9 336.5C2224.5 342.4 2222 347.4 2217.4 351.6C2212.8 355.8 2205.2 359 2197.2 361.7C2189.3 364.4 2176.7 366.5 2169.5 368C2162.4 369.5 2156.9 370.1 2154.4 370.5" clip-path="url(#cc1)"/>
<path class="b" stroke-width="4.8" d="M1980.7 228.3C1979.4 232 1978.2 244.2 1973.2 250.9C1968.1 257.6 1957.2 262.7 1950.5 268.5C1943.8 274.4 1936.2 279.9 1932.9 286.2C1929.5 292.5 1928.7 300.4 1930.4 306.3C1932 312.2 1936.6 317.8 1942.9 321.4C1949.2 325 1958.9 327.3 1968.1 327.7C1977.4 328.1 1989.7 326.2 1998.3 323.9C2006.9 321.6 2016.2 315.5 2019.7 313.9" clip-path="url(#cc1)"/>
<path class="bh" stroke-width="2" d="M1980.7 228.3C1979.4 232 1978.2 244.2 1973.2 250.9C1968.1 257.6 1957.2 262.7 1950.5 268.5C1943.8 274.4 1936.2 279.9 1932.9 286.2C1929.5 292.5 1928.7 300.4 1930.4 306.3C1932 312.2 1936.6 317.8 1942.9 321.4C1949.2 325 1958.9 327.3 1968.1 327.7C1977.4 328.1 1989.7 326.2 1998.3 323.9C2006.9 321.6 2016.2 315.5 2019.7 313.9" clip-path="url(#cc1)"/>
<path class="b" stroke-width="6.3" d="M2019.7 313.9C2016.2 316 2004.8 321.4 1998.3 326.5C1991.8 331.5 1984.3 338.2 1980.7 344.1C1977.1 350 1976.1 355.4 1976.9 361.7C1977.8 368 1981.3 375.5 1985.7 381.8C1990.1 388.1 1997.1 394 2003.4 399.5C2009.7 404.9 2017.6 410 2023.5 414.6C2029.4 419.2 2035 423.8 2038.6 427.2C2042.2 430.5 2043.9 433.5 2044.9 434.7" clip-path="url(#cc1)"/>
<path class="bh" stroke-width="2.6" d="M2019.7 313.9C2016.2 316 2004.8 321.4 1998.3 326.5C1991.8 331.5 1984.3 338.2 1980.7 344.1C1977.1 350 1976.1 355.4 1976.9 361.7C1977.8 368 1981.3 375.5 1985.7 381.8C1990.1 388.1 1997.1 394 2003.4 399.5C2009.7 404.9 2017.6 410 2023.5 414.6C2029.4 419.2 2035 423.8 2038.6 427.2C2042.2 430.5 2043.9 433.5 2044.9 434.7" clip-path="url(#cc1)"/>
<path class="b" stroke-width="6.3" d="M1998.3 376.8C2001.3 375.1 2008.8 369.7 2016 366.7C2023.1 363.8 2034 360.9 2041.1 359.2C2048.3 357.5 2054.6 356.9 2058.8 356.7C2063 356.5 2065.1 357.7 2066.3 357.9" clip-path="url(#cc1)"/>
<path class="bh" stroke-width="2.6" d="M1998.3 376.8C2001.3 375.1 2008.8 369.7 2016 366.7C2023.1 363.8 2034 360.9 2041.1 359.2C2048.3 357.5 2054.6 356.9 2058.8 356.7C2063 356.5 2065.1 357.7 2066.3 357.9" clip-path="url(#cc1)"/>
<path class="b" stroke-width="3.2" d="M2066.3 357.9C2068.8 359.8 2076 366.1 2081.4 369.3C2086.9 372.4 2093.2 375.5 2099 376.8C2104.9 378.1 2113.7 376.8 2116.7 376.8" clip-path="url(#cc1)"/>
<path class="b" stroke-width="6.3" d="M1998.3 378.1C1998.3 379.5 1994.6 385.4 1998.3 386.9C2002.1 388.3 2013.4 387.7 2021 386.9C2028.5 386 2037.4 382.3 2043.7 381.8C2049.9 381.4 2058.3 381.8 2058.8 384.4C2059.2 386.9 2051.2 391.9 2046.2 396.9C2041.1 402 2033.2 408.7 2028.5 414.6C2023.9 420.4 2019.7 426.7 2018.5 432.2C2017.2 437.7 2018.9 443 2021 447.3C2023.1 451.6 2029.4 456.1 2031.1 457.9" clip-path="url(#cc1)"/>
<path class="bh" stroke-width="2.6" d="M1998.3 378.1C1998.3 379.5 1994.6 385.4 1998.3 386.9C2002.1 388.3 2013.4 387.7 2021 386.9C2028.5 386 2037.4 382.3 2043.7 381.8C2049.9 381.4 2058.3 381.8 2058.8 384.4C2059.2 386.9 2051.2 391.9 2046.2 396.9C2041.1 402 2033.2 408.7 2028.5 414.6C2023.9 420.4 2019.7 426.7 2018.5 432.2C2017.2 437.7 2018.9 443 2021 447.3C2023.1 451.6 2029.4 456.1 2031.1 457.9" clip-path="url(#cc1)"/>
<path class="b" stroke-width="6.3" d="M2044.9 434.7C2040.9 434.3 2030.4 432.2 2021 432.2C2011.5 432.2 1997.1 432.6 1988.3 434.7C1979.4 436.8 1972.3 440.9 1968.1 444.8C1963.9 448.6 1963.9 455.7 1963.1 457.9" clip-path="url(#cc1)"/>
<path class="bh" stroke-width="2.6" d="M2044.9 434.7C2040.9 434.3 2030.4 432.2 2021 432.2C2011.5 432.2 1997.1 432.6 1988.3 434.7C1979.4 436.8 1972.3 440.9 1968.1 444.8C1963.9 448.6 1963.9 455.7 1963.1 457.9" clip-path="url(#cc1)"/>
<path class="b" stroke-width="3" d="M2099 253.4C2098.2 256.4 2094.8 264.8 2094 271.1C2093.2 277.4 2092.3 286.6 2094 291.2C2095.7 295.8 2102.4 297.5 2104.1 298.8" clip-path="url(#cc1)"/>
<path class="b" stroke-width="3" d="M2199.7 136.4C2203.1 137.8 2212.8 141.6 2219.9 145.2C2227 148.7 2236.7 153.1 2242.5 157.8C2248.4 162.4 2252.2 167.4 2255.1 172.9C2258.1 178.3 2258.7 184.8 2260.2 190.5C2261.6 196.2 2264.4 205.6 2263.9 206.9C2263.5 208.1 2261.2 199.5 2257.7 198C2254.1 196.6 2248 196.4 2242.5 198C2237.1 199.7 2230 203.5 2224.9 208.1C2219.9 212.7 2215.1 219.4 2212.3 225.7C2209.6 232 2209 239.6 2208.6 245.9C2208.1 252.2 2207.9 259.7 2209.8 263.5C2211.7 267.3 2217 268.5 2219.9 268.5C2222.8 268.5 2227.4 265.2 2227.4 263.5C2227.4 261.8 2219.5 255.5 2219.9 258.5C2220.3 261.4 2227 273.2 2230 281.1C2232.9 289.1 2236.3 299.6 2237.5 306.3C2238.8 313 2239.2 318.5 2237.5 321.4C2235.8 324.4 2229.1 323.5 2227.4 323.9" clip-path="url(#cc1)"/>
<path class="b" stroke-width="4.2" d="M2227.4 323.9C2230.4 324.4 2239.6 326.9 2245.1 326.5C2250.5 326 2256.4 324.8 2260.2 321.4C2263.9 318.1 2265.2 311.3 2267.7 306.3C2270.2 301.3 2272.3 295.4 2275.3 291.2C2278.2 287 2281.2 283 2285.4 281.1C2289.5 279.2 2297.1 279.5 2300.5 279.9C2303.8 280.3 2306.8 282.6 2305.5 283.7C2304.2 284.7 2297.5 284.9 2292.9 286.2C2288.3 287.4 2280.3 290.4 2277.8 291.2" clip-path="url(#cc1)"/>
<path class="bh" stroke-width="1.8" d="M2227.4 323.9C2230.4 324.4 2239.6 326.9 2245.1 326.5C2250.5 326 2256.4 324.8 2260.2 321.4C2263.9 318.1 2265.2 311.3 2267.7 306.3C2270.2 301.3 2272.3 295.4 2275.3 291.2C2278.2 287 2281.2 283 2285.4 281.1C2289.5 279.2 2297.1 279.5 2300.5 279.9C2303.8 280.3 2306.8 282.6 2305.5 283.7C2304.2 284.7 2297.5 284.9 2292.9 286.2C2288.3 287.4 2280.3 290.4 2277.8 291.2" clip-path="url(#cc1)"/>
<path class="b" stroke-width="6.3" d="M2276.9 291.1C2278.8 293 2284.8 298.7 2288.4 302.6C2291.9 306.4 2296 310.7 2298.2 314C2300.4 317.3 2301.7 318.9 2301.5 322.2C2301.2 325.5 2300.4 329.8 2296.6 333.6C2292.7 337.5 2285.1 341.3 2278.6 345.1C2272 348.9 2263 353 2257.3 356.6C2251.6 360.1 2245.6 362.8 2244.2 366.4C2242.8 369.9 2244.7 374.6 2249.1 377.8C2253.5 381.1 2263.3 383 2270.4 386C2277.5 389 2285.9 392.6 2291.7 395.8C2297.4 399.1 2303.1 402.4 2304.7 405.7C2306.4 408.9 2305.3 411.7 2301.5 415.5C2297.7 419.3 2288.7 424.8 2281.8 428.6C2275 432.4 2266.3 435.4 2260.6 438.4C2254.8 441.4 2249.6 445.2 2247.5 446.6" clip-path="url(#cc1)"/>
<path class="bh" stroke-width="2.6" d="M2276.9 291.1C2278.8 293 2284.8 298.7 2288.4 302.6C2291.9 306.4 2296 310.7 2298.2 314C2300.4 317.3 2301.7 318.9 2301.5 322.2C2301.2 325.5 2300.4 329.8 2296.6 333.6C2292.7 337.5 2285.1 341.3 2278.6 345.1C2272 348.9 2263 353 2257.3 356.6C2251.6 360.1 2245.6 362.8 2244.2 366.4C2242.8 369.9 2244.7 374.6 2249.1 377.8C2253.5 381.1 2263.3 383 2270.4 386C2277.5 389 2285.9 392.6 2291.7 395.8C2297.4 399.1 2303.1 402.4 2304.7 405.7C2306.4 408.9 2305.3 411.7 2301.5 415.5C2297.7 419.3 2288.7 424.8 2281.8 428.6C2275 432.4 2266.3 435.4 2260.6 438.4C2254.8 441.4 2249.6 445.2 2247.5 446.6" clip-path="url(#cc1)"/>
<path class="b" stroke-width="6.3" d="M2416.4 280.5C2413.6 280.6 2404.7 280.9 2400 281.3C2395.3 281.7 2392.9 281.3 2388.2 282.9C2383.5 284.5 2378.1 287.3 2371.8 291.1C2365.6 294.9 2356.6 301.2 2350.6 305.8C2344.6 310.5 2338.8 315.6 2335.8 318.9C2332.8 322.2 2332 323.3 2332.6 325.5C2333.1 327.6 2334.5 329.3 2339.1 332C2343.8 334.7 2353.6 338.3 2360.4 341.8C2367.2 345.4 2374.3 349.5 2380 353.3C2385.8 357.1 2392 361.7 2394.8 364.7C2397.5 367.7 2397.5 368.8 2396.4 371.3C2395.3 373.7 2393.1 376.5 2388.2 379.5C2383.3 382.5 2374.6 386.3 2366.9 389.3C2359.3 392.3 2349.5 395 2342.4 397.5C2335.3 399.9 2327.9 402.4 2324.4 404C2320.8 405.7 2320.3 405.9 2321.1 407.3C2321.9 408.7 2324.9 410 2329.3 412.2C2333.7 414.4 2340.8 417.1 2347.3 420.4C2353.8 423.7 2362.3 427.8 2368.6 431.8C2374.8 435.9 2381.3 440.9 2384.9 444.9C2388.6 449 2389.7 454.5 2390.7 456.4" clip-path="url(#cc1)"/>
<path class="bh" stroke-width="2.6" d="M2416.4 280.5C2413.6 280.6 2404.7 280.9 2400 281.3C2395.3 281.7 2392.9 281.3 2388.2 282.9C2383.5 284.5 2378.1 287.3 2371.8 291.1C2365.6 294.9 2356.6 301.2 2350.6 305.8C2344.6 310.5 2338.8 315.6 2335.8 318.9C2332.8 322.2 2332 323.3 2332.6 325.5C2333.1 327.6 2334.5 329.3 2339.1 332C2343.8 334.7 2353.6 338.3 2360.4 341.8C2367.2 345.4 2374.3 349.5 2380 353.3C2385.8 357.1 2392 361.7 2394.8 364.7C2397.5 367.7 2397.5 368.8 2396.4 371.3C2395.3 373.7 2393.1 376.5 2388.2 379.5C2383.3 382.5 2374.6 386.3 2366.9 389.3C2359.3 392.3 2349.5 395 2342.4 397.5C2335.3 399.9 2327.9 402.4 2324.4 404C2320.8 405.7 2320.3 405.9 2321.1 407.3C2321.9 408.7 2324.9 410 2329.3 412.2C2333.7 414.4 2340.8 417.1 2347.3 420.4C2353.8 423.7 2362.3 427.8 2368.6 431.8C2374.8 435.9 2381.3 440.9 2384.9 444.9C2388.6 449 2389.7 454.5 2390.7 456.4" clip-path="url(#cc1)"/>
<path class="b" stroke-width="3" d="M2470.4 307.6C2466.4 305.7 2455.5 300.2 2446.5 296.2C2437.5 292.3 2421.3 285.7 2416.3 283.7" clip-path="url(#cc1)"/>
<path class="bl" stroke-width="4.6" d="M2131.8 321.4C2133.4 319.7 2138.5 312.6 2141.8 311.3C2145.2 310.1 2151.1 310.5 2151.9 313.9C2152.8 317.2 2149.4 326 2146.9 331.5C2144.4 336.9 2138.1 341.6 2136.8 346.6C2135.5 351.6 2136.4 357.9 2139.3 361.7C2142.3 365.5 2151.9 368 2154.4 369.3" clip-path="url(#cc1)"/>
<path class="bl" stroke-width="4.2" d="M2192.2 331.5C2194.7 329.8 2207.7 319.7 2207.3 321.4C2206.9 323.1 2193 335.3 2189.7 341.6C2186.3 347.9 2185.9 354.1 2187.2 359.2C2188.4 364.2 2192.2 368.8 2197.2 371.8C2202.3 374.7 2210.7 376 2217.4 376.8C2224.1 377.6 2235.4 377.6 2237.5 376.8C2239.6 376 2235 372.2 2230 371.8C2224.9 371.4 2211.1 373.9 2207.3 374.3" clip-path="url(#cc1)"/>
<path class="b" stroke-width="6.3" d="M2154.4 371.8C2159 372.2 2173.7 371.8 2182.1 374.3C2190.5 376.8 2198.5 381.8 2204.8 386.9C2211.1 391.9 2217 398.2 2219.9 404.5C2222.8 410.8 2224.1 418.8 2222.4 424.6C2220.7 430.5 2216.5 435.6 2209.8 439.7C2203.1 443.9 2190.5 446.8 2182.1 449.8C2173.7 452.8 2163.2 456.5 2159.5 457.9" clip-path="url(#cc1)"/>
<path class="bh" stroke-width="2.6" d="M2154.4 371.8C2159 372.2 2173.7 371.8 2182.1 374.3C2190.5 376.8 2198.5 381.8 2204.8 386.9C2211.1 391.9 2217 398.2 2219.9 404.5C2222.8 410.8 2224.1 418.8 2222.4 424.6C2220.7 430.5 2216.5 435.6 2209.8 439.7C2203.1 443.9 2190.5 446.8 2182.1 449.8C2173.7 452.8 2163.2 456.5 2159.5 457.9" clip-path="url(#cc1)"/>
<path class="bl" stroke-width="4.6" d="M2184.6 391.9C2184.2 394.8 2180.9 403.2 2182.1 409.5C2183.4 415.8 2187.6 424.6 2192.2 429.7C2196.8 434.7 2203.9 438.1 2209.8 439.7C2215.7 441.4 2225.8 440.6 2227.4 439.7C2229.1 438.9 2221.1 435.6 2219.9 434.7" clip-path="url(#cc1)"/>
<path class="b" stroke-width="3" d="M2096.5 339C2096.1 342.4 2094.8 352.5 2094 359.2C2093.2 365.9 2093.6 373.4 2091.5 379.3C2089.4 385.2 2085.6 390.2 2081.4 394.4C2077.2 398.6 2068.8 402.8 2066.3 404.5" clip-path="url(#cc1)"/>
<path class="bl" stroke-width="4.4" d="M2116.7 432.2C2114.1 431.8 2106.2 428.8 2101.6 429.7C2096.9 430.5 2091.1 434.3 2089 437.2C2086.9 440.2 2086.9 445.2 2089 447.3C2091.1 449.4 2097.4 450.2 2101.6 449.8C2105.8 449.4 2112 445.6 2114.1 444.8" clip-path="url(#cc1)"/>
<path class="b" stroke-width="4.2" d="M2061.3 394.4C2063 396.1 2068.8 399.9 2071.3 404.5C2073.9 409.1 2074.3 416.7 2076.4 422.1C2078.5 427.6 2081 433 2083.9 437.2C2086.9 441.4 2091.9 443.9 2094 447.3C2096.1 450.7 2096.1 456.1 2096.5 457.9" clip-path="url(#cc1)"/>
<path class="bh" stroke-width="1.8" d="M2061.3 394.4C2063 396.1 2068.8 399.9 2071.3 404.5C2073.9 409.1 2074.3 416.7 2076.4 422.1C2078.5 427.6 2081 433 2083.9 437.2C2086.9 441.4 2091.9 443.9 2094 447.3C2096.1 450.7 2096.1 456.1 2096.5 457.9" clip-path="url(#cc1)"/>
<path class="r" stroke-width="5.5" d="M2094 243.4L2104.1 235.8L2121.7 238.3L2131.8 247.1L2121.7 257.2L2105.3 254.7L2094 243.4"/>
<path class="r" stroke-width="4.6" d="M2131.8 247.1L2146.9 254.7L2156.9 249.7L2165.8 247.1L2167 261L2159.5 266L2156.9 250.9"/>
<path class="r" stroke-width="5" d="M2159.5 266L2172.1 278.6L2177.1 293.7L2184.6 306.3L2197.2 313.9L2192.2 321.4L2194.7 334L2207.3 341.6L2207.3 359.2"/>
<path class="r" stroke-width="4.6" d="M2177.1 293.7L2167 291.2"/>
<path class="r" stroke-width="5.5" d="M2104.1 289.9L2110.4 296.2L2115.4 318.9L2111.6 329L2119.2 351.6L2124.2 356.7L2121.7 371.8L2121.7 386.9L2136.8 396.9"/>
<path class="r" stroke-width="4.6" d="M2102.8 291.2L2101.6 303.8L2109.1 321.4"/>
<path class="r" stroke-width="4.6" d="M2124.2 356.7L2141.8 354.1L2154.4 344.1L2172.1 349.1L2172.1 364.2L2159.5 371.8L2141.8 369.3L2139.3 356.7"/>
<path class="r" stroke-width="4.6" d="M2141.8 369.3L2151.9 376.8"/>
<path class="r" stroke-width="4.6" d="M2136.8 396.9L2153.2 386.9L2169.5 395.7L2172.1 413.3L2155.7 422.1L2139.3 413.3L2136.8 396.9"/>
<path class="r" stroke-width="4.6" d="M2169.5 395.7L2189.7 386.9L2204.8 396.9"/>
<path class="r" stroke-width="4.6" d="M2189.7 386.9L2194.7 381.8"/>
<path class="r" stroke-width="4.6" d="M2139.3 413.3L2123 424.6L2128 443.5L2146.9 442.3L2155.7 422.1"/>
<path class="r" stroke-width="4.6" d="M2146.9 437.8L2156.9 450.4L2163.2 459.2L2153.2 468L2154.4 480.6L2131.8 490.6L2119.2 485.6"/>
<path class="r" stroke-width="4.6" d="M2163.2 459.2L2177.1 465.5L2190.9 471.8"/>
<path class="r" stroke-width="4.6" d="M2163.2 459.2L2167 473L2159.5 483.1L2167 499.4"/>
<path class="r" stroke-width="4.6" d="M2159.5 483.1L2154.4 480.6"/>
<path class="r" stroke-width="4.6" d="M2131.8 490.6L2129.3 505.7L2110.4 518.3L2111.6 536"/>
<path class="r" stroke-width="4.6" d="M2131.8 490.6L2121.7 495.7"/>
<path class="b" stroke-width="6.3" d="M2044.9 432.7C2040.9 432.3 2030.4 430.4 2021 430.2C2011.5 430 1997.1 429.8 1988.3 431.5C1979.4 433.1 1972.5 436.7 1968.1 440.3C1963.7 443.8 1961.4 448.3 1961.8 452.9C1962.2 457.5 1965.8 463.4 1970.6 468C1975.5 472.6 1983.2 477 1990.8 480.6C1998.3 484.1 2008.8 487.1 2016 489.4C2023.1 491.7 2030.6 493.6 2033.6 494.4" clip-path="url(#cc2)"/>
<path class="bh" stroke-width="2.6" d="M2044.9 432.7C2040.9 432.3 2030.4 430.4 2021 430.2C2011.5 430 1997.1 429.8 1988.3 431.5C1979.4 433.1 1972.5 436.7 1968.1 440.3C1963.7 443.8 1961.4 448.3 1961.8 452.9C1962.2 457.5 1965.8 463.4 1970.6 468C1975.5 472.6 1983.2 477 1990.8 480.6C1998.3 484.1 2008.8 487.1 2016 489.4C2023.1 491.7 2030.6 493.6 2033.6 494.4" clip-path="url(#cc2)"/>
<path class="b" stroke-width="6.3" d="M2033.6 495.7C2029 495.9 2015.5 496.1 2005.9 496.9C1996.2 497.8 1983.2 498.4 1975.7 500.7C1968.1 503 1963.3 506.6 1960.6 510.8C1957.8 515 1957.6 520.8 1959.3 525.9C1961 530.9 1965 536.8 1970.6 541C1976.3 545.2 1985.3 548.3 1993.3 551.1C2001.3 553.8 2011.8 555.7 2018.5 557.4C2025.2 559 2031.1 560.5 2033.6 561.1" clip-path="url(#cc2)"/>
<path class="bh" stroke-width="2.6" d="M2033.6 495.7C2029 495.9 2015.5 496.1 2005.9 496.9C1996.2 497.8 1983.2 498.4 1975.7 500.7C1968.1 503 1963.3 506.6 1960.6 510.8C1957.8 515 1957.6 520.8 1959.3 525.9C1961 530.9 1965 536.8 1970.6 541C1976.3 545.2 1985.3 548.3 1993.3 551.1C2001.3 553.8 2011.8 555.7 2018.5 557.4C2025.2 559 2031.1 560.5 2033.6 561.1" clip-path="url(#cc2)"/>
<path class="b" stroke-width="6.3" d="M2033.6 562.4C2029 562.6 2015.5 562.6 2005.9 563.7C1996.2 564.7 1983.2 565.7 1975.7 568.7C1968.1 571.6 1963.5 576.7 1960.6 581.3C1957.6 585.9 1956.8 591.3 1958 596.4C1959.3 601.4 1963.5 606.9 1968.1 611.5C1972.7 616.1 1979.9 620.7 1985.7 624.1C1991.6 627.4 1999.4 629.7 2003.4 631.6C2007.4 633.5 2008.6 634.8 2009.7 635.4" clip-path="url(#cc2)"/>
<path class="bh" stroke-width="2.6" d="M2033.6 562.4C2029 562.6 2015.5 562.6 2005.9 563.7C1996.2 564.7 1983.2 565.7 1975.7 568.7C1968.1 571.6 1963.5 576.7 1960.6 581.3C1957.6 585.9 1956.8 591.3 1958 596.4C1959.3 601.4 1963.5 606.9 1968.1 611.5C1972.7 616.1 1979.9 620.7 1985.7 624.1C1991.6 627.4 1999.4 629.7 2003.4 631.6C2007.4 633.5 2008.6 634.8 2009.7 635.4" clip-path="url(#cc2)"/>
<path class="b" stroke-width="6.3" d="M2009.7 636.7C2004.8 636.9 1990.1 637.1 1980.7 637.9C1971.3 638.8 1959.9 639 1953 641.7C1946.1 644.4 1941.5 649.7 1939.2 654.3C1936.9 658.9 1937.3 664.4 1939.2 669.4C1941.1 674.4 1945.3 680.3 1950.5 684.5C1955.7 688.7 1963.9 691.8 1970.6 694.6C1977.4 697.3 1986.4 699.4 1990.8 700.9C1995.2 702.3 1996 703 1997.1 703.4" clip-path="url(#cc2)"/>
<path class="bh" stroke-width="2.6" d="M2009.7 636.7C2004.8 636.9 1990.1 637.1 1980.7 637.9C1971.3 638.8 1959.9 639 1953 641.7C1946.1 644.4 1941.5 649.7 1939.2 654.3C1936.9 658.9 1937.3 664.4 1939.2 669.4C1941.1 674.4 1945.3 680.3 1950.5 684.5C1955.7 688.7 1963.9 691.8 1970.6 694.6C1977.4 697.3 1986.4 699.4 1990.8 700.9C1995.2 702.3 1996 703 1997.1 703.4" clip-path="url(#cc2)"/>
<path class="b" stroke-width="6.3" d="M1997.1 704.6C1992.2 705.1 1978 705.9 1968.1 707.2C1958.3 708.4 1945.5 709.3 1937.9 712.2C1930.4 715.1 1925.7 720.5 1922.8 724.8C1919.9 729.1 1920.7 735.7 1920.3 737.9" clip-path="url(#cc2)"/>
<path class="bh" stroke-width="2.6" d="M1997.1 704.6C1992.2 705.1 1978 705.9 1968.1 707.2C1958.3 708.4 1945.5 709.3 1937.9 712.2C1930.4 715.1 1925.7 720.5 1922.8 724.8C1919.9 729.1 1920.7 735.7 1920.3 737.9" clip-path="url(#cc2)"/>
<path class="b" stroke-width="6.3" d="M2005.9 400C2007.6 402.5 2011.8 410.5 2016 415.1C2020.2 419.7 2026.2 424.8 2031.1 427.7C2035.9 430.6 2042.6 431.9 2044.9 432.7" clip-path="url(#cc2)"/>
<path class="bh" stroke-width="2.6" d="M2005.9 400C2007.6 402.5 2011.8 410.5 2016 415.1C2020.2 419.7 2026.2 424.8 2031.1 427.7C2035.9 430.6 2042.6 431.9 2044.9 432.7" clip-path="url(#cc2)"/>
<path class="b" stroke-width="6.3" d="M2041.1 400C2038.2 402.5 2027.5 410.1 2023.5 415.1C2019.5 420.1 2017.6 425.6 2017.2 430.2C2016.8 434.8 2017.8 439 2021 442.8C2024.1 446.6 2029.4 450.6 2036.1 452.9C2042.8 455.2 2052.9 456.6 2061.3 456.6C2069.7 456.6 2079.9 453.9 2086.5 452.9C2093 451.8 2098 450.8 2100.3 450.4" clip-path="url(#cc2)"/>
<path class="bh" stroke-width="2.6" d="M2041.1 400C2038.2 402.5 2027.5 410.1 2023.5 415.1C2019.5 420.1 2017.6 425.6 2017.2 430.2C2016.8 434.8 2017.8 439 2021 442.8C2024.1 446.6 2029.4 450.6 2036.1 452.9C2042.8 455.2 2052.9 456.6 2061.3 456.6C2069.7 456.6 2079.9 453.9 2086.5 452.9C2093 451.8 2098 450.8 2100.3 450.4" clip-path="url(#cc2)"/>
<path class="b" stroke-width="6.3" d="M2100.3 451.6C2097.2 453.9 2088.3 460.2 2081.4 465.5C2074.5 470.7 2064.4 477.2 2058.8 483.1C2053.1 489 2049.1 495.3 2047.4 500.7C2045.7 506.2 2046.4 510.8 2048.7 515.8C2051 520.8 2055.8 526.7 2061.3 530.9C2066.7 535.1 2073.9 538.1 2081.4 541C2089 543.9 2099.5 546 2106.6 548.5C2113.7 551.1 2120.4 553.6 2124.2 556.1C2128 558.6 2128.4 562.4 2129.3 563.7" clip-path="url(#cc2)"/>
<path class="bh" stroke-width="2.6" d="M2100.3 451.6C2097.2 453.9 2088.3 460.2 2081.4 465.5C2074.5 470.7 2064.4 477.2 2058.8 483.1C2053.1 489 2049.1 495.3 2047.4 500.7C2045.7 506.2 2046.4 510.8 2048.7 515.8C2051 520.8 2055.8 526.7 2061.3 530.9C2066.7 535.1 2073.9 538.1 2081.4 541C2089 543.9 2099.5 546 2106.6 548.5C2113.7 551.1 2120.4 553.6 2124.2 556.1C2128 558.6 2128.4 562.4 2129.3 563.7" clip-path="url(#cc2)"/>
<path class="b" stroke-width="6.3" d="M2129.3 564.9C2125.5 566.4 2115.4 570.6 2106.6 573.7C2097.8 576.9 2084.8 580.9 2076.4 583.8C2068 586.7 2060.4 588.8 2056.2 591.3C2052 593.9 2051.2 595.1 2051.2 598.9C2051.2 602.7 2052 609.4 2056.2 614C2060.4 618.6 2068.8 623.2 2076.4 626.6C2083.9 630 2092.3 632.3 2101.6 634.1C2110.8 636 2123 637.9 2131.8 637.9C2140.6 637.9 2150.7 634.8 2154.4 634.1" clip-path="url(#cc2)"/>
<path class="bh" stroke-width="2.6" d="M2129.3 564.9C2125.5 566.4 2115.4 570.6 2106.6 573.7C2097.8 576.9 2084.8 580.9 2076.4 583.8C2068 586.7 2060.4 588.8 2056.2 591.3C2052 593.9 2051.2 595.1 2051.2 598.9C2051.2 602.7 2052 609.4 2056.2 614C2060.4 618.6 2068.8 623.2 2076.4 626.6C2083.9 630 2092.3 632.3 2101.6 634.1C2110.8 636 2123 637.9 2131.8 637.9C2140.6 637.9 2150.7 634.8 2154.4 634.1" clip-path="url(#cc2)"/>
<path class="b" stroke-width="4" d="M2076.4 400C2076.8 403.4 2077.6 414.3 2078.9 420.1C2080.2 426 2081 430.6 2083.9 435.2C2086.9 439.9 2094.4 445.7 2096.5 447.8" clip-path="url(#cc2)"/>
<path class="bh" stroke-width="1.7" d="M2076.4 400C2076.8 403.4 2077.6 414.3 2078.9 420.1C2080.2 426 2081 430.6 2083.9 435.2C2086.9 439.9 2094.4 445.7 2096.5 447.8" clip-path="url(#cc2)"/>
<path class="b" stroke-width="3" d="M2083.9 440.3C2083.1 442.8 2079.3 450.4 2078.9 455.4C2078.5 460.4 2078.5 465.9 2081.4 470.5C2084.4 475.1 2090.6 479.7 2096.5 483.1C2102.4 486.4 2113.3 489.4 2116.7 490.6" clip-path="url(#cc2)"/>
<path class="b" stroke-width="6.3" d="M2071.3 525.9C2074.3 524.6 2083.1 520.8 2089 518.3C2094.8 515.8 2101.1 513.7 2106.6 510.8C2112 507.8 2119.2 502.4 2121.7 500.7" clip-path="url(#cc2)"/>
<path class="bh" stroke-width="2.6" d="M2071.3 525.9C2074.3 524.6 2083.1 520.8 2089 518.3C2094.8 515.8 2101.1 513.7 2106.6 510.8C2112 507.8 2119.2 502.4 2121.7 500.7" clip-path="url(#cc2)"/>
<path class="b" stroke-width="6.3" d="M2068.8 530.9C2069.2 532.2 2067.1 536 2071.3 538.5C2075.5 541 2086.9 543.9 2094 546C2101.1 548.1 2108.7 548.5 2114.1 551.1C2119.6 553.6 2124.6 559.5 2126.7 561.1" clip-path="url(#cc2)"/>
<path class="bh" stroke-width="2.6" d="M2068.8 530.9C2069.2 532.2 2067.1 536 2071.3 538.5C2075.5 541 2086.9 543.9 2094 546C2101.1 548.1 2108.7 548.5 2114.1 551.1C2119.6 553.6 2124.6 559.5 2126.7 561.1" clip-path="url(#cc2)"/>
<path class="b" stroke-width="6.3" d="M2129.3 566.2C2133.9 565.5 2149 562.8 2156.9 562.4C2164.9 562 2171.8 562.8 2177.1 563.7C2182.3 564.5 2186.5 566.8 2188.4 567.4" clip-path="url(#cc2)"/>
<path class="bh" stroke-width="2.6" d="M2129.3 566.2C2133.9 565.5 2149 562.8 2156.9 562.4C2164.9 562 2171.8 562.8 2177.1 563.7C2182.3 564.5 2186.5 566.8 2188.4 567.4" clip-path="url(#cc2)"/>
<path class="b" stroke-width="6.3" d="M2116.7 576.2C2113.3 577.9 2102.8 583.4 2096.5 586.3C2090.2 589.2 2082.7 590.9 2078.9 593.9C2075.1 596.8 2073.4 599.7 2073.9 603.9C2074.3 608.1 2077.6 614 2081.4 619C2085.2 624.1 2091.1 629.1 2096.5 634.1C2102 639.2 2109.5 644.6 2114.1 649.3C2118.8 653.9 2123.4 658.5 2124.2 661.8C2125.1 665.2 2120 668.1 2119.2 669.4" clip-path="url(#cc2)"/>
<path class="bh" stroke-width="2.6" d="M2116.7 576.2C2113.3 577.9 2102.8 583.4 2096.5 586.3C2090.2 589.2 2082.7 590.9 2078.9 593.9C2075.1 596.8 2073.4 599.7 2073.9 603.9C2074.3 608.1 2077.6 614 2081.4 619C2085.2 624.1 2091.1 629.1 2096.5 634.1C2102 639.2 2109.5 644.6 2114.1 649.3C2118.8 653.9 2123.4 658.5 2124.2 661.8C2125.1 665.2 2120 668.1 2119.2 669.4" clip-path="url(#cc2)"/>
<path class="b" stroke-width="6.3" d="M2116.7 576.2C2117.5 579.6 2118.8 590.1 2121.7 596.4C2124.6 602.7 2130.1 609 2134.3 614C2138.5 619 2143.5 623.2 2146.9 626.6C2150.2 630 2153.2 632.9 2154.4 634.1" clip-path="url(#cc2)"/>
<path class="bh" stroke-width="2.6" d="M2116.7 576.2C2117.5 579.6 2118.8 590.1 2121.7 596.4C2124.6 602.7 2130.1 609 2134.3 614C2138.5 619 2143.5 623.2 2146.9 626.6C2150.2 630 2153.2 632.9 2154.4 634.1" clip-path="url(#cc2)"/>
<path class="b" stroke-width="6.3" d="M2131.8 637.9C2129.3 639.8 2123 645.7 2116.7 649.3C2110.4 652.8 2101.6 656.4 2094 659.3C2086.5 662.3 2078.9 663.9 2071.3 666.9C2063.8 669.8 2053.7 673.6 2048.7 676.9C2043.7 680.3 2041.1 683.2 2041.1 687C2041.1 690.8 2044.5 695.4 2048.7 699.6C2052.9 703.8 2059.6 708 2066.3 712.2C2073 716.4 2082.7 721 2089 724.8C2095.3 728.6 2101.6 733.2 2104.1 734.9" clip-path="url(#cc2)"/>
<path class="bh" stroke-width="2.6" d="M2131.8 637.9C2129.3 639.8 2123 645.7 2116.7 649.3C2110.4 652.8 2101.6 656.4 2094 659.3C2086.5 662.3 2078.9 663.9 2071.3 666.9C2063.8 669.8 2053.7 673.6 2048.7 676.9C2043.7 680.3 2041.1 683.2 2041.1 687C2041.1 690.8 2044.5 695.4 2048.7 699.6C2052.9 703.8 2059.6 708 2066.3 712.2C2073 716.4 2082.7 721 2089 724.8C2095.3 728.6 2101.6 733.2 2104.1 734.9" clip-path="url(#cc2)"/>
<path class="b" stroke-width="6.3" d="M2081.4 643C2082.3 645.3 2083.1 652.4 2086.5 656.8C2089.8 661.2 2096.5 665.2 2101.6 669.4C2106.6 673.6 2112.9 677.8 2116.7 682C2120.4 686.2 2123.4 691.2 2124.2 694.6C2125.1 697.9 2125.5 700.9 2121.7 702.1C2117.9 703.4 2109.1 702.5 2101.6 702.1C2094 701.7 2083.9 699.6 2076.4 699.6C2068.8 699.6 2060 699.6 2056.2 702.1C2052.5 704.6 2052.9 710.5 2053.7 714.7C2054.6 718.9 2058.3 723.4 2061.3 727.3C2064.2 731.2 2069.7 736.1 2071.3 737.9" clip-path="url(#cc2)"/>
<path class="bh" stroke-width="2.6" d="M2081.4 643C2082.3 645.3 2083.1 652.4 2086.5 656.8C2089.8 661.2 2096.5 665.2 2101.6 669.4C2106.6 673.6 2112.9 677.8 2116.7 682C2120.4 686.2 2123.4 691.2 2124.2 694.6C2125.1 697.9 2125.5 700.9 2121.7 702.1C2117.9 703.4 2109.1 702.5 2101.6 702.1C2094 701.7 2083.9 699.6 2076.4 699.6C2068.8 699.6 2060 699.6 2056.2 702.1C2052.5 704.6 2052.9 710.5 2053.7 714.7C2054.6 718.9 2058.3 723.4 2061.3 727.3C2064.2 731.2 2069.7 736.1 2071.3 737.9" clip-path="url(#cc2)"/>
<path class="b" stroke-width="6.3" d="M2076.4 669.4C2077.2 671.1 2078.1 676.1 2081.4 679.5C2084.8 682.8 2090.6 686.6 2096.5 689.5C2102.4 692.5 2113.3 695.8 2116.7 697.1" clip-path="url(#cc2)"/>
<path class="bh" stroke-width="2.6" d="M2076.4 669.4C2077.2 671.1 2078.1 676.1 2081.4 679.5C2084.8 682.8 2090.6 686.6 2096.5 689.5C2102.4 692.5 2113.3 695.8 2116.7 697.1" clip-path="url(#cc2)"/>
<path class="b" stroke-width="6.3" d="M2124.2 697.1C2125.5 699.2 2132.2 705.5 2131.8 709.7C2131.4 713.9 2127.2 718.9 2121.7 722.3C2116.2 725.6 2106.2 727.7 2099 729.8C2091.9 731.9 2082.3 734 2078.9 734.9" clip-path="url(#cc2)"/>
<path class="bh" stroke-width="2.6" d="M2124.2 697.1C2125.5 699.2 2132.2 705.5 2131.8 709.7C2131.4 713.9 2127.2 718.9 2121.7 722.3C2116.2 725.6 2106.2 727.7 2099 729.8C2091.9 731.9 2082.3 734 2078.9 734.9" clip-path="url(#cc2)"/>
<path class="bl" stroke-width="4.4" d="M2119.2 425.2C2117.1 424.8 2111.2 422.2 2106.6 422.7C2102 423.1 2095.3 425.2 2091.5 427.7C2087.7 430.2 2084.4 435.2 2083.9 437.8C2083.5 440.3 2085.6 442.4 2089 442.8C2092.3 443.2 2099 441.8 2104.1 440.3C2109.1 438.8 2116.7 435 2119.2 434" clip-path="url(#cc2)"/>
<path class="b" stroke-width="4.6" d="M2182.1 400C2182.5 402.5 2182.1 410.1 2184.6 415.1C2187.2 420.1 2192.2 426.4 2197.2 430.2C2202.3 434 2209.4 436.5 2214.9 437.8C2220.3 439 2227.4 437.8 2230 437.8" clip-path="url(#cc2)"/>
<path class="bh" stroke-width="1.9" d="M2182.1 400C2182.5 402.5 2182.1 410.1 2184.6 415.1C2187.2 420.1 2192.2 426.4 2197.2 430.2C2202.3 434 2209.4 436.5 2214.9 437.8C2220.3 439 2227.4 437.8 2230 437.8" clip-path="url(#cc2)"/>
<path class="b" stroke-width="6.3" d="M2217.4 400C2217.8 402.5 2221.6 410.1 2219.9 415.1C2218.2 420.1 2213.6 425.6 2207.3 430.2C2201 434.8 2190.3 439 2182.1 442.8C2173.9 446.6 2162.2 451.2 2158.2 452.9" clip-path="url(#cc2)"/>
<path class="bh" stroke-width="2.6" d="M2217.4 400C2217.8 402.5 2221.6 410.1 2219.9 415.1C2218.2 420.1 2213.6 425.6 2207.3 430.2C2201 434.8 2190.3 439 2182.1 442.8C2173.9 446.6 2162.2 451.2 2158.2 452.9" clip-path="url(#cc2)"/>
<path class="b" stroke-width="6.3" d="M2158.2 454.1C2162.2 454.6 2173.9 454.8 2182.1 456.6C2190.3 458.5 2200.2 461.9 2207.3 465.5C2214.4 469 2221.1 473.9 2224.9 478C2228.7 482.2 2230.8 486 2230 490.6C2229.1 495.3 2225.8 501.1 2219.9 505.7C2214 510.4 2202.7 515 2194.7 518.3C2186.7 521.7 2177.3 524.2 2172.1 525.9C2166.8 527.6 2164.7 528 2163.2 528.4" clip-path="url(#cc2)"/>
<path class="bh" stroke-width="2.6" d="M2158.2 454.1C2162.2 454.6 2173.9 454.8 2182.1 456.6C2190.3 458.5 2200.2 461.9 2207.3 465.5C2214.4 469 2221.1 473.9 2224.9 478C2228.7 482.2 2230.8 486 2230 490.6C2229.1 495.3 2225.8 501.1 2219.9 505.7C2214 510.4 2202.7 515 2194.7 518.3C2186.7 521.7 2177.3 524.2 2172.1 525.9C2166.8 527.6 2164.7 528 2163.2 528.4" clip-path="url(#cc2)"/>
<path class="b" stroke-width="6.3" d="M2163.2 530.9C2167.2 531.8 2179 533 2187.2 536C2195.3 538.9 2205.6 543.9 2212.3 548.5C2219.1 553.2 2224.5 558.6 2227.4 563.7C2230.4 568.7 2231.6 573.7 2230 578.8C2228.3 583.8 2222.8 589.2 2217.4 593.9C2211.9 598.5 2202.7 603.1 2197.2 606.5C2191.8 609.8 2187.2 611.9 2184.6 614C2182.1 616.1 2182.5 618.2 2182.1 619" clip-path="url(#cc2)"/>
<path class="bh" stroke-width="2.6" d="M2163.2 530.9C2167.2 531.8 2179 533 2187.2 536C2195.3 538.9 2205.6 543.9 2212.3 548.5C2219.1 553.2 2224.5 558.6 2227.4 563.7C2230.4 568.7 2231.6 573.7 2230 578.8C2228.3 583.8 2222.8 589.2 2217.4 593.9C2211.9 598.5 2202.7 603.1 2197.2 606.5C2191.8 609.8 2187.2 611.9 2184.6 614C2182.1 616.1 2182.5 618.2 2182.1 619" clip-path="url(#cc2)"/>
<path class="b" stroke-width="6.3" d="M2207.3 503.2C2203.9 502.6 2194.7 499.9 2187.2 499.4C2179.6 499 2168.7 499.7 2162 500.7C2155.3 501.8 2150.2 502.8 2146.9 505.7C2143.5 508.7 2141.4 513.3 2141.8 518.3C2142.3 523.4 2145.6 530.5 2149.4 536C2153.2 541.4 2159 546.4 2164.5 551.1C2170 555.7 2178.1 560.7 2182.1 563.7C2186.1 566.6 2187.4 567.8 2188.4 568.7" clip-path="url(#cc2)"/>
<path class="bh" stroke-width="2.6" d="M2207.3 503.2C2203.9 502.6 2194.7 499.9 2187.2 499.4C2179.6 499 2168.7 499.7 2162 500.7C2155.3 501.8 2150.2 502.8 2146.9 505.7C2143.5 508.7 2141.4 513.3 2141.8 518.3C2142.3 523.4 2145.6 530.5 2149.4 536C2153.2 541.4 2159 546.4 2164.5 551.1C2170 555.7 2178.1 560.7 2182.1 563.7C2186.1 566.6 2187.4 567.8 2188.4 568.7" clip-path="url(#cc2)"/>
<path class="bl" stroke-width="4.4" d="M2169.5 473C2170.4 475.1 2171.6 481.4 2174.6 485.6C2177.5 489.8 2181.7 495.3 2187.2 498.2C2192.6 501.1 2203.9 502.4 2207.3 503.2" clip-path="url(#cc2)"/>
<path class="b" stroke-width="6.3" d="M2182.1 619C2184.6 619.9 2189.7 621.6 2197.2 624.1C2204.8 626.6 2219.5 631.2 2227.4 634.1C2235.4 637.1 2240.9 638.3 2245.1 641.7C2249.3 645.1 2252.2 650.1 2252.6 654.3C2253 658.5 2251.4 663.1 2247.6 666.9C2243.8 670.7 2237.1 674 2230 676.9C2222.8 679.9 2212.8 682.4 2204.8 684.5C2196.8 686.6 2187.4 687.4 2182.1 689.5C2176.9 691.6 2174.8 695.8 2173.3 697.1" clip-path="url(#cc2)"/>
<path class="bh" stroke-width="2.6" d="M2182.1 619C2184.6 619.9 2189.7 621.6 2197.2 624.1C2204.8 626.6 2219.5 631.2 2227.4 634.1C2235.4 637.1 2240.9 638.3 2245.1 641.7C2249.3 645.1 2252.2 650.1 2252.6 654.3C2253 658.5 2251.4 663.1 2247.6 666.9C2243.8 670.7 2237.1 674 2230 676.9C2222.8 679.9 2212.8 682.4 2204.8 684.5C2196.8 686.6 2187.4 687.4 2182.1 689.5C2176.9 691.6 2174.8 695.8 2173.3 697.1" clip-path="url(#cc2)"/>
<path class="b" stroke-width="6.3" d="M2173.3 699.6C2174.8 701.7 2178.1 708 2182.1 712.2C2186.1 716.4 2192.2 721 2197.2 724.8C2202.3 728.6 2208.6 732.7 2212.3 734.9C2216.1 737 2218.6 737.4 2219.9 737.9" clip-path="url(#cc2)"/>
<path class="bh" stroke-width="2.6" d="M2173.3 699.6C2174.8 701.7 2178.1 708 2182.1 712.2C2186.1 716.4 2192.2 721 2197.2 724.8C2202.3 728.6 2208.6 732.7 2212.3 734.9C2216.1 737 2218.6 737.4 2219.9 737.9" clip-path="url(#cc2)"/>
<path class="b" stroke-width="6.3" d="M2242.5 679.5C2243.8 682 2249.3 690.4 2250.1 694.6C2250.9 698.8 2250.9 702.1 2247.6 704.6C2244.2 707.2 2237.1 709.3 2230 709.7C2222.8 710.1 2212.8 708 2204.8 707.2C2196.8 706.3 2185.9 705.1 2182.1 704.6" clip-path="url(#cc2)"/>
<path class="bh" stroke-width="2.6" d="M2242.5 679.5C2243.8 682 2249.3 690.4 2250.1 694.6C2250.9 698.8 2250.9 702.1 2247.6 704.6C2244.2 707.2 2237.1 709.3 2230 709.7C2222.8 710.1 2212.8 708 2204.8 707.2C2196.8 706.3 2185.9 705.1 2182.1 704.6" clip-path="url(#cc2)"/>
<path class="b" stroke-width="6.3" d="M2177.1 702.1C2177.5 704.6 2177.5 712.2 2179.6 717.2C2181.7 722.3 2188 729.8 2189.7 732.3" clip-path="url(#cc2)"/>
<path class="bh" stroke-width="2.6" d="M2177.1 702.1C2177.5 704.6 2177.5 712.2 2179.6 717.2C2181.7 722.3 2188 729.8 2189.7 732.3" clip-path="url(#cc2)"/>
<path class="b" stroke-width="6.3" d="M2305.5 400C2305.1 402.1 2305.9 408.4 2303 412.6C2300 416.8 2294.2 421 2287.9 425.2C2281.6 429.4 2271.7 434.2 2265.2 437.8C2258.7 441.3 2251.6 445.1 2248.8 446.6" clip-path="url(#cc2)"/>
<path class="bh" stroke-width="2.6" d="M2305.5 400C2305.1 402.1 2305.9 408.4 2303 412.6C2300 416.8 2294.2 421 2287.9 425.2C2281.6 429.4 2271.7 434.2 2265.2 437.8C2258.7 441.3 2251.6 445.1 2248.8 446.6" clip-path="url(#cc2)"/>
<path class="b" stroke-width="6.3" d="M2248.8 449.1C2252 450.6 2260.4 454.8 2267.7 457.9C2275.1 461.1 2285.8 464.6 2292.9 468C2300 471.3 2306.5 475.1 2310.5 478C2314.5 481 2317.2 482.7 2316.8 485.6C2316.4 488.5 2313.3 492.3 2308 495.7C2302.8 499 2292.5 502.8 2285.4 505.7C2278.2 508.7 2270.2 511.2 2265.2 513.3C2260.2 515.4 2256.8 517.5 2255.1 518.3" clip-path="url(#cc2)"/>
<path class="bh" stroke-width="2.6" d="M2248.8 449.1C2252 450.6 2260.4 454.8 2267.7 457.9C2275.1 461.1 2285.8 464.6 2292.9 468C2300 471.3 2306.5 475.1 2310.5 478C2314.5 481 2317.2 482.7 2316.8 485.6C2316.4 488.5 2313.3 492.3 2308 495.7C2302.8 499 2292.5 502.8 2285.4 505.7C2278.2 508.7 2270.2 511.2 2265.2 513.3C2260.2 515.4 2256.8 517.5 2255.1 518.3" clip-path="url(#cc2)"/>
<path class="b" stroke-width="6.3" d="M2255.1 520.8C2258.1 522.1 2266 525 2272.8 528.4C2279.5 531.8 2289.1 536.8 2295.4 541C2301.7 545.2 2306.8 549.4 2310.5 553.6C2314.3 557.8 2316 562.4 2318.1 566.2C2320.2 569.9 2324.8 573.9 2323.1 576.2C2321.4 578.5 2314.7 579.6 2308 580C2301.3 580.4 2290.8 579 2282.8 578.8C2274.9 578.5 2265.4 577.9 2260.2 578.8C2254.9 579.6 2252.8 583 2251.4 583.8" clip-path="url(#cc2)"/>
<path class="bh" stroke-width="2.6" d="M2255.1 520.8C2258.1 522.1 2266 525 2272.8 528.4C2279.5 531.8 2289.1 536.8 2295.4 541C2301.7 545.2 2306.8 549.4 2310.5 553.6C2314.3 557.8 2316 562.4 2318.1 566.2C2320.2 569.9 2324.8 573.9 2323.1 576.2C2321.4 578.5 2314.7 579.6 2308 580C2301.3 580.4 2290.8 579 2282.8 578.8C2274.9 578.5 2265.4 577.9 2260.2 578.8C2254.9 579.6 2252.8 583 2251.4 583.8" clip-path="url(#cc2)"/>
<path class="b" stroke-width="6.3" d="M2251.4 585.1C2252.4 587.4 2254.5 593.7 2257.7 598.9C2260.8 604.1 2266.5 611.1 2270.2 616.5C2274 622 2278 627.4 2280.3 631.6C2282.6 635.8 2284.9 639.4 2284.1 641.7C2283.3 644 2278.8 645.1 2275.3 645.5C2271.7 645.9 2264.8 644.4 2262.7 644.2" clip-path="url(#cc2)"/>
<path class="bh" stroke-width="2.6" d="M2251.4 585.1C2252.4 587.4 2254.5 593.7 2257.7 598.9C2260.8 604.1 2266.5 611.1 2270.2 616.5C2274 622 2278 627.4 2280.3 631.6C2282.6 635.8 2284.9 639.4 2284.1 641.7C2283.3 644 2278.8 645.1 2275.3 645.5C2271.7 645.9 2264.8 644.4 2262.7 644.2" clip-path="url(#cc2)"/>
<path class="b" stroke-width="6.3" d="M2358.4 400C2355 400.8 2344.1 403.4 2338.2 405C2332.3 406.7 2324 408 2323.1 410.1C2322.3 412.2 2327.3 414.7 2333.2 417.6C2339.1 420.6 2350.4 423.9 2358.4 427.7C2366.3 431.5 2375.8 436.1 2381 440.3C2386.3 444.5 2389.4 448.7 2389.8 452.9C2390.3 457.1 2387.9 461.7 2383.5 465.5C2379.1 469.2 2371.8 472.6 2363.4 475.5C2355 478.5 2341.2 481.2 2333.2 483.1C2325.2 485 2318.5 486.2 2315.6 486.9" clip-path="url(#cc2)"/>
<path class="bh" stroke-width="2.6" d="M2358.4 400C2355 400.8 2344.1 403.4 2338.2 405C2332.3 406.7 2324 408 2323.1 410.1C2322.3 412.2 2327.3 414.7 2333.2 417.6C2339.1 420.6 2350.4 423.9 2358.4 427.7C2366.3 431.5 2375.8 436.1 2381 440.3C2386.3 444.5 2389.4 448.7 2389.8 452.9C2390.3 457.1 2387.9 461.7 2383.5 465.5C2379.1 469.2 2371.8 472.6 2363.4 475.5C2355 478.5 2341.2 481.2 2333.2 483.1C2325.2 485 2318.5 486.2 2315.6 486.9" clip-path="url(#cc2)"/>
<path class="b" stroke-width="6.3" d="M2315.6 489.4C2319.3 490.4 2331.1 492.9 2338.2 495.7C2345.4 498.4 2352.5 502 2358.4 505.7C2364.2 509.5 2369.9 514.1 2373.5 518.3C2377 522.5 2379.8 526.7 2379.8 530.9C2379.8 535.1 2377.9 539.7 2373.5 543.5C2369.1 547.3 2360.9 550.6 2353.3 553.6C2345.8 556.5 2334.7 559 2328.2 561.1C2321.6 563.2 2316.6 565.3 2314.3 566.2" clip-path="url(#cc2)"/>
<path class="bh" stroke-width="2.6" d="M2315.6 489.4C2319.3 490.4 2331.1 492.9 2338.2 495.7C2345.4 498.4 2352.5 502 2358.4 505.7C2364.2 509.5 2369.9 514.1 2373.5 518.3C2377 522.5 2379.8 526.7 2379.8 530.9C2379.8 535.1 2377.9 539.7 2373.5 543.5C2369.1 547.3 2360.9 550.6 2353.3 553.6C2345.8 556.5 2334.7 559 2328.2 561.1C2321.6 563.2 2316.6 565.3 2314.3 566.2" clip-path="url(#cc2)"/>
<path class="b" stroke-width="6.3" d="M2314.3 568.7C2317.5 569.5 2326.7 570.8 2333.2 573.7C2339.7 576.7 2347.5 581.7 2353.3 586.3C2359.2 590.9 2365.1 596.8 2368.4 601.4C2371.8 606 2373.9 609.8 2373.5 614C2373.1 618.2 2370.5 623.2 2365.9 626.6C2361.3 630 2353.3 632.5 2345.8 634.1C2338.2 635.8 2328.2 636.5 2320.6 636.7C2313 636.9 2303.8 635.6 2300.5 635.4" clip-path="url(#cc2)"/>
<path class="bh" stroke-width="2.6" d="M2314.3 568.7C2317.5 569.5 2326.7 570.8 2333.2 573.7C2339.7 576.7 2347.5 581.7 2353.3 586.3C2359.2 590.9 2365.1 596.8 2368.4 601.4C2371.8 606 2373.9 609.8 2373.5 614C2373.1 618.2 2370.5 623.2 2365.9 626.6C2361.3 630 2353.3 632.5 2345.8 634.1C2338.2 635.8 2328.2 636.5 2320.6 636.7C2313 636.9 2303.8 635.6 2300.5 635.4" clip-path="url(#cc2)"/>
<path class="b" stroke-width="6.3" d="M2300.5 637.9C2304.2 639.4 2315.6 643.2 2323.1 646.7C2330.7 650.3 2339.9 655.1 2345.8 659.3C2351.6 663.5 2355.6 667.3 2358.4 671.9C2361.1 676.5 2363 682.4 2362.1 687C2361.3 691.6 2358.6 695.8 2353.3 699.6C2348.1 703.4 2339.1 707.2 2330.7 709.7C2322.3 712.2 2309.7 713.7 2303 714.7C2296.3 715.8 2292.5 715.8 2290.4 716" clip-path="url(#cc2)"/>
<path class="bh" stroke-width="2.6" d="M2300.5 637.9C2304.2 639.4 2315.6 643.2 2323.1 646.7C2330.7 650.3 2339.9 655.1 2345.8 659.3C2351.6 663.5 2355.6 667.3 2358.4 671.9C2361.1 676.5 2363 682.4 2362.1 687C2361.3 691.6 2358.6 695.8 2353.3 699.6C2348.1 703.4 2339.1 707.2 2330.7 709.7C2322.3 712.2 2309.7 713.7 2303 714.7C2296.3 715.8 2292.5 715.8 2290.4 716" clip-path="url(#cc2)"/>
<path class="b" stroke-width="6.3" d="M2290.4 718.5C2293.3 719.1 2301.7 720.4 2308 722.3C2314.3 724.2 2322.7 727.2 2328.2 729.8C2333.6 732.4 2338.6 736.5 2340.7 737.9" clip-path="url(#cc2)"/>
<path class="bh" stroke-width="2.6" d="M2290.4 718.5C2293.3 719.1 2301.7 720.4 2308 722.3C2314.3 724.2 2322.7 727.2 2328.2 729.8C2333.6 732.4 2338.6 736.5 2340.7 737.9" clip-path="url(#cc2)"/>
<path class="b" stroke-width="6.3" d="M1955.7 680C1958.2 681.7 1965.3 687.1 1970.8 690.1C1976.2 693 1984.2 695.5 1988.4 697.6C1992.6 699.7 1994.7 701.8 1996 702.7" clip-path="url(#cc3)"/>
<path class="bh" stroke-width="2.6" d="M1955.7 680C1958.2 681.7 1965.3 687.1 1970.8 690.1C1976.2 693 1984.2 695.5 1988.4 697.6C1992.6 699.7 1994.7 701.8 1996 702.7" clip-path="url(#cc3)"/>
<path class="b" stroke-width="6.3" d="M1996 703.9C1991.3 703.5 1977.9 700.8 1968.3 701.4C1958.6 702 1945.6 704.5 1938 707.7C1930.5 710.8 1925.7 715.7 1922.9 720.3C1920.2 724.9 1920 730.4 1921.7 735.4C1923.4 740.4 1927.8 745.9 1933 750.5C1938.3 755.1 1946.9 759.5 1953.2 763.1C1959.4 766.7 1966.8 769.8 1970.8 771.9C1974.8 774 1976 775 1977.1 775.7" clip-path="url(#cc3)"/>
<path class="bh" stroke-width="2.6" d="M1996 703.9C1991.3 703.5 1977.9 700.8 1968.3 701.4C1958.6 702 1945.6 704.5 1938 707.7C1930.5 710.8 1925.7 715.7 1922.9 720.3C1920.2 724.9 1920 730.4 1921.7 735.4C1923.4 740.4 1927.8 745.9 1933 750.5C1938.3 755.1 1946.9 759.5 1953.2 763.1C1959.4 766.7 1966.8 769.8 1970.8 771.9C1974.8 774 1976 775 1977.1 775.7" clip-path="url(#cc3)"/>
<path class="b" stroke-width="6.3" d="M1977.1 776.9C1972.2 776.7 1958.4 774.6 1948.1 775.7C1937.8 776.7 1923.4 779.9 1915.4 783.2C1907.4 786.6 1902.8 791.2 1900.3 795.8C1897.8 800.4 1898.2 805.9 1900.3 810.9C1902.4 816 1907.4 821 1912.9 826C1918.3 831.1 1927.1 837.1 1933 841.1C1938.9 845.1 1944.6 847.8 1948.1 849.9C1951.7 852 1953.4 853.1 1954.4 853.7" clip-path="url(#cc3)"/>
<path class="bh" stroke-width="2.6" d="M1977.1 776.9C1972.2 776.7 1958.4 774.6 1948.1 775.7C1937.8 776.7 1923.4 779.9 1915.4 783.2C1907.4 786.6 1902.8 791.2 1900.3 795.8C1897.8 800.4 1898.2 805.9 1900.3 810.9C1902.4 816 1907.4 821 1912.9 826C1918.3 831.1 1927.1 837.1 1933 841.1C1938.9 845.1 1944.6 847.8 1948.1 849.9C1951.7 852 1953.4 853.1 1954.4 853.7" clip-path="url(#cc3)"/>
<path class="b" stroke-width="6.3" d="M1954.4 855C1949.6 854.8 1935.3 852.9 1925.5 853.7C1915.6 854.6 1903 856.7 1895.2 860C1887.5 863.4 1881.8 869 1878.9 873.9C1875.9 878.7 1876.2 883.9 1877.6 889C1879.1 894 1882.7 899.5 1887.7 904.1C1892.7 908.7 1901.1 912.9 1907.8 916.7C1914.6 920.4 1922.3 924.2 1928 926.7C1933.6 929.3 1939.5 930.9 1941.8 931.8" clip-path="url(#cc3)"/>
<path class="bh" stroke-width="2.6" d="M1954.4 855C1949.6 854.8 1935.3 852.9 1925.5 853.7C1915.6 854.6 1903 856.7 1895.2 860C1887.5 863.4 1881.8 869 1878.9 873.9C1875.9 878.7 1876.2 883.9 1877.6 889C1879.1 894 1882.7 899.5 1887.7 904.1C1892.7 908.7 1901.1 912.9 1907.8 916.7C1914.6 920.4 1922.3 924.2 1928 926.7C1933.6 929.3 1939.5 930.9 1941.8 931.8" clip-path="url(#cc3)"/>
<path class="b" stroke-width="6.3" d="M2041.3 680C2044.2 682.1 2052.2 689.2 2058.9 692.6C2065.6 695.9 2073.6 699.1 2081.6 700.1C2089.5 701.2 2099.8 699.9 2106.7 698.9C2113.7 697.8 2120.4 694.7 2123.1 693.8" clip-path="url(#cc3)"/>
<path class="bh" stroke-width="2.6" d="M2041.3 680C2044.2 682.1 2052.2 689.2 2058.9 692.6C2065.6 695.9 2073.6 699.1 2081.6 700.1C2089.5 701.2 2099.8 699.9 2106.7 698.9C2113.7 697.8 2120.4 694.7 2123.1 693.8" clip-path="url(#cc3)"/>
<path class="b" stroke-width="6.3" d="M2111.8 680C2114.3 681.7 2123.7 685.9 2126.9 690.1C2130 694.3 2131.9 700.6 2130.7 705.2C2129.4 709.8 2124.6 714.4 2119.3 717.8C2114.1 721.1 2105.9 723.4 2099.2 725.3C2092.5 727.2 2082.4 728.5 2079 729.1" clip-path="url(#cc3)"/>
<path class="bh" stroke-width="2.6" d="M2111.8 680C2114.3 681.7 2123.7 685.9 2126.9 690.1C2130 694.3 2131.9 700.6 2130.7 705.2C2129.4 709.8 2124.6 714.4 2119.3 717.8C2114.1 721.1 2105.9 723.4 2099.2 725.3C2092.5 727.2 2082.4 728.5 2079 729.1" clip-path="url(#cc3)"/>
<path class="b" stroke-width="6.3" d="M2056.4 702.7C2056 704.3 2053 708.5 2053.9 712.7C2054.7 716.9 2058.1 723.2 2061.4 727.8C2064.8 732.5 2069.8 735.8 2074 740.4C2078.2 745 2083.9 751.1 2086.6 755.5C2089.3 759.9 2091.6 764.6 2090.4 766.9C2089.1 769.2 2084.3 769.6 2079 769.4C2073.8 769.2 2065.2 767.5 2058.9 765.6C2052.6 763.7 2045.5 759.9 2041.3 758C2037.1 756.2 2035 754.9 2033.7 754.3" clip-path="url(#cc3)"/>
<path class="bh" stroke-width="2.6" d="M2056.4 702.7C2056 704.3 2053 708.5 2053.9 712.7C2054.7 716.9 2058.1 723.2 2061.4 727.8C2064.8 732.5 2069.8 735.8 2074 740.4C2078.2 745 2083.9 751.1 2086.6 755.5C2089.3 759.9 2091.6 764.6 2090.4 766.9C2089.1 769.2 2084.3 769.6 2079 769.4C2073.8 769.2 2065.2 767.5 2058.9 765.6C2052.6 763.7 2045.5 759.9 2041.3 758C2037.1 756.2 2035 754.9 2033.7 754.3" clip-path="url(#cc3)"/>
<path class="b" stroke-width="6.3" d="M2079 730.4C2082.8 731 2097.1 735.4 2101.7 734.1C2106.3 732.9 2107.2 726.8 2106.7 722.8C2106.3 718.8 2100.4 712.3 2099.2 710.2" clip-path="url(#cc3)"/>
<path class="bh" stroke-width="2.6" d="M2079 730.4C2082.8 731 2097.1 735.4 2101.7 734.1C2106.3 732.9 2107.2 726.8 2106.7 722.8C2106.3 718.8 2100.4 712.3 2099.2 710.2" clip-path="url(#cc3)"/>
<path class="b" stroke-width="6.3" d="M2106.7 725.3C2103.4 727.4 2094.6 734.6 2086.6 737.9C2078.6 741.3 2066.5 743.4 2058.9 745.5C2051.3 747.6 2045.5 748.8 2041.3 750.5C2037.1 752.2 2035 754.7 2033.7 755.5" clip-path="url(#cc3)"/>
<path class="bh" stroke-width="2.6" d="M2106.7 725.3C2103.4 727.4 2094.6 734.6 2086.6 737.9C2078.6 741.3 2066.5 743.4 2058.9 745.5C2051.3 747.6 2045.5 748.8 2041.3 750.5C2037.1 752.2 2035 754.7 2033.7 755.5" clip-path="url(#cc3)"/>
<path class="b" stroke-width="6.3" d="M2086.6 740.4C2090 741.3 2100 742.5 2106.7 745.5C2113.4 748.4 2122.3 753.9 2126.9 758C2131.5 762.2 2134.4 766.4 2134.4 770.6C2134.4 774.8 2131.5 779.9 2126.9 783.2C2122.3 786.6 2113.4 788.7 2106.7 790.8C2100 792.9 2092 794.6 2086.6 795.8C2081.1 797.1 2076.1 797.9 2074 798.3" clip-path="url(#cc3)"/>
<path class="bh" stroke-width="2.6" d="M2086.6 740.4C2090 741.3 2100 742.5 2106.7 745.5C2113.4 748.4 2122.3 753.9 2126.9 758C2131.5 762.2 2134.4 766.4 2134.4 770.6C2134.4 774.8 2131.5 779.9 2126.9 783.2C2122.3 786.6 2113.4 788.7 2106.7 790.8C2100 792.9 2092 794.6 2086.6 795.8C2081.1 797.1 2076.1 797.9 2074 798.3" clip-path="url(#cc3)"/>
<path class="b" stroke-width="6.3" d="M2033.7 763.1C2031.6 763.9 2024.1 765.6 2021.1 768.1C2018.2 770.6 2015.3 774 2016.1 778.2C2016.9 782.4 2022 788.3 2026.2 793.3C2030.4 798.3 2037.1 803.4 2041.3 808.4C2045.5 813.4 2049.2 820.2 2051.3 823.5C2053.4 826.9 2053.4 827.7 2053.9 828.5" clip-path="url(#cc3)"/>
<path class="bh" stroke-width="2.6" d="M2033.7 763.1C2031.6 763.9 2024.1 765.6 2021.1 768.1C2018.2 770.6 2015.3 774 2016.1 778.2C2016.9 782.4 2022 788.3 2026.2 793.3C2030.4 798.3 2037.1 803.4 2041.3 808.4C2045.5 813.4 2049.2 820.2 2051.3 823.5C2053.4 826.9 2053.4 827.7 2053.9 828.5" clip-path="url(#cc3)"/>
<path class="b" stroke-width="6.3" d="M2074 800.8C2076.9 802.5 2085.3 807.6 2091.6 810.9C2097.9 814.3 2105.9 817.6 2111.8 821C2117.6 824.3 2123.7 828.1 2126.9 831.1C2130 834 2131.1 836.5 2130.7 838.6C2130.2 840.7 2125.4 842.8 2124.4 843.7" clip-path="url(#cc3)"/>
<path class="bh" stroke-width="2.6" d="M2074 800.8C2076.9 802.5 2085.3 807.6 2091.6 810.9C2097.9 814.3 2105.9 817.6 2111.8 821C2117.6 824.3 2123.7 828.1 2126.9 831.1C2130 834 2131.1 836.5 2130.7 838.6C2130.2 840.7 2125.4 842.8 2124.4 843.7" clip-path="url(#cc3)"/>
<path class="b" stroke-width="6.3" d="M2094.1 813.4C2092.9 814.7 2091.2 818.7 2086.6 821C2082 823.3 2074.8 825.6 2066.5 827.3C2058.1 829 2044.6 829.2 2036.2 831.1C2027.8 833 2019.2 836.1 2016.1 838.6C2013 841.1 2014.4 842.4 2017.4 846.2C2020.3 849.9 2027.6 856.2 2033.7 861.3C2039.8 866.3 2048 871.8 2053.9 876.4C2059.7 881 2065.2 884.8 2069 889C2072.7 893.2 2076.5 897.8 2076.5 901.6C2076.5 905.3 2074 908.7 2069 911.6C2063.9 914.6 2054.3 917.3 2046.3 919.2C2038.3 921.1 2028.5 922.1 2021.1 923C2013.8 923.8 2005.4 924 2002.3 924.2" clip-path="url(#cc3)"/>
<path class="bh" stroke-width="2.6" d="M2094.1 813.4C2092.9 814.7 2091.2 818.7 2086.6 821C2082 823.3 2074.8 825.6 2066.5 827.3C2058.1 829 2044.6 829.2 2036.2 831.1C2027.8 833 2019.2 836.1 2016.1 838.6C2013 841.1 2014.4 842.4 2017.4 846.2C2020.3 849.9 2027.6 856.2 2033.7 861.3C2039.8 866.3 2048 871.8 2053.9 876.4C2059.7 881 2065.2 884.8 2069 889C2072.7 893.2 2076.5 897.8 2076.5 901.6C2076.5 905.3 2074 908.7 2069 911.6C2063.9 914.6 2054.3 917.3 2046.3 919.2C2038.3 921.1 2028.5 922.1 2021.1 923C2013.8 923.8 2005.4 924 2002.3 924.2" clip-path="url(#cc3)"/>
<path class="b" stroke-width="6.3" d="M2053.9 828.5C2048.8 828.5 2033.7 828.5 2023.7 828.5C2013.6 828.5 2001 827.3 1993.4 828.5C1985.9 829.8 1980.4 832.7 1978.3 836.1C1976.2 839.5 1978.3 844.1 1980.8 848.7C1983.4 853.3 1988.8 858.8 1993.4 863.8C1998.1 868.8 2003.9 873.9 2008.5 878.9C2013.2 883.9 2019.9 889.8 2021.1 894C2022.4 898.2 2020.3 901.6 2016.1 904.1C2011.9 906.6 2003.9 908.7 1996 909.1C1988 909.5 1977.1 908.5 1968.3 906.6C1959.4 904.7 1948.5 898.6 1943.1 897.8C1937.6 896.9 1936.8 900.9 1935.5 901.6" clip-path="url(#cc3)"/>
<path class="bh" stroke-width="2.6" d="M2053.9 828.5C2048.8 828.5 2033.7 828.5 2023.7 828.5C2013.6 828.5 2001 827.3 1993.4 828.5C1985.9 829.8 1980.4 832.7 1978.3 836.1C1976.2 839.5 1978.3 844.1 1980.8 848.7C1983.4 853.3 1988.8 858.8 1993.4 863.8C1998.1 868.8 2003.9 873.9 2008.5 878.9C2013.2 883.9 2019.9 889.8 2021.1 894C2022.4 898.2 2020.3 901.6 2016.1 904.1C2011.9 906.6 2003.9 908.7 1996 909.1C1988 909.5 1977.1 908.5 1968.3 906.6C1959.4 904.7 1948.5 898.6 1943.1 897.8C1937.6 896.9 1936.8 900.9 1935.5 901.6" clip-path="url(#cc3)"/>
<path class="b" stroke-width="6.3" d="M2011.1 853.7C2010.2 855.8 2006.4 861.7 2006 866.3C2005.6 870.9 2006 876 2008.5 881.4C2011.1 886.9 2016.5 893.6 2021.1 899C2025.7 904.5 2033.7 911.6 2036.2 914.1" clip-path="url(#cc3)"/>
<path class="bh" stroke-width="2.6" d="M2011.1 853.7C2010.2 855.8 2006.4 861.7 2006 866.3C2005.6 870.9 2006 876 2008.5 881.4C2011.1 886.9 2016.5 893.6 2021.1 899C2025.7 904.5 2033.7 911.6 2036.2 914.1" clip-path="url(#cc3)"/>
<path class="b" stroke-width="6.3" d="M2021.1 846.2C2026.2 846.6 2041.3 847 2051.3 848.7C2061.4 850.4 2073.2 855 2081.6 856.2C2090 857.5 2095 857.5 2101.7 856.2C2108.4 855 2118.1 850.6 2121.8 848.7C2125.6 846.8 2123.9 845.5 2124.4 844.9" clip-path="url(#cc3)"/>
<path class="bh" stroke-width="2.6" d="M2021.1 846.2C2026.2 846.6 2041.3 847 2051.3 848.7C2061.4 850.4 2073.2 855 2081.6 856.2C2090 857.5 2095 857.5 2101.7 856.2C2108.4 855 2118.1 850.6 2121.8 848.7C2125.6 846.8 2123.9 845.5 2124.4 844.9" clip-path="url(#cc3)"/>
<path class="b" stroke-width="4.6" d="M1935.5 901.6C1937.2 903.7 1941 909.5 1945.6 914.1C1950.2 918.8 1957.8 924.2 1963.2 929.3C1968.7 934.3 1974.8 939.3 1978.3 944.4C1981.9 949.4 1984.6 955.3 1984.6 959.5C1984.6 963.7 1981.1 968.7 1978.3 969.5C1975.6 970.4 1970.4 968.3 1968.3 964.5C1966.2 960.7 1965.3 952.8 1965.7 946.9C1966.2 941 1968.7 934.7 1970.8 929.3C1972.9 923.8 1977.1 916.7 1978.3 914.1" clip-path="url(#cc3)"/>
<path class="bh" stroke-width="1.9" d="M1935.5 901.6C1937.2 903.7 1941 909.5 1945.6 914.1C1950.2 918.8 1957.8 924.2 1963.2 929.3C1968.7 934.3 1974.8 939.3 1978.3 944.4C1981.9 949.4 1984.6 955.3 1984.6 959.5C1984.6 963.7 1981.1 968.7 1978.3 969.5C1975.6 970.4 1970.4 968.3 1968.3 964.5C1966.2 960.7 1965.3 952.8 1965.7 946.9C1966.2 941 1968.7 934.7 1970.8 929.3C1972.9 923.8 1977.1 916.7 1978.3 914.1" clip-path="url(#cc3)"/>
<path class="b" stroke-width="3.4" d="M2124.4 844.9C2126.5 847.6 2132.8 855.6 2136.9 861.3C2141.1 866.9 2144.5 873.9 2149.5 878.9C2154.6 883.9 2160 888.5 2167.2 891.5C2174.3 894.4 2183.1 896.1 2192.3 896.5C2201.6 896.9 2217.5 894.4 2222.5 894" clip-path="url(#cc3)"/>
<path class="b" stroke-width="6.3" d="M2182.3 826C2178.9 826.9 2169.7 829 2162.1 831.1C2154.6 833.2 2143.2 836.3 2136.9 838.6C2130.7 840.9 2126.5 843.9 2124.4 844.9" clip-path="url(#cc3)"/>
<path class="bh" stroke-width="2.6" d="M2182.3 826C2178.9 826.9 2169.7 829 2162.1 831.1C2154.6 833.2 2143.2 836.3 2136.9 838.6C2130.7 840.9 2126.5 843.9 2124.4 844.9" clip-path="url(#cc3)"/>
<path class="b" stroke-width="6.3" d="M2172.2 705.2C2174.7 704.8 2180.6 702.9 2187.3 702.7C2194 702.4 2204.1 703.1 2212.5 703.9C2220.9 704.8 2231.4 708.3 2237.7 707.7C2243.9 707.1 2248.1 703.5 2250.2 700.1C2252.3 696.8 2251.5 690.9 2250.2 687.6C2249 684.2 2243.9 681.3 2242.7 680" clip-path="url(#cc3)"/>
<path class="bh" stroke-width="2.6" d="M2172.2 705.2C2174.7 704.8 2180.6 702.9 2187.3 702.7C2194 702.4 2204.1 703.1 2212.5 703.9C2220.9 704.8 2231.4 708.3 2237.7 707.7C2243.9 707.1 2248.1 703.5 2250.2 700.1C2252.3 696.8 2251.5 690.9 2250.2 687.6C2249 684.2 2243.9 681.3 2242.7 680" clip-path="url(#cc3)"/>
<path class="b" stroke-width="6.3" d="M2172.2 705.2C2172.6 703.5 2172.2 698 2174.7 695.1C2177.2 692.2 2182.3 689.7 2187.3 687.6C2192.3 685.5 2202 683.4 2204.9 682.5" clip-path="url(#cc3)"/>
<path class="bh" stroke-width="2.6" d="M2172.2 705.2C2172.6 703.5 2172.2 698 2174.7 695.1C2177.2 692.2 2182.3 689.7 2187.3 687.6C2192.3 685.5 2202 683.4 2204.9 682.5" clip-path="url(#cc3)"/>
<path class="b" stroke-width="6.3" d="M2172.2 706.4C2173.5 709.2 2176 718 2179.7 722.8C2183.5 727.6 2188.6 732 2194.9 735.4C2201.1 738.7 2210.2 740.8 2217.5 742.9C2224.9 745 2235.3 747.1 2238.9 748" clip-path="url(#cc3)"/>
<path class="bh" stroke-width="2.6" d="M2172.2 706.4C2173.5 709.2 2176 718 2179.7 722.8C2183.5 727.6 2188.6 732 2194.9 735.4C2201.1 738.7 2210.2 740.8 2217.5 742.9C2224.9 745 2235.3 747.1 2238.9 748" clip-path="url(#cc3)"/>
<path class="b" stroke-width="6.3" d="M2238.9 750.5C2234.5 751.8 2221.1 754.7 2212.5 758C2203.9 761.4 2193.6 766.9 2187.3 770.6C2181 774.4 2176.8 777.4 2174.7 780.7C2172.6 784.1 2173 787.4 2174.7 790.8C2176.4 794.1 2179.3 797.5 2184.8 800.8C2190.2 804.2 2199.5 807.6 2207.4 810.9C2215.4 814.3 2225.9 818.1 2232.6 821C2239.3 823.9 2245.2 827.3 2247.7 828.5" clip-path="url(#cc3)"/>
<path class="bh" stroke-width="2.6" d="M2238.9 750.5C2234.5 751.8 2221.1 754.7 2212.5 758C2203.9 761.4 2193.6 766.9 2187.3 770.6C2181 774.4 2176.8 777.4 2174.7 780.7C2172.6 784.1 2173 787.4 2174.7 790.8C2176.4 794.1 2179.3 797.5 2184.8 800.8C2190.2 804.2 2199.5 807.6 2207.4 810.9C2215.4 814.3 2225.9 818.1 2232.6 821C2239.3 823.9 2245.2 827.3 2247.7 828.5" clip-path="url(#cc3)"/>
<path class="b" stroke-width="6.3" d="M2217.5 765.6C2215.8 766.9 2213.3 771.7 2207.4 773.2C2201.6 774.6 2190.7 775.3 2182.3 774.4C2173.9 773.6 2163.2 769.2 2157.1 768.1C2151 767.1 2147 766.4 2145.8 768.1C2144.5 769.8 2146.8 774 2149.5 778.2C2152.3 782.4 2157.9 787.8 2162.1 793.3C2166.3 798.8 2171.4 805.7 2174.7 810.9C2178.1 816.2 2181 822.5 2182.3 824.8" clip-path="url(#cc3)"/>
<path class="bh" stroke-width="2.6" d="M2217.5 765.6C2215.8 766.9 2213.3 771.7 2207.4 773.2C2201.6 774.6 2190.7 775.3 2182.3 774.4C2173.9 773.6 2163.2 769.2 2157.1 768.1C2151 767.1 2147 766.4 2145.8 768.1C2144.5 769.8 2146.8 774 2149.5 778.2C2152.3 782.4 2157.9 787.8 2162.1 793.3C2166.3 798.8 2171.4 805.7 2174.7 810.9C2178.1 816.2 2181 822.5 2182.3 824.8" clip-path="url(#cc3)"/>
<path class="b" stroke-width="6.3" d="M2247.7 829.8C2243.9 831.7 2232.6 836.7 2225.1 841.1C2217.5 845.5 2207.9 851.2 2202.4 856.2C2197 861.3 2193.2 866.3 2192.3 871.3C2191.5 876.4 2194.4 881.4 2197.4 886.5C2200.3 891.5 2205.8 895.7 2210 901.6C2214.2 907.4 2218.8 915.4 2222.5 921.7C2226.3 928 2229.7 933.7 2232.6 939.3C2235.6 945 2238.9 953 2240.2 955.7" clip-path="url(#cc3)"/>
<path class="bh" stroke-width="2.6" d="M2247.7 829.8C2243.9 831.7 2232.6 836.7 2225.1 841.1C2217.5 845.5 2207.9 851.2 2202.4 856.2C2197 861.3 2193.2 866.3 2192.3 871.3C2191.5 876.4 2194.4 881.4 2197.4 886.5C2200.3 891.5 2205.8 895.7 2210 901.6C2214.2 907.4 2218.8 915.4 2222.5 921.7C2226.3 928 2229.7 933.7 2232.6 939.3C2235.6 945 2238.9 953 2240.2 955.7" clip-path="url(#cc3)"/>
<path class="b" stroke-width="6.3" d="M2222.5 894C2223 896.1 2223.8 901.1 2225.1 906.6C2226.3 912 2228 920 2230.1 926.7C2232.2 933.4 2235.1 941.8 2237.7 946.9C2240.2 951.9 2242.7 956.9 2245.2 956.9C2247.7 956.9 2250.7 952.8 2252.8 946.9C2254.9 941 2256.1 930.1 2257.8 921.7C2259.5 913.3 2261.2 903.2 2262.8 896.5C2264.5 889.8 2267 883.9 2267.9 881.4" clip-path="url(#cc3)"/>
<path class="bh" stroke-width="2.6" d="M2222.5 894C2223 896.1 2223.8 901.1 2225.1 906.6C2226.3 912 2228 920 2230.1 926.7C2232.2 933.4 2235.1 941.8 2237.7 946.9C2240.2 951.9 2242.7 956.9 2245.2 956.9C2247.7 956.9 2250.7 952.8 2252.8 946.9C2254.9 941 2256.1 930.1 2257.8 921.7C2259.5 913.3 2261.2 903.2 2262.8 896.5C2264.5 889.8 2267 883.9 2267.9 881.4" clip-path="url(#cc3)"/>
<path class="b" stroke-width="4.6" d="M2240.2 956.9C2243.9 955.3 2254.9 951.1 2262.8 946.9C2270.8 942.7 2279.6 936.4 2288 931.8C2296.4 927.2 2306.5 923.4 2313.2 919.2C2319.9 915 2325.4 911.6 2328.3 906.6C2331.2 901.6 2330.4 891.9 2330.8 889" clip-path="url(#cc3)"/>
<path class="bh" stroke-width="1.9" d="M2240.2 956.9C2243.9 955.3 2254.9 951.1 2262.8 946.9C2270.8 942.7 2279.6 936.4 2288 931.8C2296.4 927.2 2306.5 923.4 2313.2 919.2C2319.9 915 2325.4 911.6 2328.3 906.6C2331.2 901.6 2330.4 891.9 2330.8 889" clip-path="url(#cc3)"/>
<path class="b" stroke-width="6.3" d="M2252.8 951.9C2253.6 947.7 2255.7 935.1 2257.8 926.7C2259.9 918.3 2262.8 909.1 2265.4 901.6C2267.9 894 2270.8 885.2 2272.9 881.4C2275 877.6 2275.4 876.8 2277.9 878.9C2280.5 881 2284.2 888.1 2288 894C2291.8 899.9 2296.4 907.9 2300.6 914.1C2304.8 920.4 2309.4 928 2313.2 931.8C2317 935.5 2321.6 936 2323.3 936.8" clip-path="url(#cc3)"/>
<path class="bh" stroke-width="2.6" d="M2252.8 951.9C2253.6 947.7 2255.7 935.1 2257.8 926.7C2259.9 918.3 2262.8 909.1 2265.4 901.6C2267.9 894 2270.8 885.2 2272.9 881.4C2275 877.6 2275.4 876.8 2277.9 878.9C2280.5 881 2284.2 888.1 2288 894C2291.8 899.9 2296.4 907.9 2300.6 914.1C2304.8 920.4 2309.4 928 2313.2 931.8C2317 935.5 2321.6 936 2323.3 936.8" clip-path="url(#cc3)"/>
<path class="b" stroke-width="6.3" d="M2323.3 936.8C2324.5 933.9 2328.7 926.3 2330.8 919.2C2332.9 912 2333.7 902 2335.8 894C2337.9 886 2340.9 876.8 2343.4 871.3C2345.9 865.9 2348.4 863 2351 861.3C2353.5 859.6 2355.6 858.8 2358.5 861.3C2361.4 863.8 2364.8 870.5 2368.6 876.4C2372.4 882.3 2377 890.6 2381.2 896.5C2385.4 902.4 2390 908.1 2393.8 911.6C2397.5 915.2 2402.1 916.9 2403.8 917.9" clip-path="url(#cc3)"/>
<path class="bh" stroke-width="2.6" d="M2323.3 936.8C2324.5 933.9 2328.7 926.3 2330.8 919.2C2332.9 912 2333.7 902 2335.8 894C2337.9 886 2340.9 876.8 2343.4 871.3C2345.9 865.9 2348.4 863 2351 861.3C2353.5 859.6 2355.6 858.8 2358.5 861.3C2361.4 863.8 2364.8 870.5 2368.6 876.4C2372.4 882.3 2377 890.6 2381.2 896.5C2385.4 902.4 2390 908.1 2393.8 911.6C2397.5 915.2 2402.1 916.9 2403.8 917.9" clip-path="url(#cc3)"/>
<path class="b" stroke-width="6.3" d="M2403.8 917.9C2405.1 915.2 2408.9 908.5 2411.4 901.6C2413.9 894.6 2416.4 884.8 2418.9 876.4C2421.4 868 2423.5 857.5 2426.5 851.2C2429.4 844.9 2433.6 840.3 2436.6 838.6C2439.5 836.9 2441.2 838.2 2444.1 841.1C2447 844.1 2450.4 850.4 2454.2 856.2C2458 862.1 2462.6 870.5 2466.8 876.4C2471 882.3 2475.8 888.1 2479.4 891.5C2482.9 894.8 2486.7 895.7 2488.2 896.5" clip-path="url(#cc3)"/>
<path class="bh" stroke-width="2.6" d="M2403.8 917.9C2405.1 915.2 2408.9 908.5 2411.4 901.6C2413.9 894.6 2416.4 884.8 2418.9 876.4C2421.4 868 2423.5 857.5 2426.5 851.2C2429.4 844.9 2433.6 840.3 2436.6 838.6C2439.5 836.9 2441.2 838.2 2444.1 841.1C2447 844.1 2450.4 850.4 2454.2 856.2C2458 862.1 2462.6 870.5 2466.8 876.4C2471 882.3 2475.8 888.1 2479.4 891.5C2482.9 894.8 2486.7 895.7 2488.2 896.5" clip-path="url(#cc3)"/>
<path class="b" stroke-width="4.2" d="M2488.2 896.5C2488.4 893.2 2488.8 883.9 2489.4 876.4C2490.1 868.8 2490.7 858.8 2491.9 851.2C2493.2 843.7 2494.9 836.5 2497 831.1C2499.1 825.6 2502.4 822.7 2504.5 818.5C2506.6 814.3 2508.7 808 2509.6 805.9" clip-path="url(#cc3)"/>
<path class="bh" stroke-width="1.8" d="M2488.2 896.5C2488.4 893.2 2488.8 883.9 2489.4 876.4C2490.1 868.8 2490.7 858.8 2491.9 851.2C2493.2 843.7 2494.9 836.5 2497 831.1C2499.1 825.6 2502.4 822.7 2504.5 818.5C2506.6 814.3 2508.7 808 2509.6 805.9" clip-path="url(#cc3)"/>
<path class="b" stroke-width="6.3" d="M2363.5 680C2363.5 681.7 2365.2 686.3 2363.5 690.1C2361.9 693.8 2358.5 699.3 2353.5 702.7C2348.4 706 2340.9 708.3 2333.3 710.2C2325.8 712.1 2315.3 713.4 2308.2 714C2301 714.6 2293.5 714 2290.5 714" clip-path="url(#cc3)"/>
<path class="bh" stroke-width="2.6" d="M2363.5 680C2363.5 681.7 2365.2 686.3 2363.5 690.1C2361.9 693.8 2358.5 699.3 2353.5 702.7C2348.4 706 2340.9 708.3 2333.3 710.2C2325.8 712.1 2315.3 713.4 2308.2 714C2301 714.6 2293.5 714 2290.5 714" clip-path="url(#cc3)"/>
<path class="b" stroke-width="6.3" d="M2290.5 716.5C2294.3 716.7 2306.5 716.3 2313.2 717.8C2319.9 719.2 2326.2 722 2330.8 725.3C2335.4 728.7 2339 733.3 2340.9 737.9C2342.8 742.5 2343.4 748.4 2342.1 753C2340.9 757.6 2338.2 761.8 2333.3 765.6C2328.5 769.4 2319.9 773.4 2313.2 775.7C2306.5 778 2299.1 778.6 2293 779.4C2287 780.3 2279.4 780.5 2276.7 780.7" clip-path="url(#cc3)"/>
<path class="bh" stroke-width="2.6" d="M2290.5 716.5C2294.3 716.7 2306.5 716.3 2313.2 717.8C2319.9 719.2 2326.2 722 2330.8 725.3C2335.4 728.7 2339 733.3 2340.9 737.9C2342.8 742.5 2343.4 748.4 2342.1 753C2340.9 757.6 2338.2 761.8 2333.3 765.6C2328.5 769.4 2319.9 773.4 2313.2 775.7C2306.5 778 2299.1 778.6 2293 779.4C2287 780.3 2279.4 780.5 2276.7 780.7" clip-path="url(#cc3)"/>
<path class="b" stroke-width="6.3" d="M2276.7 783.2C2281.1 783.4 2295.4 782.8 2303.1 784.5C2310.9 786.2 2318 789.7 2323.3 793.3C2328.5 796.9 2332.5 801.3 2334.6 805.9C2336.7 810.5 2337.3 816.4 2335.8 821C2334.4 825.6 2330.4 829.8 2325.8 833.6C2321.2 837.4 2314.4 841.3 2308.2 843.7C2301.9 846 2293.5 846.6 2288 847.4C2282.6 848.3 2277.5 848.5 2275.4 848.7" clip-path="url(#cc3)"/>
<path class="bh" stroke-width="2.6" d="M2276.7 783.2C2281.1 783.4 2295.4 782.8 2303.1 784.5C2310.9 786.2 2318 789.7 2323.3 793.3C2328.5 796.9 2332.5 801.3 2334.6 805.9C2336.7 810.5 2337.3 816.4 2335.8 821C2334.4 825.6 2330.4 829.8 2325.8 833.6C2321.2 837.4 2314.4 841.3 2308.2 843.7C2301.9 846 2293.5 846.6 2288 847.4C2282.6 848.3 2277.5 848.5 2275.4 848.7" clip-path="url(#cc3)"/>
<path class="b" stroke-width="6.3" d="M2275.4 851.2C2277.5 851.6 2283.4 853.7 2288 853.7C2292.6 853.7 2299.8 852.5 2303.1 851.2C2306.5 849.9 2309 847.4 2308.2 846.2C2307.3 844.9 2302.3 843.9 2298.1 843.7C2293.9 843.4 2285.5 844.7 2283 844.9" clip-path="url(#cc3)"/>
<path class="bh" stroke-width="2.6" d="M2275.4 851.2C2277.5 851.6 2283.4 853.7 2288 853.7C2292.6 853.7 2299.8 852.5 2303.1 851.2C2306.5 849.9 2309 847.4 2308.2 846.2C2307.3 844.9 2302.3 843.9 2298.1 843.7C2293.9 843.4 2285.5 844.7 2283 844.9" clip-path="url(#cc3)"/>
<path class="b" stroke-width="6.3" d="M2308.2 846.2C2310.2 847.8 2317.4 852 2320.7 856.2C2324.1 860.4 2326.6 865.9 2328.3 871.3C2330 876.8 2330.4 886 2330.8 889" clip-path="url(#cc3)"/>
<path class="bh" stroke-width="2.6" d="M2308.2 846.2C2310.2 847.8 2317.4 852 2320.7 856.2C2324.1 860.4 2326.6 865.9 2328.3 871.3C2330 876.8 2330.4 886 2330.8 889" clip-path="url(#cc3)"/>
<path class="b" stroke-width="5" d="M1941.3 935.2C1937.9 935.7 1928.7 936.3 1921.1 937.8C1913.6 939.2 1900.2 943 1896 944.1"/>
<path class="bh" stroke-width="2.1" d="M1941.3 935.2C1937.9 935.7 1928.7 936.3 1921.1 937.8C1913.6 939.2 1900.2 943 1896 944.1"/>
<path class="b" stroke-width="3.2" d="M1896 944.1C1890.9 946.4 1875.8 952.2 1865.7 957.9C1855.7 963.6 1844.3 970.9 1835.5 978C1826.7 985.2 1818.1 993.6 1812.9 1000.7C1807.6 1007.8 1804.9 1013.7 1804.1 1020.8C1803.2 1028 1805.5 1036.4 1807.8 1043.5C1810.1 1050.6 1814.8 1057.4 1817.9 1063.7C1821.1 1069.9 1825.3 1078.3 1826.7 1081.3"/>
<path class="b" stroke-width="6.3" d="M2074.7 900C2074.3 901.7 2075.1 907.1 2072.2 910.1C2069.3 913 2063.8 915.5 2057.1 917.6C2050.4 919.7 2041.1 921.4 2031.9 922.7C2022.7 923.9 2006.7 924.8 2001.7 925.2"/>
<path class="bh" stroke-width="2.6" d="M2074.7 900C2074.3 901.7 2075.1 907.1 2072.2 910.1C2069.3 913 2063.8 915.5 2057.1 917.6C2050.4 919.7 2041.1 921.4 2031.9 922.7C2022.7 923.9 2006.7 924.8 2001.7 925.2"/>
<path class="b" stroke-width="6.3" d="M2001.7 927.7C2005.1 929.8 2015.1 935.2 2021.8 940.3C2028.6 945.3 2036.3 952 2042 957.9C2047.6 963.8 2053.7 970.5 2055.8 975.5C2057.9 980.6 2057.7 984.3 2054.6 988.1C2051.4 991.9 2044.9 995.3 2036.9 998.2C2029 1001.1 2015.5 1003.6 2006.7 1005.7C1997.9 1007.8 1988.3 1008.7 1984.1 1010.8C1979.9 1012.9 1982 1017.1 1981.6 1018.3"/>
<path class="bh" stroke-width="2.6" d="M2001.7 927.7C2005.1 929.8 2015.1 935.2 2021.8 940.3C2028.6 945.3 2036.3 952 2042 957.9C2047.6 963.8 2053.7 970.5 2055.8 975.5C2057.9 980.6 2057.7 984.3 2054.6 988.1C2051.4 991.9 2044.9 995.3 2036.9 998.2C2029 1001.1 2015.5 1003.6 2006.7 1005.7C1997.9 1007.8 1988.3 1008.7 1984.1 1010.8C1979.9 1012.9 1982 1017.1 1981.6 1018.3"/>
<path class="b" stroke-width="6.3" d="M1981.6 1018.3C1982.4 1021.3 1984.1 1029.7 1986.6 1036C1989.1 1042.3 1993.3 1050.2 1996.7 1056.1C2000 1062 2004.4 1066.2 2006.7 1071.2C2009 1076.2 2011.4 1082.3 2010.5 1086.3C2009.7 1090.3 2006.5 1093.9 2001.7 1095.1C1996.9 1096.4 1990 1095.1 1981.6 1093.9C1973.2 1092.6 1961 1089.7 1951.3 1087.6C1941.7 1085.5 1930.4 1083 1923.7 1081.3C1916.9 1079.6 1913.2 1078.1 1911.1 1077.5"/>
<path class="bh" stroke-width="2.6" d="M1981.6 1018.3C1982.4 1021.3 1984.1 1029.7 1986.6 1036C1989.1 1042.3 1993.3 1050.2 1996.7 1056.1C2000 1062 2004.4 1066.2 2006.7 1071.2C2009 1076.2 2011.4 1082.3 2010.5 1086.3C2009.7 1090.3 2006.5 1093.9 2001.7 1095.1C1996.9 1096.4 1990 1095.1 1981.6 1093.9C1973.2 1092.6 1961 1089.7 1951.3 1087.6C1941.7 1085.5 1930.4 1083 1923.7 1081.3C1916.9 1079.6 1913.2 1078.1 1911.1 1077.5"/>
<path class="r" stroke-width="4.6" d="M449.1 406.4L465.5 396.4L483.1 405.2L484.4 424.1L468 434.1L450.4 425.3L449.1 406.4"/>
<path class="r" stroke-width="4.6" d="M449.1 406.4L432.7 400.1L418.9 403.9"/>
<path class="r" stroke-width="4.6" d="M432.7 400.1L430.2 388.8"/>
<path class="r" stroke-width="4.6" d="M483.1 405.2L496.9 398.9"/>
<path class="r" stroke-width="4.6" d="M450.4 425.3L439 434.1L434 442.9L442.8 455.5L459.2 451.8L468 434.1"/>
<path class="r" stroke-width="4.6" d="M442.8 455.5L440.3 469.4"/>
<path class="r" stroke-width="4.6" d="M459.2 451.8L471.8 460.6L484.4 464.3L494.4 460.6"/>
<path class="r" stroke-width="4.6" d="M471.8 460.6L476.8 473.2L471.8 483.2L474.3 493.3L459.2 495.8"/>
<path class="r" stroke-width="4.6" d="M476.8 473.2L491.9 479.4L507 485.7L508.3 498.3"/>
<path class="r" stroke-width="4.6" d="M491.9 479.4L484.4 490.8L474.3 493.3"/>
<path class="r" stroke-width="4.6" d="M474.3 493.3L481.8 505.9L486.9 513.4L498.2 512.2"/>
<path class="r" stroke-width="4.6" d="M481.8 505.9L471.8 500.8"/>
<path class="r" stroke-width="4.6" d="M459.2 495.8L446.6 505.9L437.8 500.8"/>
<path class="r" stroke-width="4.6" d="M446.6 505.9L451.6 521L464.2 524.8"/>
<path class="r" stroke-width="4.6" d="M451.6 521L441.6 531.1L431.5 528.5L422.7 524.8"/>
<path class="r" stroke-width="4.6" d="M441.6 531.1L444.1 543.7L450.4 553.7"/>
<path class="r" stroke-width="4.6" d="M431.5 528.5L434 541.1L429 552.5L423.9 553.7"/>
<path class="g" stroke-width="6" d="M481.8 626.7C481.4 628.4 477.6 633.9 479.3 636.8C481 639.7 485.6 642.3 491.9 644.4C498.2 646.5 509.5 647.3 517.1 649.4C524.6 651.5 531.4 653.2 537.2 656.9C543.1 660.7 549.8 669.5 552.3 672.1"/>
<path class="gh" stroke-width="2.5" d="M481.8 626.7C481.4 628.4 477.6 633.9 479.3 636.8C481 639.7 485.6 642.3 491.9 644.4C498.2 646.5 509.5 647.3 517.1 649.4C524.6 651.5 531.4 653.2 537.2 656.9C543.1 660.7 549.8 669.5 552.3 672.1"/>
<path class="g" stroke-width="6" d="M325.7 658.2C320.7 658 304.8 655.9 295.5 656.9C286.3 658 276.6 661.6 270.4 664.5C264.1 667.4 259.9 671.6 257.8 674.6C255.7 677.5 257.8 680.9 257.8 682.1"/>
<path class="gh" stroke-width="2.5" d="M325.7 658.2C320.7 658 304.8 655.9 295.5 656.9C286.3 658 276.6 661.6 270.4 664.5C264.1 667.4 259.9 671.6 257.8 674.6C255.7 677.5 257.8 680.9 257.8 682.1"/>
<path class="g" stroke-width="4" d="M371.1 641.8L386.2 654.4"/>
<path class="gh" stroke-width="1.7" d="M371.1 641.8L386.2 654.4"/>
<path class="g" stroke-width="4" d="M330.8 689.7C337.5 688.4 358.1 684.6 371.1 682.1C384.1 679.6 396.2 677.1 408.8 674.6C421.4 672.1 436.1 670.4 446.6 667C457.1 663.7 467.6 656.5 471.8 654.4"/>
<path class="gh" stroke-width="1.7" d="M330.8 689.7C337.5 688.4 358.1 684.6 371.1 682.1C384.1 679.6 396.2 677.1 408.8 674.6C421.4 672.1 436.1 670.4 446.6 667C457.1 663.7 467.6 656.5 471.8 654.4"/>
<path class="g" stroke-width="4" d="M469.3 656.9C471.4 658.2 478.9 661.1 481.8 664.5C484.8 667.9 488.6 672.9 486.9 677.1C485.2 681.3 478.5 685.9 471.8 689.7C465.1 693.5 450.8 698.1 446.6 699.7"/>
<path class="gh" stroke-width="1.7" d="M469.3 656.9C471.4 658.2 478.9 661.1 481.8 664.5C484.8 667.9 488.6 672.9 486.9 677.1C485.2 681.3 478.5 685.9 471.8 689.7C465.1 693.5 450.8 698.1 446.6 699.7"/>
<path d="M281.1 581.3L407.2 604.2L528.3 743.4L577.4 789.2L669.1 831.8L687.1 887.4L685.5 980.7L544.7 982.4L479.2 952.9L475.9 982.4L407.2 982.4L376.1 907.1L292.6 848.1L269.6 736.8Z" fill="#d9bdee" opacity="0.47" stroke="#d9bdee" stroke-width="14" stroke-linejoin="round"/>
<circle cx="289.2" cy="363.4" r="25" fill="url(#gg)" opacity="1"/>
<circle cx="280.2" cy="353.4" r="6" fill="url(#sp)"/>
<circle cx="660.4" cy="316.7" r="24" fill="url(#gg)" opacity="1"/>
<circle cx="651.8" cy="307.1" r="5.8" fill="url(#sp)"/>
<circle cx="497" cy="387.5" r="23.5" fill="url(#og)" opacity="1"/>
<circle cx="488.5" cy="378.1" r="5.6" fill="url(#sp)"/>
<circle cx="571.2" cy="437.4" r="21.4" fill="url(#ol)" opacity="1"/>
<circle cx="563.5" cy="428.8" r="5.1" fill="url(#sp)"/>
<circle cx="607.7" cy="479.4" r="23" fill="url(#gg)" opacity="1"/>
<circle cx="599.4" cy="470.2" r="5.5" fill="url(#sp)"/>
<circle cx="286.2" cy="536.1" r="22.7" fill="url(#gg)" opacity="1"/>
<circle cx="278" cy="527" r="5.4" fill="url(#sp)"/>
<circle cx="489.4" cy="578.9" r="21.4" fill="url(#ol)" opacity="0.85"/>
<circle cx="481.7" cy="570.3" r="5.1" fill="url(#sp)"/>
<circle cx="380.6" cy="663" r="23.8" fill="url(#og)" opacity="1"/>
<circle cx="372" cy="653.5" r="5.7" fill="url(#sp)"/>
<circle cx="426.7" cy="664.5" r="22" fill="url(#ol)" opacity="1"/>
<circle cx="418.8" cy="655.7" r="5.3" fill="url(#sp)"/>
<circle cx="462.8" cy="804" r="23" fill="url(#og)" opacity="1"/>
<circle cx="454.5" cy="794.8" r="5.5" fill="url(#sp)"/>
<circle cx="548.6" cy="756.5" r="25.5" fill="url(#gg)" opacity="1"/>
<circle cx="539.4" cy="746.3" r="6.1" fill="url(#sp)"/>
<circle cx="561" cy="895.6" r="25.5" fill="url(#og)" opacity="1"/>
<circle cx="551.8" cy="885.4" r="6.1" fill="url(#sp)"/>
<circle cx="213" cy="849" r="26.5" fill="url(#gg)" opacity="1"/>
<circle cx="203.5" cy="838.4" r="6.4" fill="url(#sp)"/>
<path class="p" d="M299.1 579.6A110.7 110.7 0 0 0 299.1 736.8"/>
<path class="p" d="M320.4 592.7A95 95 0 0 0 320.4 723.7"/>
<path class="p" d="M343.3 602.6A77.1 77.1 0 0 0 345 713.9"/>
<path class="p" d="M359.7 612.4A67.4 67.4 0 0 0 363 704.1"/>
<path class="p" d="M374.4 623.8A57.3 57.3 0 0 0 374.4 692.6"/>
<path class="p" d="M425.2 627.1A45.5 45.5 0 0 1 423.5 692.6"/>
<path class="p" d="M438.3 615.7A61.3 61.3 0 0 1 436.6 704.1"/>
<path class="p" d="M453 604.2A81.3 81.3 0 0 1 456.3 713.9"/>
<path class="p" d="M469.4 592.7A91.1 91.1 0 0 1 474.3 725.3"/>
<path class="p" d="M495.6 579.6A105.3 105.3 0 0 1 493.9 736.8"/>
<path class="p" d="M356.4 725.3A112.6 112.6 0 0 0 356.4 884.1"/>
<path class="p" d="M376.1 740.1A92.9 92.9 0 0 0 376.1 869.4"/>
<path class="p" d="M395.7 753.2A75.6 75.6 0 0 0 402.3 861.2"/>
<path class="p" d="M413.7 761.4A65.4 65.4 0 0 0 417 851.4"/>
<path class="p" d="M430.1 771.2A63.5 63.5 0 0 0 428.4 841.6"/>
<path class="p" d="M480.8 771.2A47.5 47.5 0 0 1 480.8 839.9"/>
<path class="p" d="M495.6 759.7A58 58 0 0 1 497.2 848.1"/>
<path class="p" d="M511.9 749.9A75.1 75.1 0 0 1 511.9 858"/>
<path class="p" d="M531.6 736.8A90.9 90.9 0 0 1 528.3 864.5"/>
<path class="p" d="M552.9 725.3A118.9 118.9 0 0 1 552.9 885.8"/>
<path class="p" d="M446.5 813.8A144.9 144.9 0 0 0 456.3 974.2"/>
<path class="p" d="M462.8 831.8A116.7 116.7 0 0 0 479.2 959.5"/>
<path class="p" d="M490.7 841.6A91 91 0 0 0 503.8 949.6"/>
<path class="p" d="M511.9 851.4A74.1 74.1 0 0 0 521.8 939.8"/>
<path class="p" d="M529.9 861.2A60.7 60.7 0 0 0 534.9 930"/>
<path class="p" d="M584 859.6A49.4 49.4 0 0 1 584 930"/>
<path class="p" d="M597.1 848.1A61.8 61.8 0 0 1 597.1 941.4"/>
<path class="p" d="M613.4 838.3A77.2 77.2 0 0 1 613.4 951.3"/>
<path class="p" d="M631.4 828.5A94.9 94.9 0 0 1 633.1 961.1"/>
<path class="p" d="M652.7 812.1A116.7 116.7 0 0 1 656 974.2"/>
<path d="M1251 962.5L1385.8 1098.1M1384.8 962.8L1250 1097.9" stroke="#2b2b2b" stroke-width="29.5" fill="none"/>
<path d="M2073.6 951.7L2208.7 1086.8M2207.8 951.7L2073.2 1086.8" stroke="#2b2b2b" stroke-width="29.5" fill="none"/>
<text transform="translate(164.5 55) scale(1.0000 1)" font-size="69">(A)</text>
<text transform="translate(296.2 46) scale(1.0300 1)" font-size="60.5">A</text>
<text transform="translate(343 65) scale(1.0500 1)" font-size="33.5">2A</text>
<text transform="translate(387 46) scale(1.0340 1)" font-size="60.5">AR with</text>
<text transform="translate(199 120) scale(1.0114 1)" font-size="61.3">full agonist bound</text>
<text transform="translate(1041.5 58) scale(1.0200 1)" font-size="69">(B)</text>
<text transform="translate(1174 46.7) scale(1.0300 1)" font-size="60.5">A</text>
<text transform="translate(1221 65.7) scale(1.0300 1)" font-size="33.5">2A</text>
<text transform="translate(1264 46.7) scale(1.0320 1)" font-size="60.5">AR with</text>
<text transform="translate(1005 119) scale(1.0124 1)" font-size="61.2">inverse agonist bound</text>
<text transform="translate(1799.5 57) scale(1.0200 1)" font-size="69">(C)</text>
<text transform="translate(1930.7 46.5) scale(1.0300 1)" font-size="60.5">A</text>
<text transform="translate(1978 66.5) scale(1.0500 1)" font-size="33.5">2A</text>
<text transform="translate(2021 46.5) scale(1.0260 1)" font-size="60.5">AR[D52</text>
<text transform="translate(2243 22.5) scale(1.0700 1)" font-size="35">2.50</text>
<text transform="translate(2315.6 46.5) scale(1.0000 1)" font-size="60.5">N]</text>
<text transform="translate(2399 46.5) scale(1.0440 1)" font-size="59">with</text>
<text transform="translate(1959 119) scale(1.0103 1)" font-size="61.3">full agonist bound</text>
<text transform="translate(286.6 1253.3) scale(1.0180 1)" font-size="61">Signal to</text>
<text transform="translate(98 1327) scale(1.0125 1)" font-size="61.4">G protein and Arrestin</text>
<text transform="translate(1156.4 1258) scale(1.0320 1)" font-size="60.5">No Signal</text>
<text transform="translate(1977.5 1258) scale(1.0340 1)" font-size="60.3">No Signal</text>
<text transform="translate(85.5 1183) scale(1.0600 1)" font-size="72" fill="#1c1c1c">V</text>
<text transform="translate(219.5 1108.6) scale(1.0500 1)" font-size="70" fill="#1c1c1c">VI</text>
<text transform="translate(739.5 996.4) scale(1.0300 1)" font-size="70" fill="#1c1c1c">VIII</text>
<text transform="translate(430.5 884) scale(1.0000 1)" font-size="68" fill="#1a1028">II</text>
<text transform="translate(2345.5 671) scale(1.0640 1)" font-size="58.5">N52</text>
<text transform="translate(2458.2 651.2) scale(1.0320 1)" font-size="35">2.50</text>
</svg></body></html>
